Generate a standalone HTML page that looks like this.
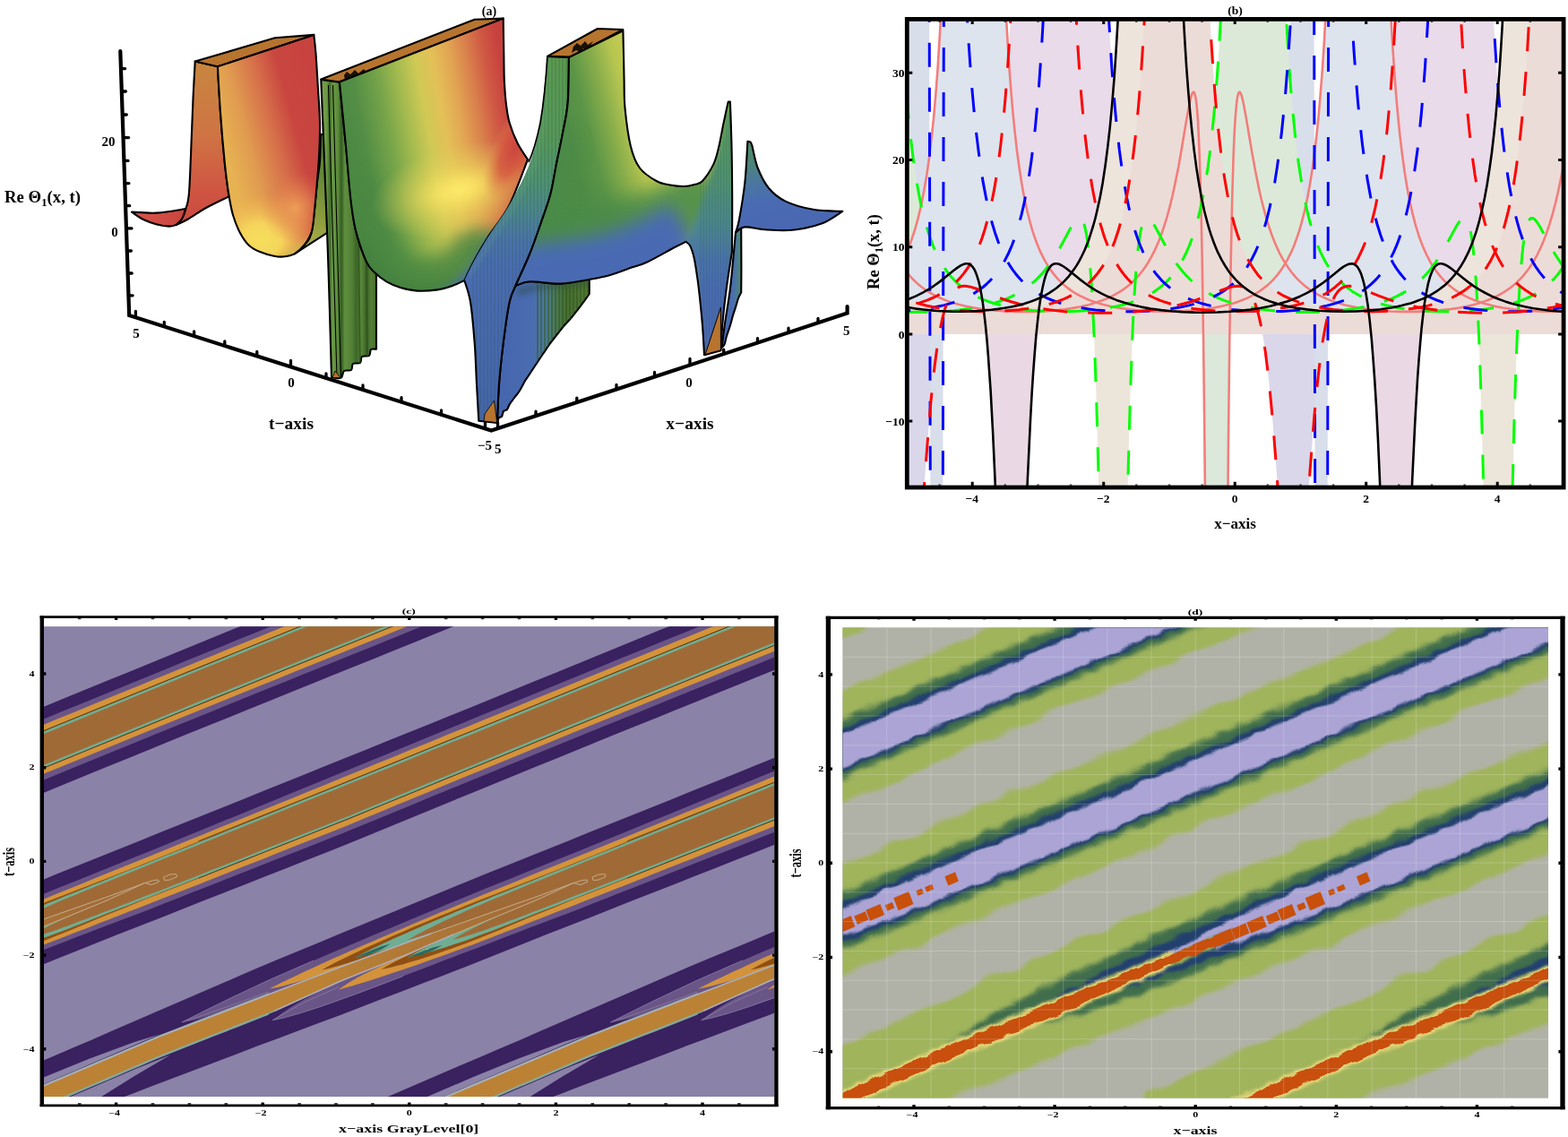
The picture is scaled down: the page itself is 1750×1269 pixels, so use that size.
<!DOCTYPE html>
<html lang="en"><head><meta charset="utf-8"><title>Figure: Re Theta1(x,t) plots</title>
<style>
html,body{margin:0;padding:0;background:#fff;}
body{width:1750px;height:1269px;overflow:hidden;}
svg{display:block;}
text{font-family:"Liberation Serif","DejaVu Serif",serif;font-weight:bold;fill:#000;}
</style></head><body>
<svg width="1750" height="1269" viewBox="0 0 1750 1269">
<defs>
<filter id="ab6" filterUnits="userSpaceOnUse" x="0" y="0" width="1000" height="540"><feGaussianBlur stdDeviation="6"/></filter>
<filter id="ab10" filterUnits="userSpaceOnUse" x="0" y="0" width="1000" height="540"><feGaussianBlur stdDeviation="10"/></filter>
<filter id="ab3" filterUnits="userSpaceOnUse" x="0" y="0" width="1000" height="540"><feGaussianBlur stdDeviation="3"/></filter>
<linearGradient id="a_tr" gradientUnits="userSpaceOnUse" x1="147" y1="236" x2="205" y2="250"><stop offset="0" stop-color="#d9564b"/><stop offset="1" stop-color="#c8443e"/></linearGradient>
<linearGradient id="a_w1s" gradientUnits="userSpaceOnUse" x1="225" y1="70" x2="225" y2="250"><stop offset="0" stop-color="#c8863f"/><stop offset="0.45" stop-color="#cf7444"/><stop offset="0.8" stop-color="#cf5442"/><stop offset="1" stop-color="#cb4a40"/></linearGradient>
<linearGradient id="a_ol" gradientUnits="userSpaceOnUse" x1="335" y1="282" x2="366" y2="190"><stop offset="0" stop-color="#b4b24a"/><stop offset="0.45" stop-color="#8c9c3e"/><stop offset="1" stop-color="#5f8638"/></linearGradient>
<clipPath id="a_w1c"><path d="M242.9 74.3 L350.3 38.9 L350.3 38.9 C350.7 42.4 351.7 49.8 352.5 60 C353.3 70.2 354.2 87.2 355 100 C355.8 112.8 356.8 124.5 357 137 C357.2 149.5 356.6 163.6 356 175 C355.4 186.4 354.5 195.7 353.7 205.7 C352.9 215.7 351.9 226.3 351 235 C350.1 243.7 349.8 251.7 348 258 C346.2 264.3 343.2 268.8 340 273 C336.8 277.2 332.6 281.1 328.6 283.4 C324.6 285.6 319.8 286.1 316 286.5 C312.2 286.9 310 286.6 305.7 285.7 C301.4 284.8 294.6 282.9 290 281 C285.4 279.1 281.7 277.5 278 274 C274.3 270.5 271 265.7 268 260 C265 254.3 262.2 247.5 260 240 C257.8 232.5 256.5 224.5 255 215 C253.5 205.5 252.4 197.8 250.9 182.9 C249.4 168 247.3 143.8 246 125.7 C244.7 107.6 243.4 82.9 242.9 74.3  Z"/></clipPath>
<linearGradient id="a_w1" gradientUnits="userSpaceOnUse" x1="246" y1="150" x2="356" y2="120"><stop offset="0" stop-color="#e7b352"/><stop offset="0.25" stop-color="#e09a50"/><stop offset="0.5" stop-color="#d6704a"/><stop offset="0.72" stop-color="#c94640"/><stop offset="1" stop-color="#c8433f"/></linearGradient>
<radialGradient id="a_w1y" gradientUnits="userSpaceOnUse" cx="292" cy="268" r="62" gradientTransform="translate(292 268) scale(1 0.85) translate(-292 -268)"><stop offset="0" stop-color="#f6df5c" stop-opacity="1"/><stop offset="0.35" stop-color="#f6d85c" stop-opacity="0.95"/><stop offset="1" stop-color="#f0b050" stop-opacity="0"/></radialGradient>
<radialGradient id="a_w1o" gradientUnits="userSpaceOnUse" cx="330" cy="232" r="40"><stop offset="0" stop-color="#f0a258" stop-opacity="0.9"/><stop offset="1" stop-color="#e07a4c" stop-opacity="0"/></radialGradient>
<clipPath id="a_gwc"><path d="M358.3 89 L379 91.4 L379 91.4 C380.1 102.8 383.4 137.1 385.7 160 C388 182.9 390.7 212.4 392.6 228.6 C394.5 244.8 394.3 246.5 397 257 C399.7 267.5 404.8 283.4 408.6 291.4 C412.4 299.4 418.1 302.7 420 305  L420 305 L420 389.7 L420 389.7 C419 389.8 415.3 388.8 414 390 C412.7 391.2 413.7 395.7 412 397 C410.3 398.3 405.7 396.7 404 398 C402.3 399.3 403.7 403.7 402 405 C400.3 406.3 395.7 404.7 394 406 C392.3 407.3 393.7 411.7 392 413 C390.3 414.3 385.8 412.6 384 414 C382.2 415.4 382.7 420.2 381 421.5 C379.3 422.8 375.8 421.8 374 421.7 C372.2 421.6 370.7 421.1 370 421  L370 421 C369.4 400.8 367.8 340.2 366.5 300 C365.2 259.8 363.4 215.2 362 180 C360.6 144.8 358.9 104.2 358.3 89  Z"/></clipPath>
<linearGradient id="a_gw" gradientUnits="userSpaceOnUse" x1="358" y1="0" x2="422" y2="0"><stop offset="0" stop-color="#7aa048"/><stop offset="0.1" stop-color="#6d9a45"/><stop offset="0.16" stop-color="#3f6a2a"/><stop offset="0.2" stop-color="#6a9a45"/><stop offset="0.3" stop-color="#5c8c3c"/><stop offset="0.36" stop-color="#345c22"/><stop offset="0.42" stop-color="#5f8f3e"/><stop offset="0.55" stop-color="#527f36"/><stop offset="0.62" stop-color="#3c6526"/><stop offset="0.7" stop-color="#5a8a3a"/><stop offset="0.8" stop-color="#3a6225"/><stop offset="0.88" stop-color="#547f36"/><stop offset="1" stop-color="#40672a"/></linearGradient>
<clipPath id="a_w2c"><path d="M378.9 91.4 L561.7 20.6 L561.7 20.6 C561.8 27.2 562.1 48.2 562.3 60 C562.5 71.8 562.4 81.9 562.9 91.4 C563.4 100.9 564 109.4 565 117 C566 124.6 566.5 129.8 568.6 137 C570.7 144.2 574.3 153.2 577.7 160 C581.1 166.8 587.1 175 589 178  L589 178 C585.6 186.4 575.8 214.4 568.6 228.6 C561.4 242.8 552.2 252.7 545.7 262.9 C539.2 273.1 534.3 281.6 529.7 290 C525.1 298.4 520.2 309.2 518.3 313  L518.3 313 C516.1 314 509.9 317.3 505 319 C500.1 320.7 495.2 322.5 488.6 323.4 C482.1 324.3 472.6 325 465.7 324.6 C458.8 324.2 452.7 322.7 447 321 C441.3 319.3 436.2 317.1 431.4 314.3 C426.6 311.5 421.8 307.8 418 304 C414.2 300.2 412.1 299.2 408.6 291.4 C405.1 283.6 399.9 268.4 397 257 C394.1 245.6 393.3 239.1 391.4 222.9 C389.5 206.7 387.8 181.9 385.7 160 C383.6 138.1 380 102.8 378.9 91.4  Z"/></clipPath>
<linearGradient id="a_w2" gradientUnits="userSpaceOnUse" x1="385" y1="150" x2="577" y2="115"><stop offset="0" stop-color="#4e8a45"/><stop offset="0.1" stop-color="#548e46"/><stop offset="0.24" stop-color="#74a349"/><stop offset="0.36" stop-color="#a2ba4e"/><stop offset="0.47" stop-color="#cfc955"/><stop offset="0.57" stop-color="#e3c058"/><stop offset="0.67" stop-color="#e2a553"/><stop offset="0.77" stop-color="#d9804c"/><stop offset="0.87" stop-color="#cf5744"/><stop offset="0.95" stop-color="#c8423e"/><stop offset="1" stop-color="#c6403d"/></linearGradient>
<radialGradient id="a_w2y" gradientUnits="userSpaceOnUse" cx="512" cy="212" r="84" gradientTransform="translate(512 212) rotate(-14) scale(1.2 0.6) translate(-512 -212)"><stop offset="0" stop-color="#fde968" stop-opacity="1"/><stop offset="0.2" stop-color="#f8e363" stop-opacity="0.9"/><stop offset="0.55" stop-color="#ecd85c" stop-opacity="0.45"/><stop offset="1" stop-color="#e0d058" stop-opacity="0"/></radialGradient>
<radialGradient id="a_w2r" gradientUnits="userSpaceOnUse" cx="575" cy="165" r="46" gradientTransform="translate(575 165) rotate(25) scale(0.55 1.4) translate(-575 -165)"><stop offset="0" stop-color="#cb463f" stop-opacity="1"/><stop offset="0.5" stop-color="#d5583f" stop-opacity="0.8"/><stop offset="1" stop-color="#e08a4e" stop-opacity="0"/></radialGradient>
<clipPath id="a_unc"><path d="M554.9 472 C555.2 471 556.1 467.2 557 466 C557.9 464.8 559.2 466.2 560 465 C560.8 463.8 561 460.3 562 459 C563 457.7 564.9 458.3 566 457 C567.1 455.7 567.3 453.6 568.6 451.4 C569.9 449.2 572.1 446.6 574 444 C575.9 441.4 578 439.2 580 436 C582 432.8 584.1 428.2 586 425 C587.9 421.8 589.1 420.5 591.4 417 C593.7 413.5 597.6 407.7 600 404 C602.4 400.3 603.6 398.5 606 395 C608.4 391.5 611.6 386.6 614.3 382.9 C617 379.2 619.4 376.3 622 373 C624.6 369.7 627.5 365.9 630 363 C632.5 360.1 634.3 358.6 637 355.4 C639.7 352.2 643.5 347.2 646 344 C648.5 340.8 650 338.7 652 336 C654 333.3 656.8 329.3 657.7 328  L657.7 328 L657.7 310 L657.7 310 C652.4 311.1 636.8 315.9 625.7 316.6 C614.7 317.3 599.8 313.9 591.4 314.3 C583 314.7 578.1 318.1 575.4 318.9  L575.4 318.9 C574.3 321.9 570.9 326.3 568.6 337 C566.3 347.7 563.6 367.6 561.7 382.9 C559.8 398.2 558.1 413.8 557 428.6 C555.9 443.5 555.2 464.8 554.9 472  Z"/></clipPath>
<linearGradient id="a_un" gradientUnits="userSpaceOnUse" x1="566" y1="0" x2="660" y2="0"><stop offset="0" stop-color="#4667ae"/><stop offset="0.3" stop-color="#4a6cb0"/><stop offset="0.45" stop-color="#4b7a96"/><stop offset="0.58" stop-color="#4a7a58"/><stop offset="0.7" stop-color="#466f32"/><stop offset="1" stop-color="#527a34"/></linearGradient>
<clipPath id="a_flc"><path d="M610.9 62.9 L634.9 64 L634.9 64 C634.7 72.4 634.9 100.2 633.7 114.3 C632.6 128.4 630.1 137.2 628 148.6 C625.9 160 623.3 171.6 621 183 C618.7 194.4 617.3 205.7 614.3 217 C611.3 228.3 606.8 240 603 251 C599.2 262 596 271.7 591.4 283 C586.8 294.3 578.1 312.9 575.4 318.9  L575.4 318.9 C574.3 321.9 570.9 326.3 568.6 337 C566.3 347.7 563.6 367.6 561.7 382.9 C559.8 398.2 558.1 413.8 557 428.6 C555.9 443.5 555.2 464.8 554.9 472  L554.9 472 L534.3 469.7 L534.3 469.7 C533.9 462.9 532.8 443.1 532 428.6 C531.2 414.1 530.9 398.2 529.7 382.9 C528.5 367.6 526.9 348.6 525 337 C523.1 325.4 519.4 317 518.3 313  L518.3 313 C520.2 309.2 525.1 298.4 529.7 290 C534.3 281.6 539.2 273.1 545.7 262.9 C552.2 252.7 561.1 241.9 568.6 228.6 C576.1 215.3 585.3 198.3 591 183 C596.7 167.7 599.7 157 603 137 C606.3 117 609.6 75.2 610.9 62.9  Z"/></clipPath>
<linearGradient id="a_fl" gradientUnits="userSpaceOnUse" x1="0" y1="64" x2="0" y2="470"><stop offset="0" stop-color="#5b9a4f"/><stop offset="0.22" stop-color="#57985a"/><stop offset="0.34" stop-color="#4f9272"/><stop offset="0.43" stop-color="#4c8590"/><stop offset="0.5" stop-color="#4a74aa"/><stop offset="0.57" stop-color="#4a6cb3"/><stop offset="1" stop-color="#4565ad"/></linearGradient>
<clipPath id="a_w3c"><path d="M634.9 64 L695.4 34.3 L695.4 34.3 C695.5 40.2 696 60.5 696.2 70 C696.4 79.5 696.4 82.8 696.6 91.4 C696.8 100 696.4 109.8 697.6 121.7 C698.8 133.6 701.1 151.9 703.8 162.9 C706.5 173.9 709.2 181 714 187.5 C718.8 194 726.9 198.8 732.6 202 C738.3 205.2 742.9 205.5 748 206.5 C753.1 207.5 758.9 208.1 763.4 208 C767.9 207.9 771.6 207 775 206 C778.4 205 780.5 205.8 784 202 C787.5 198.2 793.3 189.6 796.3 183.4 C799.3 177.2 800.3 171.8 802 165 C803.7 158.2 805.3 148.8 806.6 142.3 C807.9 135.8 809 130.8 810 126 C811 121.2 812.3 115.6 812.8 113.5  L812.8 113.5 L814.9 113.5 L814.9 113.5 C815.2 121.7 816.1 145.2 816.5 162.9 C816.9 180.7 817.1 200.3 817.2 220 C817.3 239.7 817 270.8 816.9 281  L816.9 281 C815.9 287.9 812.4 309.1 810.7 322.3 C809 335.5 807.5 348.5 806.5 360 C805.5 371.5 804.9 386 804.6 391.2  L804.6 391.2 L786 396.3 L786 396.3 C785.7 390.8 785 375.7 784 363.4 C783 351.1 781.2 333.7 779.9 322.3 C778.6 310.9 777 301.4 776 295 C775 288.6 774.7 287.5 773.7 284 C772.7 280.5 771.4 276.4 770 274 C768.6 271.6 766.2 270.5 765.5 269.8  L765.5 269.8 C763.4 270.8 760.2 272.2 753 276 C745.8 279.8 730.2 288.8 722.3 292.5 C714.4 296.2 712.6 295.9 705.7 298.3 C698.8 300.7 688.6 304.7 681 306.9 C673.4 309.1 669.2 309.9 660 311.5 C650.8 313.1 637.1 316.1 625.7 316.6 C614.3 317.1 599.8 313.9 591.4 314.3 C583 314.7 578.1 318.1 575.4 318.9  L575.4 318.9 C578.1 312.9 586.8 294.3 591.4 283 C596 271.7 599.2 262 603 251 C606.8 240 611.3 228.3 614.3 217 C617.3 205.7 618.7 194.4 621 183 C623.3 171.6 625.9 160 628 148.6 C630.1 137.2 632.6 128.4 633.7 114.3 C634.9 100.2 634.7 72.4 634.9 64  Z"/></clipPath>
<linearGradient id="a_w3" gradientUnits="userSpaceOnUse" x1="628" y1="130" x2="724" y2="105"><stop offset="0" stop-color="#4f8c46"/><stop offset="0.25" stop-color="#5c9547"/><stop offset="0.5" stop-color="#88ad4a"/><stop offset="0.72" stop-color="#b6c550"/><stop offset="1" stop-color="#cfd155"/></linearGradient>
<linearGradient id="a_w3p" gradientUnits="userSpaceOnUse" x1="0" y1="110" x2="0" y2="400"><stop offset="0" stop-color="#569a58"/><stop offset="0.3" stop-color="#509270"/><stop offset="0.5" stop-color="#4c8490"/><stop offset="0.62" stop-color="#4a72ac"/><stop offset="0.75" stop-color="#4a6ab3"/><stop offset="1" stop-color="#4867b0"/></linearGradient>
<linearGradient id="a_p4b" gradientUnits="userSpaceOnUse" x1="806" y1="0" x2="828" y2="0"><stop offset="0" stop-color="#4a69b2"/><stop offset="0.55" stop-color="#4a6db0"/><stop offset="0.8" stop-color="#4c7f8a"/><stop offset="1" stop-color="#4f8c60"/></linearGradient>
<linearGradient id="a_p4" gradientUnits="userSpaceOnUse" x1="836" y1="158" x2="850" y2="250"><stop offset="0" stop-color="#4f8a62"/><stop offset="0.25" stop-color="#4d8478"/><stop offset="0.5" stop-color="#4b76a0"/><stop offset="0.75" stop-color="#4a6bb3"/><stop offset="1" stop-color="#4968b1"/></linearGradient>
<clipPath id="bclip"><rect x="1012.3" y="21.4" width="732.8" height="522.6"/></clipPath>
<clipPath id="cclip"><rect x="49" y="699.2" width="815.2" height="524.8"/></clipPath>
<linearGradient id="c_cen" gradientUnits="userSpaceOnUse" x1="360" y1="0" x2="580" y2="0"><stop offset="0" stop-color="#bb8235"/><stop offset="1" stop-color="#a36c37"/></linearGradient>
<g id="cband"><path d="M-60 1230.1 L-36.9 1220.2 L-13.7 1210.2 L9.4 1200.3 L32.6 1190.3 L55.7 1180.4 L78.9 1170.6 L102 1160.7 L125.1 1150.6 L148.3 1140.6 L171.4 1130.6 L194.6 1120.6 L217.7 1110.6 L240.9 1100.6 L264 1090.6 L287.1 1080.6 L310.3 1070.8 L333.4 1061.2 L356.6 1051.7 L379.7 1042.1 L402.9 1032.6 L426 1023.1 L449.1 1013.6 L472.3 1004 L495.4 994.5 L518.6 985 L541.7 975.6 L564.9 966.3 L588 957 L611.1 947.7 L634.3 938.4 L657.4 929.1 L680.6 919.8 L703.7 910.5 L726.9 901.2 L750 891.9 L773.1 882.5 L796.3 873.2 L819.4 863.9 L842.6 854.6 L865.7 845.3 L888.9 836 L912 826.6 L935.1 817.3 L958.3 807.9 L981.4 798.6 L1004.6 789.2 L1027.7 779.8 L1050.9 770.3 L1074 760.8 L1097.1 751.4 L1120.3 741.9 L1143.4 732.5 L1166.6 723 L1189.7 713.6 L1212.9 704.1 L1236 694.7 L1259.1 685.4 L1282.3 676 L1305.4 666.6 L1328.6 657.2 L1351.7 647.9 L1374.9 638.5 L1398 629.1 L1421.1 619.7 L1444.3 610.3 L1467.4 600.9 L1490.6 591.5 L1513.7 582.1 L1536.9 572.6 L1560 563.2 L1560 660 L1536.9 669.4 L1513.7 678.7 L1490.6 688.1 L1467.4 697.4 L1444.3 706.8 L1421.1 716.2 L1398 725.5 L1374.9 734.9 L1351.7 744.3 L1328.6 753.6 L1305.4 763 L1282.3 772.3 L1259.1 781.7 L1236 791 L1212.9 800.4 L1189.7 809.7 L1166.6 819 L1143.4 828.5 L1120.3 837.9 L1097.1 847.4 L1074 856.8 L1050.9 866.3 L1027.7 875.8 L1004.6 885.2 L981.4 894.7 L958.3 904.3 L935.1 913.8 L912 923.3 L888.9 932.8 L865.7 942.3 L842.6 951.4 L819.4 960.6 L796.3 969.7 L773.1 978.8 L750 987.9 L726.9 997 L703.7 1006.1 L680.6 1015.3 L657.4 1024.4 L634.3 1033.5 L611.1 1042.6 L588 1051.8 L564.9 1061.1 L541.7 1070.3 L518.6 1079.5 L495.4 1088.4 L472.3 1097.3 L449.1 1106.2 L426 1115.1 L402.9 1124 L379.7 1132.9 L356.6 1141.5 L333.4 1150.2 L310.3 1158.9 L287.1 1167.6 L264 1176.4 L240.9 1185.2 L217.7 1194 L194.6 1202.8 L171.4 1211.6 L148.3 1220.4 L125.1 1229.3 L102 1238.1 L78.9 1246.9 L55.7 1255.7 L32.6 1264.5 L9.4 1273.3 L-13.7 1282.1 L-36.9 1290.9 L-60 1299.7 Z" fill="#3a2160"/>
<path d="M-60 1249 L49.1 1202.3 L100 1181.5 L150 1163 L178 1154.5 L150 1166.5 L100 1188 L49.1 1210 L-60 1256.5 Z" fill="#8a82a7"/>
<path d="M60 1256 L114 1223.6 L150 1201 L190 1177.5 L150 1193.5 L100 1215 L60 1232 Z" fill="#8a82a7"/>
<path d="M203 1141 L203.2 1140.9 L203.7 1140.7 L204.5 1140.2 L205.7 1139.6 L207.2 1138.8 L209 1137.9 L211.2 1136.8 L213.7 1135.5 L216.6 1134.1 L219.8 1132.5 L223.3 1130.7 L227.1 1128.8 L231.3 1126.7 L235.8 1124.4 L240.7 1122.1 L245.9 1119.5 L251.4 1116.8 L257.3 1114 L263.5 1111.1 L270 1107.9 L276.9 1104.7 L284.1 1101.3 L291.6 1097.8 L299.5 1094.1 L307.7 1090.5 L316.3 1086.7 L325.1 1082.9 L334.3 1078.8 L343.9 1074.7 L353.8 1070.5 L364 1066.1 L374.6 1061.6 L385.4 1056.9 L396.7 1052.2 L408.2 1047.3 L420.1 1042.3 L432.3 1037.2 L444.9 1031.9 L457.8 1026.5 L471 1021 L484.6 1015.4 L498.5 1009.6 L512.8 1003.7 L527.3 997.7 L542.2 991.6 L557.5 985.5 L573.1 979.2 L589 972.7 L605.2 966.2 L621.8 959.5 L638.7 952.7 L656 945.7 L673.6 938.5 L691.5 931.2 L709.8 923.7 L728.4 916.1 L747.3 908.4 L766.6 900.5 L786.2 892.5 L806.1 884.3 L826.4 876 L847 867.6 L867.9 859.1 L889.2 850.3 L910.8 841.5 L932.8 832.5 L955 823.3 L977.7 814 L1000.6 804.6 L1023.9 795.1 L1047.5 785.5 L1071.5 775.7 L1095.8 765.7 L1120.4 755.7 L1145.4 745.5 L1170.7 735.1 L1196.3 724.7 L1222.3 714.1 L1248.6 703.4 L1275.2 692.7 L1302.2 681.7 L1329.5 670.7 L1357.1 659.5 L1385.1 648.1 L1413.4 636.6 L1442.1 625 L1471 613.2 L1500.4 601.3 L1530 589.2 L1560 577 L1560 612.6 L1530 624.8 L1500.4 636.8 L1471 648.7 L1442.1 660.4 L1413.4 672.1 L1385.1 683.5 L1357.1 694.9 L1329.5 706.1 L1302.2 717.1 L1275.2 728 L1248.6 738.8 L1222.3 749.4 L1196.3 760 L1170.7 770.4 L1145.4 780.7 L1120.4 790.9 L1095.8 800.9 L1071.5 810.9 L1047.5 820.7 L1023.9 830.3 L1000.6 839.8 L977.7 849.2 L955 858.4 L932.8 867.5 L910.8 876.4 L889.2 885.2 L867.9 893.9 L847 902.3 L826.4 910.5 L806.1 918.5 L786.2 926.5 L766.6 934.3 L747.3 942 L728.4 949.5 L709.8 956.9 L691.5 964.2 L673.6 971.3 L656 978.3 L638.7 986.6 L621.8 992.9 L605.2 999 L589 1004.8 L573.1 1010.4 L557.5 1015.9 L542.2 1021.2 L527.3 1026.4 L512.8 1031.5 L498.5 1036.5 L484.6 1041.3 L471 1046.3 L457.8 1051.1 L444.9 1055.9 L432.3 1060.5 L420.1 1065 L408.2 1069.4 L396.7 1073.7 L385.4 1077.8 L374.6 1081.9 L364 1085.9 L353.8 1089.8 L343.9 1093.6 L334.3 1097.2 L325.1 1100.7 L316.3 1104.1 L307.7 1107.3 L299.5 1110.4 L291.6 1113.3 L284.1 1116.2 L276.9 1118.8 L270 1121.3 L263.5 1123.7 L257.3 1125.9 L251.4 1127.9 L245.9 1129.8 L240.7 1131.5 L235.8 1133 L231.3 1134.4 L227.1 1135.6 L223.3 1136.7 L219.8 1137.6 L216.6 1138.4 L213.7 1139 L211.2 1139.6 L209 1140 L207.2 1140.3 L205.7 1140.6 L204.5 1140.8 L203.7 1140.9 L203.2 1141 L203 1141 Z" fill="#6a5587"/>
<path d="M304.2 1138.6 L304.4 1138.6 L304.8 1138.5 L305.6 1138.3 L306.7 1138.1 L308.1 1137.8 L309.8 1137.5 L311.8 1137 L314.1 1136.5 L316.8 1135.9 L319.7 1135.1 L323 1134.3 L326.5 1133.3 L330.4 1132.2 L334.6 1130.9 L339.1 1129.6 L343.9 1128 L349 1126.4 L354.4 1124.6 L360.2 1122.7 L366.2 1120.6 L372.6 1118.4 L379.2 1116 L386.2 1113.5 L393.5 1110.8 L401.1 1108 L409 1105 L417.2 1101.9 L425.7 1098.7 L434.6 1095.3 L443.7 1091.8 L453.2 1088.2 L463 1084.5 L473 1080.7 L483.4 1076.7 L494.1 1072.6 L505.1 1068.4 L516.4 1064.1 L528.1 1059.7 L540 1055.2 L552.3 1050.5 L564.8 1045.6 L577.7 1040.7 L590.9 1035.6 L604.4 1030.5 L618.1 1025.3 L632.3 1020 L646.7 1014.4 L661.4 1008.6 L676.4 1002.7 L691.8 996.6 L707.5 990.5 L723.4 984.2 L739.7 977.8 L756.3 971.2 L773.2 964.6 L790.4 957.8 L807.9 950.9 L825.7 943.9 L843.9 936.7 L862.3 929.4 L881.1 921.8 L900.2 913.9 L919.5 905.9 L939.2 897.9 L959.2 889.6 L979.5 881.3 L1000.2 872.8 L1021.1 864.2 L1042.3 855.5 L1063.9 846.7 L1085.7 837.8 L1107.9 828.7 L1130.4 819.5 L1153.2 810.2 L1176.3 800.9 L1199.7 791.4 L1223.4 781.8 L1247.4 772.1 L1271.8 762.3 L1296.4 752.3 L1321.4 742.3 L1346.7 732 L1372.3 721.7 L1398.1 711.2 L1424.3 700.6 L1450.9 689.9 L1477.7 679 L1504.8 668 L1532.2 656.9 L1560 645.7 L1560 610.6 L1532.2 621.9 L1504.8 633 L1477.7 644 L1450.9 654.9 L1424.3 665.6 L1398.1 676.2 L1372.3 686.7 L1346.7 697.1 L1321.4 707.3 L1296.4 717.4 L1271.8 727.4 L1247.4 737.2 L1223.4 747 L1199.7 756.6 L1176.3 766.1 L1153.2 775.5 L1130.4 784.8 L1107.9 794 L1085.7 803 L1063.9 812 L1042.3 820.8 L1021.1 829.5 L1000.2 838 L979.5 846.4 L959.2 854.7 L939.2 862.8 L919.5 870.9 L900.2 878.8 L881.1 886.5 L862.3 894.2 L843.9 901.5 L825.7 908.7 L807.9 915.8 L790.4 922.8 L773.2 929.6 L756.3 936.4 L739.7 943 L723.4 949.5 L707.5 955.8 L691.8 962.1 L676.4 968.2 L661.4 974.1 L646.7 980 L632.3 988.5 L618.1 995 L604.4 1001.4 L590.9 1007.2 L577.7 1012.7 L564.8 1018 L552.3 1023.2 L540 1028.3 L528.1 1033.2 L516.4 1038.1 L505.1 1042.8 L494.1 1047.5 L483.4 1052.2 L473 1056.6 L463 1061 L453.2 1065.2 L443.7 1069 L434.6 1072.6 L425.7 1076.2 L417.2 1079.7 L409 1083 L401.1 1086.3 L393.5 1089.4 L386.2 1092.4 L379.2 1095.4 L372.6 1098.6 L366.2 1101.7 L360.2 1104.7 L354.4 1107.6 L349 1110.4 L343.9 1113.2 L339.1 1115.8 L334.6 1118.3 L330.4 1120.8 L326.5 1123.1 L323 1125.3 L319.7 1127.4 L316.8 1129.4 L314.1 1131.2 L311.8 1132.9 L309.8 1134.4 L308.1 1135.7 L306.7 1136.7 L305.6 1137.6 L304.8 1138.1 L304.4 1138.5 L304.2 1138.6 Z" fill="#6a5587"/>
<path d="M300.5 1103.5 L300.7 1103.4 L301.1 1103.2 L301.9 1102.8 L303 1102.3 L304.4 1101.6 L306.1 1100.7 L308.1 1099.7 L310.5 1098.6 L313.1 1097.3 L316 1095.8 L319.3 1094.2 L322.9 1092.5 L326.8 1090.7 L331 1088.7 L335.5 1086.5 L340.3 1084.3 L345.4 1081.9 L350.9 1079.4 L356.6 1076.8 L362.7 1074 L369.1 1071.1 L375.8 1068.1 L382.8 1065 L390.1 1061.8 L397.7 1058.4 L405.6 1055 L413.9 1051.4 L422.4 1047.7 L431.3 1043.9 L440.4 1040 L449.9 1035.9 L459.7 1031.8 L469.8 1027.5 L480.3 1023.1 L491 1018.6 L502 1014 L513.4 1009.2 L525 1004.4 L537 999.5 L549.3 994.5 L561.9 989.4 L574.8 984.2 L588 978.8 L601.5 973.3 L615.4 967.7 L629.5 962 L644 956.2 L658.8 950.2 L673.8 944 L689.2 937.8 L704.9 931.4 L721 924.8 L737.3 918.2 L753.9 911.4 L770.9 904.5 L788.1 897.5 L805.7 890.4 L823.6 883.1 L841.8 875.7 L860.3 868.1 L879.1 860.5 L898.2 852.6 L917.7 844.7 L937.4 836.6 L957.5 828.4 L977.8 820.1 L998.5 811.7 L1019.5 803.1 L1040.8 794.4 L1062.4 785.6 L1084.3 776.6 L1106.6 767.5 L1129.1 758.3 L1152 749 L1175.2 739.5 L1198.6 729.9 L1222.4 720.2 L1246.5 710.5 L1270.9 700.6 L1295.7 690.6 L1320.7 680.4 L1346 670.2 L1371.7 659.7 L1397.7 649.2 L1423.9 638.5 L1450.5 627.7 L1477.4 616.8 L1504.6 605.7 L1532.2 594.6 L1560 583.2 L1560 612.6 L1532.2 623.9 L1504.6 635.1 L1477.4 646.1 L1450.5 657 L1423.9 667.8 L1397.7 678.4 L1371.7 689 L1346 699.4 L1320.7 709.6 L1295.7 719.7 L1270.9 729.7 L1246.5 739.6 L1222.4 749.4 L1198.6 759 L1175.2 768.5 L1152 778 L1129.1 787.3 L1106.6 796.5 L1084.3 805.6 L1062.4 814.6 L1040.8 823.4 L1019.5 832.1 L998.5 840.7 L977.8 849.1 L957.5 857.4 L937.4 865.6 L917.7 873.6 L898.2 881.6 L879.1 889.4 L860.3 897 L841.8 904.3 L823.6 911.6 L805.7 918.7 L788.1 925.7 L770.9 932.6 L753.9 939.3 L737.3 945.9 L721 952.4 L704.9 958.8 L689.2 965.1 L673.8 971.2 L658.8 977.2 L644 983.1 L629.5 990 L615.4 995.3 L601.5 1000.4 L588 1005.2 L574.8 1009.8 L561.9 1014.3 L549.3 1018.7 L537 1023 L525 1027.2 L513.4 1031.3 L502 1035.2 L491 1039.1 L480.3 1042.9 L469.8 1046.7 L459.7 1050.4 L449.9 1054 L440.4 1057.5 L431.3 1060.9 L422.4 1064.1 L413.9 1067.2 L405.6 1070.2 L397.7 1073.1 L390.1 1075.8 L382.8 1078.4 L375.8 1081 L369.1 1083.4 L362.7 1085.7 L356.6 1087.8 L350.9 1089.8 L345.4 1091.7 L340.3 1093.4 L335.5 1094.9 L331 1096.3 L326.8 1097.5 L322.9 1098.6 L319.3 1099.6 L316 1100.4 L313.1 1101.1 L310.5 1101.7 L308.1 1102.2 L306.1 1102.6 L304.4 1102.9 L303 1103.1 L301.9 1103.3 L301.1 1103.4 L300.7 1103.5 L300.5 1103.5 Z" fill="#d4933a"/>
<path d="M378 1104.5 L378.1 1104.5 L378.6 1104.3 L379.3 1104.2 L380.3 1103.9 L381.6 1103.5 L383.3 1103.1 L385.2 1102.6 L387.3 1101.9 L389.8 1101.2 L392.6 1100.4 L395.7 1099.5 L399 1098.5 L402.7 1097.4 L406.6 1096.2 L410.8 1094.9 L415.4 1093.5 L420.2 1091.9 L425.3 1090.3 L430.7 1088.5 L436.4 1086.6 L442.4 1084.6 L448.6 1082.5 L455.2 1080.3 L462.1 1077.9 L469.2 1075.4 L476.6 1072.8 L484.4 1070 L492.4 1067.2 L500.7 1064.2 L509.3 1061 L518.2 1057.8 L527.4 1054.4 L536.9 1050.8 L546.7 1047 L556.8 1043.1 L567.1 1039 L577.8 1034.9 L588.7 1030.6 L600 1026.2 L611.5 1021.7 L623.3 1017.1 L635.4 1012.4 L647.8 1007.6 L660.5 1002.6 L673.5 997.5 L686.8 992.2 L700.4 986.9 L714.2 981.4 L728.4 975.8 L742.8 970.1 L757.6 964.3 L772.6 958.4 L787.9 952.3 L803.5 946.1 L819.4 939.8 L835.6 933.4 L852.1 926.9 L868.9 920.2 L886 913.1 L903.3 905.9 L921 898.6 L938.9 891.2 L957.2 883.7 L975.7 876 L994.5 868.3 L1013.7 860.4 L1033.1 852.5 L1052.8 844.4 L1072.8 836.3 L1093 828 L1113.6 819.5 L1134.5 811 L1155.6 802.4 L1177.1 793.7 L1198.8 784.9 L1220.9 776 L1243.2 767 L1265.8 757.9 L1288.7 748.6 L1311.9 739.2 L1335.4 729.8 L1359.2 720.1 L1383.3 710.4 L1407.7 700.5 L1432.3 690.6 L1457.3 680.5 L1482.5 670.2 L1508.1 659.9 L1533.9 649.5 L1560 638.9 L1560 610.6 L1533.9 621.2 L1508.1 631.7 L1482.5 642 L1457.3 652.3 L1432.3 662.4 L1407.7 672.4 L1383.3 682.3 L1359.2 692 L1335.4 701.7 L1311.9 711.2 L1288.7 720.5 L1265.8 729.8 L1243.2 739 L1220.9 748 L1198.8 756.9 L1177.1 765.8 L1155.6 774.5 L1134.5 783.1 L1113.6 791.6 L1093 800.1 L1072.8 808.4 L1052.8 816.5 L1033.1 824.6 L1013.7 832.5 L994.5 840.3 L975.7 848 L957.2 855.5 L938.9 863 L921 870.3 L903.3 877.5 L886 884.5 L868.9 891.5 L852.1 898.2 L835.6 904.8 L819.4 911.2 L803.5 917.6 L787.9 923.8 L772.6 929.9 L757.6 935.9 L742.8 941.7 L728.4 947.5 L714.2 953.1 L700.4 958.6 L686.8 964 L673.5 969.3 L660.5 974.5 L647.8 979.6 L635.4 987 L623.3 992.6 L611.5 998.1 L600 1003.4 L588.7 1008.1 L577.8 1012.6 L567.1 1017.1 L556.8 1021.4 L546.7 1025.5 L536.9 1029.6 L527.4 1033.6 L518.2 1037.4 L509.3 1041.1 L500.7 1044.8 L492.4 1048.4 L484.4 1051.9 L476.6 1055.3 L469.2 1058.6 L462.1 1061.8 L455.2 1064.9 L448.6 1067.7 L442.4 1070.4 L436.4 1073 L430.7 1075.5 L425.3 1078 L420.2 1080.4 L415.4 1082.7 L410.8 1084.9 L406.6 1087.1 L402.7 1089.1 L399 1091.1 L395.7 1093 L392.6 1094.8 L389.8 1096.5 L387.3 1098 L385.2 1099.5 L383.3 1100.7 L381.6 1101.8 L380.3 1102.7 L379.3 1103.5 L378.6 1104 L378.1 1104.4 L378 1104.5 Z" fill="#d4933a"/>
<path d="M359 1082.5 L359.1 1082.4 L359.6 1082.2 L360.3 1081.8 L361.4 1081.2 L362.7 1080.5 L364.3 1079.6 L366.3 1078.5 L368.5 1077.3 L371 1076 L373.8 1074.6 L376.9 1073 L380.4 1071.2 L384.1 1069.4 L388.1 1067.4 L392.4 1065.4 L397 1063.2 L401.9 1060.9 L407 1058.5 L412.5 1056 L418.3 1053.4 L424.4 1050.7 L430.8 1047.9 L437.4 1045 L444.4 1042 L451.7 1038.9 L459.2 1035.6 L467.1 1032.3 L475.2 1028.9 L483.7 1025.4 L492.4 1021.8 L501.5 1018.2 L510.8 1014.4 L520.5 1010.6 L530.4 1006.6 L540.6 1002.6 L551.2 998.5 L562 994.3 L573.1 990 L584.5 985.5 L596.2 981 L608.2 976.3 L620.6 971.5 L633.2 966.4 L646.1 961.2 L659.2 955.9 L672.7 950.4 L686.5 944.8 L700.6 939.1 L715 933.3 L729.7 927.4 L744.7 921.3 L759.9 915.1 L775.5 908.8 L791.4 902.4 L807.5 895.9 L824 889.2 L840.7 882.5 L857.8 875.6 L875.1 868.6 L892.8 861.4 L910.7 854.1 L929 846.7 L947.5 839.2 L966.3 831.5 L985.4 823.8 L1004.9 815.9 L1024.6 807.8 L1044.6 799.7 L1064.9 791.4 L1085.5 782.9 L1106.4 774.4 L1127.6 765.7 L1149.1 756.9 L1170.9 748 L1193 739 L1215.4 729.9 L1238.1 720.7 L1261.1 711.4 L1284.4 701.9 L1307.9 692.4 L1331.8 682.7 L1356 672.9 L1380.4 663 L1405.2 652.9 L1430.3 642.7 L1455.6 632.5 L1481.3 622 L1507.2 611.5 L1533.5 600.8 L1560 590 L1560 612.6 L1533.5 623.4 L1507.2 634 L1481.3 644.5 L1455.6 654.9 L1430.3 665.2 L1405.2 675.4 L1380.4 685.4 L1356 695.3 L1331.8 705.1 L1307.9 714.8 L1284.4 724.3 L1261.1 733.7 L1238.1 743 L1215.4 752.2 L1193 761.3 L1170.9 770.3 L1149.1 779.1 L1127.6 787.9 L1106.4 796.6 L1085.5 805.1 L1064.9 813.6 L1044.6 821.9 L1024.6 830 L1004.9 838.1 L985.4 846 L966.3 853.8 L947.5 861.5 L929 869 L910.7 876.5 L892.8 883.8 L875.1 891 L857.8 898 L840.7 904.8 L824 911.4 L807.5 918 L791.4 924.4 L775.5 930.7 L759.9 936.9 L744.7 943 L729.7 949 L715 954.8 L700.6 960.5 L686.5 966.1 L672.7 971.6 L659.2 977 L646.1 982.3 L633.2 988.6 L620.6 993.3 L608.2 997.9 L596.2 1002.3 L584.5 1006.4 L573.1 1010.4 L562 1014.3 L551.2 1018.1 L540.6 1021.7 L530.4 1025.3 L520.5 1028.8 L510.8 1032.1 L501.5 1035.4 L492.4 1038.6 L483.7 1041.6 L475.2 1044.6 L467.1 1047.6 L459.2 1050.5 L451.7 1053.2 L444.4 1055.8 L437.4 1058.3 L430.8 1060.7 L424.4 1062.9 L418.3 1065 L412.5 1067 L407 1068.9 L401.9 1070.6 L397 1072.2 L392.4 1073.6 L388.1 1074.9 L384.1 1076.1 L380.4 1077.2 L376.9 1078.2 L373.8 1079 L371 1079.8 L368.5 1080.4 L366.3 1080.9 L364.3 1081.4 L362.7 1081.7 L361.4 1082 L360.3 1082.2 L359.6 1082.4 L359.1 1082.5 L359 1082.5 Z" fill="#8f4f14"/>
<path d="M425.4 1082 L425.5 1082 L426 1081.9 L426.7 1081.8 L427.6 1081.6 L428.9 1081.3 L430.4 1081 L432.3 1080.6 L434.4 1080.1 L436.7 1079.5 L439.4 1078.9 L442.3 1078.1 L445.6 1077.3 L449.1 1076.4 L452.9 1075.3 L456.9 1074.1 L461.3 1072.8 L465.9 1071.4 L470.8 1069.9 L476 1068.2 L481.4 1066.4 L487.2 1064.5 L493.2 1062.4 L499.5 1060.2 L506.1 1057.9 L512.9 1055.5 L520.1 1052.9 L527.5 1050 L535.2 1047 L543.2 1043.7 L551.5 1040.4 L560 1036.9 L568.8 1033.3 L577.9 1029.5 L587.3 1025.6 L597 1021.6 L606.9 1017.6 L617.2 1013.4 L627.7 1009.1 L638.5 1004.6 L649.5 1000.2 L660.9 995.8 L672.5 991.2 L684.4 986.5 L696.6 981.7 L709 976.8 L721.8 971.8 L734.8 966.6 L748.1 961.4 L761.7 956 L775.6 950.6 L789.7 945 L804.2 939.3 L818.9 933.5 L833.9 927.6 L849.1 921.5 L864.7 915.4 L880.5 908.9 L896.6 902.3 L913 895.5 L929.7 888.7 L946.6 881.7 L963.8 874.6 L981.4 867.4 L999.1 860.1 L1017.2 852.7 L1035.6 845.2 L1054.2 837.5 L1073.1 829.8 L1092.3 822 L1111.8 814 L1131.5 805.9 L1151.5 797.7 L1171.9 789.5 L1192.4 781.2 L1213.3 772.8 L1234.5 764.2 L1255.9 755.6 L1277.6 746.8 L1299.6 737.9 L1321.9 728.9 L1344.4 719.8 L1367.3 710.6 L1390.4 701.2 L1413.8 691.8 L1437.4 682.2 L1461.4 672.5 L1485.6 662.7 L1510.1 652.8 L1534.9 642.7 L1560 632.6 L1560 610.6 L1534.9 620.8 L1510.1 630.8 L1485.6 640.8 L1461.4 650.6 L1437.4 660.3 L1413.8 669.9 L1390.4 679.4 L1367.3 688.8 L1344.4 698 L1321.9 707.1 L1299.6 716.1 L1277.6 725 L1255.9 733.8 L1234.5 742.5 L1213.3 751.1 L1192.4 759.5 L1171.9 767.9 L1151.5 776.1 L1131.5 784.3 L1111.8 792.4 L1092.3 800.4 L1073.1 808.2 L1054.2 815.9 L1035.6 823.6 L1017.2 831.1 L999.1 838.4 L981.4 845.7 L963.8 852.8 L946.6 859.8 L929.7 866.7 L913 873.5 L896.6 880.2 L880.5 886.8 L864.7 893.2 L849.1 899.4 L833.9 905.5 L818.9 911.5 L804.2 917.3 L789.7 923.1 L775.6 928.7 L761.7 934.2 L748.1 939.6 L734.8 944.9 L721.8 950.1 L709 955.2 L696.6 960.1 L684.4 965 L672.5 969.7 L660.9 974.4 L649.5 978.9 L638.5 985.6 L627.7 990.6 L617.2 995.5 L606.9 1000.2 L597 1004.7 L587.3 1008.7 L577.9 1012.6 L568.8 1016.4 L560 1020 L551.5 1023.6 L543.2 1027.1 L535.2 1030.4 L527.5 1033.6 L520.1 1036.8 L512.9 1039.8 L506.1 1042.7 L499.5 1045.6 L493.2 1048.4 L487.2 1051.2 L481.4 1053.8 L476 1056.3 L470.8 1058.7 L465.9 1061.1 L461.3 1063.3 L456.9 1065.4 L452.9 1067.4 L449.1 1069.2 L445.6 1071 L442.3 1072.6 L439.4 1074.1 L436.7 1075.5 L434.4 1076.8 L432.3 1078 L430.4 1079 L428.9 1079.9 L427.6 1080.7 L426.7 1081.2 L426 1081.7 L425.5 1081.9 L425.4 1082 Z" fill="#8f4f14"/>
<path d="M396.4 1068.6 L396.5 1068.5 L397 1068.3 L397.7 1067.9 L398.7 1067.4 L400 1066.7 L401.6 1065.9 L403.4 1064.9 L405.6 1063.8 L408 1062.6 L410.8 1061.2 L413.8 1059.7 L417.1 1058.1 L420.7 1056.4 L424.6 1054.5 L428.7 1052.6 L433.2 1050.5 L437.9 1048.3 L442.9 1046.1 L448.3 1043.7 L453.9 1041.2 L459.8 1038.6 L465.9 1035.9 L472.4 1033.1 L479.1 1030.2 L486.2 1027.3 L493.5 1024.2 L501.1 1020.9 L509 1017.6 L517.2 1014.2 L525.7 1010.7 L534.5 1007.1 L543.5 1003.4 L552.8 999.6 L562.5 995.8 L572.4 991.8 L582.6 987.6 L593.1 983.4 L603.8 979.1 L614.9 974.6 L626.2 970 L637.9 965.4 L649.8 960.5 L662 955.6 L674.5 950.5 L687.3 945.4 L700.4 940.1 L713.7 934.7 L727.4 929.2 L741.3 923.5 L755.5 917.8 L770 911.9 L784.8 905.9 L799.9 899.8 L815.3 893.6 L831 887.3 L846.9 880.8 L863.1 874.3 L879.7 867.5 L896.5 860.7 L913.6 853.8 L930.9 846.7 L948.6 839.5 L966.6 832.2 L984.8 824.8 L1003.3 817.3 L1022.2 809.6 L1041.3 801.8 L1060.7 793.9 L1080.3 785.9 L1100.3 777.7 L1120.6 769.4 L1141.1 761 L1161.9 752.5 L1183.1 743.9 L1204.5 735.2 L1226.1 726.3 L1248.1 717.4 L1270.4 708.4 L1292.9 699.3 L1315.8 690 L1338.9 680.7 L1362.3 671.1 L1386 661.5 L1410 651.8 L1434.3 641.9 L1458.9 631.9 L1483.7 621.8 L1508.9 611.6 L1534.3 601.3 L1560 590.8 L1560 612.6 L1534.3 623 L1508.9 633.4 L1483.7 643.5 L1458.9 653.6 L1434.3 663.6 L1410 673.4 L1386 683.1 L1362.3 692.8 L1338.9 702.2 L1315.8 711.6 L1292.9 720.8 L1270.4 730 L1248.1 739 L1226.1 747.9 L1204.5 756.7 L1183.1 765.3 L1161.9 773.9 L1141.1 782.4 L1120.6 790.8 L1100.3 799.1 L1080.3 807.3 L1060.7 815.3 L1041.3 823.2 L1022.2 831 L1003.3 838.7 L984.8 846.3 L966.6 853.7 L948.6 861 L930.9 868.2 L913.6 875.3 L896.5 882.3 L879.7 889.1 L863.1 895.8 L846.9 902.3 L831 908.7 L815.3 914.9 L799.9 921 L784.8 927 L770 932.9 L755.5 938.7 L741.3 944.3 L727.4 949.9 L713.7 955.3 L700.4 960.6 L687.3 965.8 L674.5 970.9 L662 975.9 L649.8 980.8 L637.9 986.9 L626.2 991.2 L614.9 995.4 L603.8 999.6 L593.1 1003.4 L582.6 1007.1 L572.4 1010.6 L562.5 1014.1 L552.8 1017.5 L543.5 1020.7 L534.5 1023.9 L525.7 1026.9 L517.2 1029.9 L509 1032.7 L501.1 1035.4 L493.5 1038.1 L486.2 1040.6 L479.1 1043 L472.4 1045.4 L465.9 1047.7 L459.8 1049.9 L453.9 1051.9 L448.3 1053.8 L442.9 1055.6 L437.9 1057.3 L433.2 1058.8 L428.7 1060.2 L424.6 1061.5 L420.7 1062.6 L417.1 1063.7 L413.8 1064.6 L410.8 1065.4 L408 1066.1 L405.6 1066.7 L403.4 1067.2 L401.6 1067.6 L400 1067.9 L398.7 1068.2 L397.7 1068.4 L397 1068.5 L396.5 1068.6 L396.4 1068.6 Z" fill="#6fae94"/>
<path d="M454.4 1068.6 L454.5 1068.6 L454.9 1068.5 L455.6 1068.4 L456.6 1068.2 L457.8 1067.9 L459.3 1067.6 L461.1 1067.2 L463.1 1066.7 L465.5 1066.2 L468 1065.6 L470.9 1064.8 L474.1 1064 L477.5 1063.1 L481.2 1062 L485.1 1060.9 L489.3 1059.6 L493.8 1058.2 L498.6 1056.7 L503.7 1055.1 L509 1053.3 L514.6 1051.4 L520.5 1049.4 L526.6 1047.2 L533 1044.8 L539.7 1042.3 L546.7 1039.7 L553.9 1036.9 L561.4 1034 L569.2 1030.9 L577.2 1027.8 L585.6 1024.5 L594.2 1021.1 L603 1017.6 L612.2 1014.1 L621.6 1010.4 L631.3 1006.6 L641.3 1002.7 L651.5 998.7 L662 994.5 L672.8 990.3 L683.8 985.9 L695.2 981.5 L706.8 976.9 L718.7 972.2 L730.8 967.4 L743.2 962.5 L755.9 957.5 L768.9 952.4 L782.1 947.2 L795.6 941.8 L809.4 936.4 L823.5 930.9 L837.8 925.2 L852.4 919.4 L867.3 913.5 L882.4 907.3 L897.9 900.9 L913.6 894.5 L929.5 887.9 L945.8 881.2 L962.3 874.4 L979.1 867.5 L996.1 860.5 L1013.5 853.4 L1031.1 846.2 L1049 838.9 L1067.1 831.5 L1085.5 823.9 L1104.2 816.3 L1123.2 808.5 L1142.5 800.7 L1162 792.7 L1181.8 784.7 L1201.8 776.6 L1222.2 768.4 L1242.8 760.1 L1263.7 751.6 L1284.8 743.1 L1306.3 734.4 L1328 725.7 L1349.9 716.8 L1372.2 707.8 L1394.7 698.7 L1417.5 689.5 L1440.6 680.1 L1463.9 670.7 L1487.5 661.1 L1511.4 651.4 L1535.6 641.7 L1560 631.8 L1560 610.6 L1535.6 620.5 L1511.4 630.3 L1487.5 640 L1463.9 649.6 L1440.6 659 L1417.5 668.4 L1394.7 677.6 L1372.2 686.8 L1349.9 695.8 L1328 704.7 L1306.3 713.5 L1284.8 722.1 L1263.7 730.7 L1242.8 739.1 L1222.2 747.5 L1201.8 755.7 L1181.8 763.9 L1162 771.9 L1142.5 779.9 L1123.2 787.7 L1104.2 795.5 L1085.5 803.1 L1067.1 810.7 L1049 818.1 L1031.1 825.4 L1013.5 832.6 L996.1 839.7 L979.1 846.6 L962.3 853.4 L945.8 860.2 L929.5 866.8 L913.6 873.3 L897.9 879.7 L882.4 886 L867.3 892.2 L852.4 898.1 L837.8 903.9 L823.5 909.6 L809.4 915.2 L795.6 920.7 L782.1 926.1 L768.9 931.4 L755.9 936.5 L743.2 941.6 L730.8 946.5 L718.7 951.4 L706.8 956.1 L695.2 960.7 L683.8 965.2 L672.8 969.6 L662 973.9 L651.5 978.1 L641.3 982.2 L631.3 988.9 L621.6 993.4 L612.2 997.8 L603 1002 L594.2 1005.8 L585.6 1009.4 L577.2 1012.9 L569.2 1016.2 L561.4 1019.5 L553.9 1022.6 L546.7 1025.7 L539.7 1028.6 L533 1031.4 L526.6 1034.2 L520.5 1036.8 L514.6 1039.3 L509 1041.7 L503.7 1044.1 L498.6 1046.4 L493.8 1048.6 L489.3 1050.7 L485.1 1052.7 L481.2 1054.7 L477.5 1056.5 L474.1 1058.2 L470.9 1059.7 L468 1061.2 L465.5 1062.6 L463.1 1063.8 L461.1 1064.9 L459.3 1065.9 L457.8 1066.7 L456.6 1067.4 L455.6 1067.9 L454.9 1068.3 L454.5 1068.5 L454.4 1068.6 Z" fill="#6fae94"/>
<path d="M455 1049 L455.1 1048.9 L455.5 1048.7 L456.2 1048.3 L457.2 1047.7 L458.4 1047 L459.9 1046.2 L461.7 1045.2 L463.7 1044.1 L466.1 1042.8 L468.6 1041.4 L471.5 1039.9 L474.6 1038.3 L478.1 1036.5 L481.7 1034.7 L485.7 1032.7 L489.9 1030.7 L494.4 1028.5 L499.2 1026.2 L504.2 1023.9 L509.6 1021.5 L515.2 1018.9 L521 1016.3 L527.2 1013.6 L533.6 1010.9 L540.3 1008 L547.2 1005.1 L554.5 1002.1 L562 999 L569.7 995.7 L577.8 992.4 L586.1 989 L594.7 985.5 L603.6 981.9 L612.7 978.2 L622.1 974.4 L631.8 970.5 L641.8 966.4 L652 962.3 L662.5 958.1 L673.3 953.7 L684.3 949.2 L695.6 944.7 L707.2 940 L719.1 935.2 L731.2 930.3 L743.7 925.2 L756.4 920.1 L769.3 914.9 L782.5 909.5 L796 904.1 L809.8 898.5 L823.9 892.8 L838.2 887.1 L852.8 881.2 L867.7 875.1 L882.8 869 L898.2 862.7 L913.9 856.4 L929.9 849.9 L946.1 843.3 L962.6 836.6 L979.4 829.8 L996.4 822.9 L1013.8 815.9 L1031.4 808.7 L1049.2 801.4 L1067.4 793.9 L1085.8 786.4 L1104.5 778.8 L1123.5 771 L1142.7 763.2 L1162.2 755.2 L1182 747.1 L1202 738.9 L1222.4 730.7 L1243 722.3 L1263.8 713.9 L1285 705.3 L1306.4 696.6 L1328.1 687.8 L1350.1 678.9 L1372.3 669.9 L1394.8 660.8 L1417.6 651.5 L1440.6 642.1 L1464 632.7 L1487.6 623.1 L1511.4 613.4 L1535.6 603.6 L1560 593.6 L1560 612.6 L1535.6 622.5 L1511.4 632.3 L1487.6 642 L1464 651.6 L1440.6 661 L1417.6 670.4 L1394.8 679.6 L1372.3 688.7 L1350.1 697.7 L1328.1 706.6 L1306.4 715.4 L1285 724.1 L1263.8 732.6 L1243 741.1 L1222.4 749.4 L1202 757.6 L1182 765.8 L1162.2 773.8 L1142.7 781.8 L1123.5 789.6 L1104.5 797.4 L1085.8 805 L1067.4 812.5 L1049.2 820 L1031.4 827.3 L1013.8 834.5 L996.4 841.5 L979.4 848.5 L962.6 855.3 L946.1 862 L929.9 868.7 L913.9 875.2 L898.2 881.6 L882.8 887.8 L867.7 894 L852.8 900 L838.2 905.8 L823.9 911.5 L809.8 917.1 L796 922.5 L782.5 927.9 L769.3 933.2 L756.4 938.4 L743.7 943.4 L731.2 948.3 L719.1 953.2 L707.2 957.9 L695.6 962.5 L684.3 967 L673.3 971.4 L662.5 975.7 L652 979.9 L641.8 984 L631.8 989.1 L622.1 992.8 L612.7 996.3 L603.6 999.7 L594.7 1002.8 L586.1 1005.8 L577.8 1008.7 L569.7 1011.5 L562 1014.2 L554.5 1016.8 L547.2 1019.3 L540.3 1021.7 L533.6 1024 L527.2 1026.2 L521 1028.3 L515.2 1030.3 L509.6 1032.2 L504.2 1033.9 L499.2 1035.6 L494.4 1037.1 L489.9 1038.6 L485.7 1039.9 L481.7 1041.1 L478.1 1042.3 L474.6 1043.4 L471.5 1044.3 L468.6 1045.2 L466.1 1046 L463.7 1046.6 L461.7 1047.2 L459.9 1047.7 L458.4 1048.1 L457.2 1048.4 L456.2 1048.7 L455.5 1048.9 L455.1 1049 L455 1049 Z" fill="#a06a37"/>
<path d="M505 1049 L505.1 1049 L505.5 1048.9 L506.2 1048.7 L507.1 1048.5 L508.3 1048.1 L509.7 1047.8 L511.4 1047.3 L513.3 1046.7 L515.5 1046.1 L518 1045.4 L520.8 1044.6 L523.8 1043.7 L527 1042.7 L530.5 1041.5 L534.3 1040.3 L538.3 1038.9 L542.6 1037.4 L547.2 1035.8 L552 1034 L557.1 1032.2 L562.4 1030.2 L568 1028.1 L573.9 1025.9 L580 1023.6 L586.4 1021.2 L593 1018.6 L600 1015.9 L607.1 1013.2 L614.5 1010.3 L622.2 1007.4 L630.2 1004.3 L638.4 1001.1 L646.8 997.8 L655.6 994.4 L664.6 990.9 L673.8 987.2 L683.3 983.5 L693.1 979.7 L703.1 975.7 L713.4 971.6 L723.9 967.5 L734.8 963.2 L745.8 958.9 L757.2 954.4 L768.8 949.8 L780.6 945.1 L792.7 940.4 L805.1 935.5 L817.7 930.5 L830.6 925.4 L843.8 920.2 L857.2 914.9 L870.9 909.4 L884.8 903.7 L899 897.8 L913.5 891.8 L928.2 885.8 L943.2 879.6 L958.4 873.3 L973.9 867 L989.6 860.5 L1005.7 853.9 L1021.9 847.2 L1038.5 840.5 L1055.3 833.6 L1072.4 826.6 L1089.7 819.5 L1107.3 812.3 L1125.1 805.1 L1143.2 797.7 L1161.6 790.2 L1180.2 782.6 L1199.1 775 L1218.2 767.3 L1237.6 759.4 L1257.3 751.5 L1277.2 743.5 L1297.4 735.3 L1317.9 727 L1338.6 718.7 L1359.6 710.2 L1380.8 701.6 L1402.3 692.9 L1424 684.1 L1446 675.2 L1468.3 666.2 L1490.8 657.1 L1513.6 647.8 L1536.7 638.5 L1560 629.1 L1560 610.6 L1536.7 620.1 L1513.6 629.4 L1490.8 638.7 L1468.3 647.8 L1446 656.8 L1424 665.7 L1402.3 674.6 L1380.8 683.3 L1359.6 691.9 L1338.6 700.4 L1317.9 708.8 L1297.4 717 L1277.2 725.2 L1257.3 733.3 L1237.6 741.2 L1218.2 749.1 L1199.1 756.8 L1180.2 764.5 L1161.6 772.1 L1143.2 779.6 L1125.1 787 L1107.3 794.2 L1089.7 801.4 L1072.4 808.5 L1055.3 815.5 L1038.5 822.4 L1021.9 829.1 L1005.7 835.8 L989.6 842.3 L973.9 848.7 L958.4 855 L943.2 861.2 L928.2 867.4 L913.5 873.3 L899 879.2 L884.8 885 L870.9 890.7 L857.2 896.2 L843.8 901.6 L830.6 906.8 L817.7 911.9 L805.1 917 L792.7 921.9 L780.6 926.7 L768.8 931.4 L757.2 936 L745.8 940.5 L734.8 944.9 L723.9 949.3 L713.4 953.5 L703.1 957.6 L693.1 961.5 L683.3 965.4 L673.8 969.2 L664.6 972.9 L655.6 976.5 L646.8 980 L638.4 985.7 L630.2 989.5 L622.2 993.2 L614.5 996.8 L607.1 1000.3 L600 1003.6 L593 1006.6 L586.4 1009.4 L580 1012.1 L573.9 1014.8 L568 1017.3 L562.4 1019.8 L557.1 1022.2 L552 1024.5 L547.2 1026.7 L542.6 1028.8 L538.3 1030.9 L534.3 1032.8 L530.5 1034.7 L527 1036.5 L523.8 1038.2 L520.8 1039.8 L518 1041.3 L515.5 1042.7 L513.3 1043.9 L511.4 1045.1 L509.7 1046.1 L508.3 1047 L507.1 1047.7 L506.2 1048.2 L505.5 1048.7 L505.1 1048.9 L505 1049 Z" fill="#a06a37"/>
<path d="M203 1141 L215 1134.9 L235 1124.9 L260 1112.7 L300 1093.9 L350 1072.1" fill="none" stroke="#8577a0" stroke-width="0.9"/>
<path d="M203 1141 L240 1128.5 L280 1114.2 L300 1107" fill="none" stroke="#8577a0" stroke-width="0.9"/>
<path d="M304.2 1138.6 L316 1136.1 L336 1130.5 L360 1122.7 L400 1108.4 L450 1089.4" fill="none" stroke="#8577a0" stroke-width="0.9"/>
<path d="M304.2 1138.6 L340 1118.5 L378 1101.5" fill="none" stroke="#8577a0" stroke-width="0.9"/>
<path d="M-60 1256.5 L-48 1251.4 L-36 1246.3 L-24 1241.2 L-12 1236.1 L0 1231 L12 1225.9 L24 1220.8 L36 1215.7 L48 1210.6 L60 1205.5 L72 1200.4 L84 1195.3 L96 1190.2 L108 1185.1 L120 1180 L132 1174.9 L144 1169.8 L156 1164.7 L168 1159.6 L180 1154.5 L192 1149.9 L204 1145.3 L216 1140.6 L228 1136 L240 1131.4 L252 1126.8 L264 1122.2 L276 1117.5 L288 1112.9 L300 1108.3 L300 1132.6 L288 1137.3 L276 1142 L264 1146.7 L252 1151.4 L240 1156.1 L228 1160.8 L216 1165.6 L204 1170.3 L192 1175 L180 1179.7 L168 1184.8 L156 1190 L144 1195.1 L132 1200.2 L120 1205.4 L108 1210.5 L96 1215.6 L84 1220.8 L72 1225.9 L60 1231 L48 1236.2 L36 1241.3 L24 1246.5 L12 1251.7 L0 1256.9 L-12 1262 L-24 1267.2 L-36 1272.4 L-48 1277.5 L-60 1282.7 Z" fill="#86a99a"/>
<path d="M-60 1258 L-46 1252 L-32 1246.1 L-18 1240.1 L-4 1234.2 L10 1228.2 L24 1222.3 L38 1216.3 L52 1210.4 L66 1204.4 L80 1198.5 L94 1192.5 L108 1186.6 L122 1180.6 L136 1174.7 L150 1168.7 L164 1162.8 L178 1156.8 L192 1151.4 L206 1146 L220 1140.6 L234 1135.2 L248 1129.8 L262 1124.4 L276 1119 L290 1113.7 L304 1108.3 L318 1102.9 L332 1097.6 L346 1092.2 L360 1086.8 L374 1081.5 L388 1076.3 L402 1071.1 L416 1065.9 L430 1060.8 L444 1055.6 L458 1050.5 L472 1045.3 L486 1040.3 L500 1035.4 L514 1030.5 L528 1025.6 L542 1020.7 L556 1015.8 L570 1010.9 L584 1006 L598 1001.1 L612 995.9 L626 990.7 L640 985.5 L640 985.5 L626 992 L612 998.5 L598 1004.8 L584 1010.6 L570 1016.4 L556 1022.3 L542 1028.1 L528 1033.9 L514 1039.7 L500 1045.6 L486 1051.6 L472 1057.7 L458 1063.7 L444 1069.4 L430 1075 L416 1080.6 L402 1086.2 L388 1091.8 L374 1097.7 L360 1104.1 L346 1110.4 L332 1116.7 L318 1123.1 L304 1129.3 L290 1134.8 L276 1140.3 L262 1145.8 L248 1151.3 L234 1156.8 L220 1162.3 L206 1167.8 L192 1173.3 L178 1178.9 L164 1184.8 L150 1190.8 L136 1196.8 L122 1202.8 L108 1208.8 L94 1214.8 L80 1220.8 L66 1226.8 L52 1232.8 L38 1238.8 L24 1244.8 L10 1250.8 L-4 1256.9 L-18 1262.9 L-32 1268.9 L-46 1275 L-60 1281 Z" fill="url(#c_cen)"/>
<path d="M-60 1258 L49.1 1211.6 L180 1156 L306 1107.5 L380 1079.2 L481 1042" fill="none" stroke="#adafba" stroke-width="1.7"/>
<path d="M506 1043 L455.7 1064.7 L380 1095 L306 1128.5" fill="none" stroke="#adafba" stroke-width="1.7"/>
<path d="M481 1042 L600 1000.4 L640 985.5 L650 982.5 L655 982 L656 984 L648 987.5 L640 985.5 L600 1004 L506 1043" fill="none" stroke="#c4ad8c" stroke-width="1.0"/>
<path d="M306 1128.5 L180 1178 L49.1 1234 L-60 1281" fill="none" stroke="#86a99a" stroke-width="1.6"/>
<path d="M661 979 L668 976 L675 975.5 L676 978.5 L668 982 L662 982.5 L661 979" fill="none" stroke="#c9b08a" stroke-width="0.9"/>
<path d="M700 938.8 L864 873.2 L1006 815.5 L1158 753.4 L1342 678.8 L1560 590.4" fill="none" stroke="#3a2a18" stroke-width="0.7"/>
<path d="M700 980.2 L864 915.2 L1006 857.1 L1158 795 L1342 720.6 L1560 632.3" fill="none" stroke="#3a2a18" stroke-width="0.7"/>
<circle cx="477" cy="1060" r="1.1" fill="#e8efe6"/>
<path d="M396.4 1068.6 L410 1062.6 L425 1056.6 L436 1053.2 L426 1059.6 L412 1065.6 Z" fill="#2f6a5e"/>
<path d="M454.4 1068.6 L468 1063 L483 1057.6 L494 1054.8 L484 1060.6 L470 1066 Z" fill="#2f6a5e"/></g>
<clipPath id="dclip"><rect x="940.6" y="700.6" width="787.4" height="524.8"/></clipPath>
<filter id="b8" x="-5%" y="-20%" width="110%" height="140%"><feGaussianBlur stdDeviation="2.0" result="b"/><feTurbulence type="fractalNoise" baseFrequency="0.03 0.05" numOctaves="1" seed="3" result="n"/><feDisplacementMap in="b" in2="n" scale="15" xChannelSelector="R" yChannelSelector="G"/></filter>
<filter id="b3" x="-5%" y="-20%" width="110%" height="140%"><feGaussianBlur stdDeviation="2.4" result="b"/><feTurbulence type="fractalNoise" baseFrequency="0.06 0.09" numOctaves="1" seed="7" result="n"/><feDisplacementMap in="b" in2="n" scale="9" xChannelSelector="R" yChannelSelector="G"/></filter>
<filter id="b2" x="-5%" y="-20%" width="110%" height="140%"><feGaussianBlur stdDeviation="1.5" result="b"/><feTurbulence type="fractalNoise" baseFrequency="0.06 0.09" numOctaves="1" seed="7" result="n"/><feDisplacementMap in="b" in2="n" scale="9" xChannelSelector="R" yChannelSelector="G"/></filter>
<filter id="b1" x="-5%" y="-20%" width="110%" height="140%"><feGaussianBlur stdDeviation="0.8" result="b"/><feTurbulence type="fractalNoise" baseFrequency="0.06 0.09" numOctaves="1" seed="7" result="n"/><feDisplacementMap in="b" in2="n" scale="9" xChannelSelector="R" yChannelSelector="G"/></filter>
<filter id="bo" x="-5%" y="-20%" width="110%" height="140%"><feGaussianBlur stdDeviation="0.7" result="b"/><feTurbulence type="fractalNoise" baseFrequency="0.08 0.11" numOctaves="1" seed="11" result="n"/><feDisplacementMap in="b" in2="n" scale="7" xChannelSelector="R" yChannelSelector="G"/></filter>
<filter id="by" x="-5%" y="-20%" width="110%" height="140%"><feGaussianBlur stdDeviation="1.6" result="b"/><feTurbulence type="fractalNoise" baseFrequency="0.08 0.11" numOctaves="1" seed="11" result="n"/><feDisplacementMap in="b" in2="n" scale="7" xChannelSelector="R" yChannelSelector="G"/></filter>
<filter id="djag" filterUnits="userSpaceOnUse" x="900" y="660" width="860" height="600"><feTurbulence type="fractalNoise" baseFrequency="0.085 0.11" numOctaves="2" seed="7" result="n"/><feDisplacementMap in="SourceGraphic" in2="n" scale="9" xChannelSelector="R" yChannelSelector="G"/></filter>
<g id="dband"><g filter="url(#b8)"><path d="M-80 1217 L-52.7 1205.6 L-25.3 1194.3 L2 1182.9 L29.3 1171.5 L56.7 1160.1 L84 1148.8 L111.3 1137.2 L138.7 1125.3 L166 1113.4 L193.3 1101.4 L220.7 1089.5 L248 1077.6 L275.3 1065.6 L302.7 1053.8 L330 1042.7 L357.3 1031.5 L384.7 1020.4 L412 1009.2 L439.3 997.9 L466.7 986.7 L494 975.4 L521.3 964.2 L548.7 952.9 L576 941.5 L603.3 930.3 L630.7 919.4 L658 908.5 L685.3 897.6 L712.7 886.7 L740 875.9 L767.3 865 L794.7 854.1 L822 843.2 L849.3 832.3 L876.7 821.3 L904 810.2 L931.3 799.1 L958.7 787.9 L986 776.8 L1013.3 765.6 L1040.7 754.5 L1068 743.3 L1095.3 732.1 L1122.7 720.9 L1150 709.8 L1177.3 698.7 L1204.7 687.6 L1232 676.5 L1259.3 665.4 L1286.7 654.4 L1314 643.3 L1341.3 632.3 L1368.7 621.2 L1396 610.1 L1423.3 599 L1450.7 587.9 L1478 576.9 L1505.3 565.8 L1532.7 554.7 L1560 543.6 L1560 668.6 L1532.7 679.7 L1505.3 690.8 L1478 701.9 L1450.7 712.9 L1423.3 724 L1396 735.1 L1368.7 746.2 L1341.3 757.3 L1314 768.3 L1286.7 779.4 L1259.3 790.4 L1232 801.5 L1204.7 812.6 L1177.3 823.7 L1150 834.8 L1122.7 845.9 L1095.3 857.1 L1068 868.3 L1040.7 879.5 L1013.3 890.6 L986 901.8 L958.7 912.9 L931.3 924.1 L904 935.2 L876.7 946.3 L849.3 957.3 L822 968.2 L794.7 979.1 L767.3 990 L740 1000.9 L712.7 1011.7 L685.3 1022.6 L658 1033.5 L630.7 1044.4 L603.3 1055.3 L576 1066.1 L548.7 1076.9 L521.3 1087.6 L494 1098.3 L466.7 1109 L439.3 1119.7 L412 1130.4 L384.7 1141.1 L357.3 1151.7 L330 1162.3 L302.7 1172.8 L275.3 1183.5 L248 1194.2 L220.7 1204.9 L193.3 1215.6 L166 1226.3 L138.7 1237 L111.3 1247.7 L84 1258.5 L56.7 1269.2 L29.3 1279.9 L2 1290.7 L-25.3 1301.5 L-52.7 1312.2 L-80 1323 Z" fill="#a0b45c"/></g>
<g filter="url(#b3)"><path d="M170 1160.7 L193.2 1146.1 L216.3 1131.7 L239.5 1120.1 L262.7 1108.5 L285.8 1096.9 L309 1085.9 L332.2 1075.9 L355.3 1065.8 L378.5 1055.7 L401.7 1045.5 L424.8 1035.5 L448 1026 L471.2 1016.5 L494.3 1007.1 L517.5 997.6 L540.7 988.1 L563.8 978.5 L587 969 L610.2 959.5 L633.3 950.3 L656.5 941.1 L679.7 931.9 L702.8 922.7 L726 913.4 L749.2 904.2 L772.3 895 L795.5 885.8 L818.7 876.5 L841.8 867.3 L865 858.1 L888.2 848.7 L911.3 839.2 L934.5 829.8 L957.7 820.3 L980.8 810.9 L1004 801.5 L1027.2 792 L1050.3 782.5 L1073.5 773 L1096.7 763.6 L1119.8 754.1 L1143 744.6 L1166.2 735.2 L1189.3 725.8 L1212.5 716.4 L1235.7 707 L1258.8 697.6 L1282 688.3 L1305.2 678.9 L1328.3 669.5 L1351.5 660.2 L1374.7 650.8 L1397.8 641.4 L1421 632 L1444.2 622.6 L1467.3 613.2 L1490.5 603.8 L1513.7 594.4 L1536.8 585 L1560 575.6 L1560 603.6 L1536.8 613 L1513.7 622.4 L1490.5 631.8 L1467.3 641.2 L1444.2 650.6 L1421 660 L1397.8 669.4 L1374.7 678.8 L1351.5 688.2 L1328.3 697.5 L1305.2 706.9 L1282 716.3 L1258.8 725.6 L1235.7 735 L1212.5 744.4 L1189.3 753.8 L1166.2 763.2 L1143 772.6 L1119.8 782.1 L1096.7 791.6 L1073.5 801 L1050.3 810.5 L1027.2 820 L1004 829.5 L980.8 838.9 L957.7 848.3 L934.5 857.8 L911.3 867.2 L888.2 876.7 L865 886.1 L841.8 895.3 L818.7 904.5 L795.5 913.8 L772.3 923 L749.2 932.2 L726 941.4 L702.8 950.7 L679.7 959.9 L656.5 969.1 L633.3 978.3 L610.2 987.5 L587 996.8 L563.8 1006.1 L540.7 1015.4 L517.5 1024.7 L494.3 1033.9 L471.2 1043.1 L448 1052.3 L424.8 1061.6 L401.7 1070.8 L378.5 1080 L355.3 1089.1 L332.2 1098.2 L309 1107.3 L285.8 1116.6 L262.7 1126 L239.5 1135.5 L216.3 1144.9 L193.2 1154.3 L170 1163.7 Z" fill="#3f6d4b"/><path d="M280 1135 L301.3 1126.3 L322.7 1117.9 L344 1109.5 L365.3 1101.2 L386.7 1092.8 L408 1084.3 L429.3 1075.8 L450.7 1067.3 L472 1058.8 L493.3 1050.3 L514.7 1041.8 L536 1033.3 L557.3 1024.7 L578.7 1016.2 L600 1007.6 L621.3 999.1 L642.7 990.6 L664 982.1 L685.3 973.6 L706.7 965.1 L728 956.6 L749.3 948.1 L770.7 939.7 L792 931.2 L813.3 922.7 L834.7 914.2 L856 905.7 L877.3 897.1 L898.7 888.4 L920 879.7 L941.3 871 L962.7 862.3 L984 853.6 L1005.3 844.9 L1026.7 836.2 L1048 827.5 L1069.3 818.8 L1090.7 810 L1112 801.3 L1133.3 792.6 L1154.7 783.9 L1176 775.2 L1197.3 766.5 L1218.7 757.9 L1240 749.3 L1261.3 740.6 L1282.7 732 L1304 723.4 L1325.3 714.7 L1346.7 706.1 L1368 697.5 L1389.3 688.8 L1410.7 680.2 L1432 671.5 L1453.3 662.9 L1474.7 654.2 L1496 645.6 L1517.3 636.9 L1538.7 628.3 L1560 619.6 L1560 640.6 L1538.7 649.3 L1517.3 657.9 L1496 666.6 L1474.7 675.2 L1453.3 683.9 L1432 692.5 L1410.7 701.2 L1389.3 709.8 L1368 718.5 L1346.7 727.1 L1325.3 735.7 L1304 744.4 L1282.7 753 L1261.3 761.6 L1240 770.3 L1218.7 778.9 L1197.3 787.5 L1176 796.2 L1154.7 804.9 L1133.3 813.6 L1112 822.3 L1090.7 831 L1069.3 839.8 L1048 848.5 L1026.7 857.2 L1005.3 865.9 L984 874.6 L962.7 883.3 L941.3 892 L920 900.7 L898.7 909.4 L877.3 918.1 L856 926.7 L834.7 935.2 L813.3 943.7 L792 952.2 L770.7 960.7 L749.3 969.1 L728 977.6 L706.7 986.1 L685.3 994.6 L664 1003.1 L642.7 1011.6 L621.3 1020.1 L600 1028.6 L578.7 1036.8 L557.3 1045 L536 1053.2 L514.7 1061.4 L493.3 1069.5 L472 1077.7 L450.7 1085.8 L429.3 1093.9 L408 1101.5 L386.7 1108.5 L365.3 1115.5 L344 1122.5 L322.7 1128.6 L301.3 1133.2 L280 1138 Z" fill="#3f6d4b"/><path d="M500 1029.6 L526.5 1019.1 L553 1008.5 L579.5 997.8 L606 987.2 L632.5 976.7 L659 966.1 L685.5 955.6 L712 945 L738.5 934.5 L765 923.9 L791.5 913.4 L818 902.8 L844.5 892.3 L871 881.6 L897.5 870.9 L924 860.1 L950.5 849.3 L977 838.5 L1003.5 827.7 L1030 816.8 L1056.5 806 L1083 795.2 L1109.5 784.3 L1136 773.5 L1162.5 762.7 L1189 751.9 L1215.5 741.2 L1242 730.4 L1268.5 719.7 L1295 709 L1321.5 698.3 L1348 687.6 L1374.5 676.8 L1401 666.1 L1427.5 655.3 L1454 644.6 L1480.5 633.8 L1507 623.1 L1533.5 612.4 L1560 601.6 L1560 621.6 L1533.5 632.4 L1507 643.1 L1480.5 653.8 L1454 664.6 L1427.5 675.3 L1401 686.1 L1374.5 696.8 L1348 707.6 L1321.5 718.3 L1295 729 L1268.5 739.7 L1242 750.4 L1215.5 761.2 L1189 771.9 L1162.5 782.7 L1136 793.5 L1109.5 804.3 L1083 815.2 L1056.5 826 L1030 836.8 L1003.5 847.7 L977 858.5 L950.5 869.3 L924 880.1 L897.5 890.9 L871 901.6 L844.5 912.3 L818 922.8 L791.5 933.4 L765 943.9 L738.5 954.5 L712 965 L685.5 975.6 L659 986.1 L632.5 996.7 L606 1007.2 L579.5 1017.8 L553 1028.5 L526.5 1039.1 L500 1049.6 Z" fill="#3f6d4b"/></g>
<g filter="url(#b2)"><path d="M290 1112.9 L311.2 1101.9 L332.3 1091.1 L353.5 1080.8 L374.7 1070.9 L395.8 1060.9 L417 1050.9 L438.2 1041.9 L459.3 1033.1 L480.5 1024.2 L501.7 1015.4 L522.8 1006.5 L544 997.7 L565.2 988.7 L586.3 979.8 L607.5 971.1 L628.7 962.7 L649.8 954.3 L671 945.8 L692.2 937.4 L713.3 929 L734.5 920.6 L755.7 912.1 L776.8 903.7 L798 895.3 L819.2 886.8 L840.3 878.4 L861.5 870 L882.7 861.4 L903.8 852.8 L925 844.1 L946.2 835.5 L967.3 826.9 L988.5 818.3 L1009.7 809.6 L1030.8 801 L1052 792.3 L1073.2 783.7 L1094.3 775 L1115.5 766.4 L1136.7 757.7 L1157.8 749.1 L1179 740.5 L1200.2 731.9 L1221.3 723.3 L1242.5 714.7 L1263.7 706.2 L1284.8 697.6 L1306 689.1 L1327.2 680.5 L1348.3 671.9 L1369.5 663.4 L1390.7 654.8 L1411.8 646.2 L1433 637.6 L1454.2 629 L1475.3 620.4 L1496.5 611.9 L1517.7 603.3 L1538.8 594.7 L1560 586.1 L1560 603.6 L1538.8 612.2 L1517.7 620.8 L1496.5 629.4 L1475.3 637.9 L1454.2 646.5 L1433 655.1 L1411.8 663.7 L1390.7 672.3 L1369.5 680.9 L1348.3 689.4 L1327.2 698 L1306 706.6 L1284.8 715.1 L1263.7 723.7 L1242.5 732.2 L1221.3 740.8 L1200.2 749.4 L1179 758 L1157.8 766.6 L1136.7 775.2 L1115.5 783.9 L1094.3 792.5 L1073.2 801.2 L1052 809.8 L1030.8 818.5 L1009.7 827.1 L988.5 835.8 L967.3 844.4 L946.2 853 L925 861.6 L903.8 870.3 L882.7 878.9 L861.5 887.5 L840.3 895.9 L819.2 904.3 L798 912.8 L776.8 921.2 L755.7 929.6 L734.5 938.1 L713.3 946.5 L692.2 954.9 L671 963.3 L649.8 971.8 L628.7 980.2 L607.5 988.6 L586.3 997.1 L565.2 1005.6 L544 1014.1 L522.8 1022.5 L501.7 1031 L480.5 1039.4 L459.3 1047.8 L438.2 1056.3 L417 1064.7 L395.8 1073.1 L374.7 1081.5 L353.5 1089.8 L332.3 1098.1 L311.2 1106.5 L290 1114.9 Z" fill="#23406e"/><path d="M370 1099.3 L389.8 1091.5 L409.7 1083.6 L429.5 1075.7 L449.3 1067.8 L469.2 1059.9 L489 1052 L508.8 1044.1 L528.7 1036.2 L548.5 1028.3 L568.3 1020.3 L588.2 1012.3 L608 1004.4 L627.8 996.5 L647.7 988.6 L667.5 980.7 L687.3 972.8 L707.2 964.9 L727 957 L746.8 949.1 L766.7 941.2 L786.5 933.4 L806.3 925.5 L826.2 917.6 L846 909.7 L865.8 901.8 L885.7 893.7 L905.5 885.6 L925.3 877.5 L945.2 869.4 L965 861.3 L984.8 853.3 L1004.7 845.2 L1024.5 837.1 L1044.3 829 L1064.2 820.9 L1084 812.8 L1103.8 804.6 L1123.7 796.5 L1143.5 788.4 L1163.3 780.3 L1183.2 772.3 L1203 764.2 L1222.8 756.2 L1242.7 748.2 L1262.5 740.2 L1282.3 732.1 L1302.2 724.1 L1322 716.1 L1341.8 708.1 L1361.7 700 L1381.5 692 L1401.3 683.9 L1421.2 675.9 L1441 667.9 L1460.8 659.8 L1480.7 651.8 L1500.5 643.7 L1520.3 635.7 L1540.2 627.7 L1560 619.6 L1560 633.6 L1540.2 641.7 L1520.3 649.7 L1500.5 657.7 L1480.7 665.8 L1460.8 673.8 L1441 681.9 L1421.2 689.9 L1401.3 697.9 L1381.5 706 L1361.7 714 L1341.8 722.1 L1322 730.1 L1302.2 738.1 L1282.3 746.1 L1262.5 754.2 L1242.7 762.2 L1222.8 770.2 L1203 778.2 L1183.2 786.3 L1163.3 794.3 L1143.5 802.4 L1123.7 810.5 L1103.8 818.6 L1084 826.8 L1064.2 834.9 L1044.3 843 L1024.5 851.1 L1004.7 859.2 L984.8 867.3 L965 875.3 L945.2 883.4 L925.3 891.5 L905.5 899.6 L885.7 907.7 L865.8 915.8 L846 923.7 L826.2 931.6 L806.3 939.5 L786.5 947.4 L766.7 955.2 L746.8 963.1 L727 971 L707.2 978.9 L687.3 986.8 L667.5 994.7 L647.7 1002.6 L627.8 1010.5 L608 1018.4 L588.2 1026 L568.3 1033.4 L548.5 1040.7 L528.7 1048.1 L508.8 1055.4 L489 1062.5 L469.2 1069.4 L449.3 1076.3 L429.5 1083.2 L409.7 1089.6 L389.8 1095.5 L370 1101.3 Z" fill="#23406e"/><path d="M520 1021.7 L546 1011.3 L572 1000.8 L598 990.4 L624 980 L650 969.7 L676 959.3 L702 949 L728 938.6 L754 928.3 L780 917.9 L806 907.6 L832 897.2 L858 886.9 L884 876.4 L910 865.8 L936 855.2 L962 844.6 L988 834 L1014 823.4 L1040 812.7 L1066 802.1 L1092 791.5 L1118 780.9 L1144 770.2 L1170 759.6 L1196 749.1 L1222 738.5 L1248 728 L1274 717.5 L1300 707 L1326 696.5 L1352 685.9 L1378 675.4 L1404 664.9 L1430 654.3 L1456 643.8 L1482 633.2 L1508 622.7 L1534 612.2 L1560 601.6 L1560 621.6 L1534 632.2 L1508 642.7 L1482 653.2 L1456 663.8 L1430 674.3 L1404 684.9 L1378 695.4 L1352 705.9 L1326 716.5 L1300 727 L1274 737.5 L1248 748 L1222 758.5 L1196 769.1 L1170 779.6 L1144 790.2 L1118 800.9 L1092 811.5 L1066 822.1 L1040 832.7 L1014 843.4 L988 854 L962 864.6 L936 875.2 L910 885.8 L884 896.4 L858 906.9 L832 917.2 L806 927.6 L780 937.9 L754 948.3 L728 958.6 L702 969 L676 979.3 L650 989.7 L624 1000 L598 1010.4 L572 1020.8 L546 1031.3 L520 1041.7 Z" fill="#23406e"/></g>
<g filter="url(#b1)"><path d="M425 1060.5 L443.9 1050.9 L462.8 1041.2 L481.8 1032.3 L500.7 1023.8 L519.6 1015.4 L538.5 1006.9 L557.4 998.9 L576.3 991 L595.2 983.1 L614.2 975.5 L633.1 967.9 L652 960.4 L670.9 952.9 L689.8 945.3 L708.8 937.8 L727.7 930.3 L746.6 922.7 L765.5 915.2 L784.4 907.7 L803.3 900.1 L822.2 892.6 L841.2 885.1 L860.1 877.6 L879 869.9 L897.9 862.2 L916.8 854.5 L935.8 846.8 L954.7 839.1 L973.6 831.3 L992.5 823.6 L1011.4 815.9 L1030.3 808.2 L1049.2 800.5 L1068.2 792.7 L1087.1 785 L1106 777.3 L1124.9 769.5 L1143.8 761.8 L1162.8 754.1 L1181.7 746.4 L1200.6 738.7 L1219.5 731 L1238.4 723.4 L1257.3 715.7 L1276.2 708.1 L1295.2 700.4 L1314.1 692.8 L1333 685.1 L1351.9 677.5 L1370.8 669.8 L1389.8 662.1 L1408.7 654.5 L1427.6 646.8 L1446.5 639.1 L1465.4 631.5 L1484.3 623.8 L1503.2 616.1 L1522.2 608.5 L1541.1 600.8 L1560 593.1 L1560 605.6 L1541.1 613.3 L1522.2 621 L1503.2 628.6 L1484.3 636.3 L1465.4 644 L1446.5 651.6 L1427.6 659.3 L1408.7 667 L1389.8 674.6 L1370.8 682.3 L1351.9 690 L1333 697.6 L1314.1 705.3 L1295.2 712.9 L1276.2 720.6 L1257.3 728.2 L1238.4 735.9 L1219.5 743.5 L1200.6 751.2 L1181.7 758.9 L1162.8 766.6 L1143.8 774.3 L1124.9 782 L1106 789.8 L1087.1 797.5 L1068.2 805.2 L1049.2 813 L1030.3 820.7 L1011.4 828.4 L992.5 836.1 L973.6 843.8 L954.7 851.6 L935.8 859.3 L916.8 867 L897.9 874.7 L879 882.4 L860.1 890.1 L841.2 897.6 L822.2 905.1 L803.3 912.6 L784.4 920.2 L765.5 927.7 L746.6 935.2 L727.7 942.8 L708.8 950.3 L689.8 957.8 L670.9 965.4 L652 972.9 L633.1 980.4 L614.2 988 L595.2 995.5 L576.3 1003.1 L557.4 1010.7 L538.5 1018.3 L519.6 1025.8 L500.7 1033.4 L481.8 1040.9 L462.8 1048.4 L443.9 1056 L425 1063.5 Z" fill="#aba4d5"/><path d="M480 1053.6 L498 1046.4 L516 1039.3 L534 1032.1 L552 1024.9 L570 1017.6 L588 1010.4 L606 1003.2 L624 996 L642 988.9 L660 981.7 L678 974.5 L696 967.4 L714 960.2 L732 953 L750 945.9 L768 938.7 L786 931.5 L804 924.4 L822 917.2 L840 910.1 L858 902.9 L876 895.6 L894 888.3 L912 880.9 L930 873.6 L948 866.3 L966 858.9 L984 851.6 L1002 844.3 L1020 836.9 L1038 829.6 L1056 822.2 L1074 814.8 L1092 807.5 L1110 800.1 L1128 792.8 L1146 785.4 L1164 778.1 L1182 770.8 L1200 763.5 L1218 756.2 L1236 748.9 L1254 741.6 L1272 734.3 L1290 727 L1308 719.8 L1326 712.5 L1344 705.2 L1362 697.9 L1380 690.6 L1398 683.3 L1416 676 L1434 668.7 L1452 661.4 L1470 654.1 L1488 646.8 L1506 639.5 L1524 632.2 L1542 624.9 L1560 617.6 L1560 629.6 L1542 636.9 L1524 644.2 L1506 651.5 L1488 658.8 L1470 666.1 L1452 673.3 L1434 680.6 L1416 687.9 L1398 695.2 L1380 702.5 L1362 709.8 L1344 717.1 L1326 724.4 L1308 731.6 L1290 738.9 L1272 746.2 L1254 753.4 L1236 760.7 L1218 768 L1200 775.3 L1182 782.6 L1164 789.9 L1146 797.2 L1128 804.5 L1110 811.9 L1092 819.2 L1074 826.6 L1056 833.9 L1038 841.3 L1020 848.6 L1002 856 L984 863.3 L966 870.6 L948 878 L930 885.3 L912 892.6 L894 899.9 L876 907.3 L858 914.5 L840 921.7 L822 928.8 L804 936 L786 943.1 L768 950.3 L750 957.5 L732 964.6 L714 971.8 L696 978.9 L678 986.1 L660 993.2 L642 1000.4 L624 1007.5 L606 1014.7 L588 1021.2 L570 1027.4 L552 1033.7 L534 1039.9 L516 1045.9 L498 1051.2 L480 1056.6 Z" fill="#aba4d5"/><path d="M500 1030.6 L526.5 1020.1 L553 1009.5 L579.5 998.8 L606 988.2 L632.5 977.7 L659 967.1 L685.5 956.6 L712 946 L738.5 935.5 L765 924.9 L791.5 914.4 L818 903.8 L844.5 893.3 L871 882.6 L897.5 871.9 L924 861.1 L950.5 850.3 L977 839.5 L1003.5 828.7 L1030 817.8 L1056.5 807 L1083 796.2 L1109.5 785.3 L1136 774.5 L1162.5 763.7 L1189 752.9 L1215.5 742.2 L1242 731.4 L1268.5 720.7 L1295 710 L1321.5 699.3 L1348 688.6 L1374.5 677.8 L1401 667.1 L1427.5 656.3 L1454 645.6 L1480.5 634.8 L1507 624.1 L1533.5 613.4 L1560 602.6 L1560 620.6 L1533.5 631.4 L1507 642.1 L1480.5 652.8 L1454 663.6 L1427.5 674.3 L1401 685.1 L1374.5 695.8 L1348 706.6 L1321.5 717.3 L1295 728 L1268.5 738.7 L1242 749.4 L1215.5 760.2 L1189 770.9 L1162.5 781.7 L1136 792.5 L1109.5 803.3 L1083 814.2 L1056.5 825 L1030 835.8 L1003.5 846.7 L977 857.5 L950.5 868.3 L924 879.1 L897.5 889.9 L871 900.6 L844.5 911.3 L818 921.8 L791.5 932.4 L765 942.9 L738.5 953.5 L712 964 L685.5 974.6 L659 985.1 L632.5 995.7 L606 1006.2 L579.5 1016.8 L553 1027.5 L526.5 1038.1 L500 1048.6 Z" fill="#aba4d5"/></g>
<g filter="url(#by)"><path d="M-80 1267.5 L-67.2 1262 L-54.5 1256.5 L-41.8 1251.1 L-29 1245.6 L-16.2 1240.1 L-3.5 1234.6 L9.2 1229.1 L22 1223.7 L34.8 1218.2 L47.5 1212.7 L60.2 1207.3 L73 1201.9 L85.8 1196.5 L98.5 1191.1 L111.2 1185.6 L124 1180.2 L136.8 1174.8 L149.5 1169.4 L162.2 1164 L175 1158.6 L187.8 1153.5 L200.5 1148.5 L213.2 1143.6 L226 1138.6 L238.8 1133.7 L251.5 1128.7 L264.2 1123.7 L277 1118.8 L289.8 1113.8 L302.5 1108.9 L315.2 1103.9 L328 1098.9 L340.8 1093.9 L353.5 1088.9 L366.2 1083.9 L379 1078.9 L391.8 1074 L404.5 1069 L417.2 1064.1 L430 1059.2 L430 1076.5 L417.2 1081.6 L404.5 1086.7 L391.8 1091.8 L379 1096.9 L366.2 1102.5 L353.5 1108.1 L340.8 1113.7 L328 1119.3 L315.2 1124.9 L302.5 1130.4 L289.8 1135.3 L277 1140.3 L264.2 1145.2 L251.5 1150.2 L238.8 1155.2 L226 1160.1 L213.2 1165.1 L200.5 1170 L187.8 1175 L175 1180.1 L162.2 1185.5 L149.5 1190.9 L136.8 1196.3 L124 1201.7 L111.2 1207.1 L98.5 1212.6 L85.8 1218 L73 1223.4 L60.2 1228.8 L47.5 1234.2 L34.8 1239.4 L22 1244.7 L9.2 1250 L-3.5 1255.3 L-16.2 1260.6 L-29 1265.9 L-41.8 1271.1 L-54.5 1276.4 L-67.2 1281.7 L-80 1287 Z" fill="#e6d77a"/></g>
<g filter="url(#bo)"><path d="M-80 1270.5 L-65.7 1264.4 L-51.4 1258.2 L-37.1 1252.1 L-22.8 1245.9 L-8.5 1239.8 L5.8 1233.6 L20.1 1227.5 L34.4 1221.3 L48.7 1215.2 L63 1209.1 L77.3 1203 L91.6 1197 L105.9 1190.9 L120.2 1184.9 L134.5 1178.8 L148.8 1172.7 L163.1 1166.7 L177.4 1160.6 L191.7 1155 L206 1149.4 L220.3 1143.8 L234.6 1138.3 L248.9 1132.7 L263.2 1127.1 L277.5 1121.6 L291.8 1116 L306.1 1110.5 L320.4 1104.9 L334.7 1099.3 L349 1093.6 L363.3 1088 L377.6 1082.4 L391.9 1076.9 L406.2 1071.4 L420.5 1065.9 L434.8 1060.3 L449.1 1054.8 L463.4 1049.3 L477.7 1043.8 L492 1038.2 L492 1048.8 L477.7 1054.3 L463.4 1060.1 L449.1 1065.8 L434.8 1071.5 L420.5 1077.3 L406.2 1083 L391.9 1088.7 L377.6 1094.6 L363.3 1100.8 L349 1107.1 L334.7 1113.4 L320.4 1119.7 L306.1 1126 L291.8 1131.5 L277.5 1137.1 L263.2 1142.6 L248.9 1148.2 L234.6 1153.8 L220.3 1159.3 L206 1164.9 L191.7 1170.5 L177.4 1176.1 L163.1 1182.2 L148.8 1188.2 L134.5 1194.3 L120.2 1200.4 L105.9 1206.4 L91.6 1212.5 L77.3 1218.5 L63 1224.6 L48.7 1230.7 L34.4 1236.6 L20.1 1242.5 L5.8 1248.4 L-8.5 1254.4 L-22.8 1260.3 L-37.1 1266.2 L-51.4 1272.1 L-65.7 1278.1 L-80 1284 Z" fill="#c8500a"/></g>
<g><path d="M477.4 1042.4 L497.8 1034.1 L502.6 1046.2 L482.2 1054.4 Z" fill="#c8500a"/><path d="M498.4 1034.8 L515.1 1028.1 L519.6 1039.2 L502.9 1045.9 Z" fill="#c8500a"/><path d="M516.3 1027.4 L534.8 1019.9 L539.7 1032 L521.2 1039.5 Z" fill="#c8500a"/><path d="M538.6 1020.4 L551.6 1015.1 L555.4 1024.4 L542.4 1029.6 Z" fill="#c8500a"/><path d="M552.2 1013.6 L568.9 1006.8 L573.8 1018.9 L557.1 1025.6 Z" fill="#c8500a"/><path d="M574.5 1008.1 L582.9 1004.8 L585.5 1011.2 L577.1 1014.6 Z" fill="#c8500a"/><path d="M584.4 1000.1 L602 993 L607.6 1006.9 L590 1014.1 Z" fill="#c8500a"/><path d="M610.6 992.1 L617.1 989.5 L619.4 995.1 L612.9 997.7 Z" fill="#c8500a"/><path d="M620.7 988.1 L629 984.8 L631.3 990.3 L623 993.7 Z" fill="#c8500a"/><path d="M643.9 976.2 L656 971.4 L660.1 981.6 L648 986.4 Z" fill="#c8500a"/></g></g>
</defs>
<rect x="0" y="0" width="1750" height="1269" fill="#fff"/>
<g id="panel-a">
<path d="M146.9 236.6 C151.6 236.8 164.9 238.2 175 237.6 C185.1 237 202 233.8 207.4 233  L207.4 233 C206.7 234.9 204.7 241.6 203 244.5 C201.3 247.4 199.3 249.2 197 250.6 C194.7 251.9 192.7 252.6 189 252.6 C185.3 252.6 179.8 251.8 175 250.5 C170.2 249.2 164.7 247.3 160 245 C155.3 242.7 149.1 238 146.9 236.6  Z" fill="url(#a_tr)" stroke="#000" stroke-width="2.1" stroke-linejoin="round"/>
<path d="M217.7 68.6 L242.9 74.3 L242.9 74.3 C243.4 82.9 244.7 107.6 246 125.7 C247.3 143.8 249.3 167.3 250.9 182.9 C252.5 198.5 254.7 213.3 255.4 219.4  L255.4 219.4 C251.2 221.5 237.6 227.8 230 232 C222.4 236.2 215.6 241.3 210 244.5 C204.4 247.7 198.8 250.1 196.5 251.2  L196.5 251.2 C197.6 250.1 201.2 247.5 203 244.5 C204.8 241.5 206.1 237.9 207.4 233 C208.7 228.1 210 227.2 211 215 C212 202.8 212.8 177.5 213.5 160 C214.2 142.5 214.8 125.2 215.5 110 C216.2 94.8 217.3 75.5 217.7 68.6  Z" fill="url(#a_w1s)" stroke="#000" stroke-width="2.1" stroke-linejoin="round"/>
<path d="M217.7 68.6 L306.9 42.3 L350.3 38.9 L242.9 74.3 Z" fill="#b7742f" stroke="#000" stroke-width="2.1" stroke-linejoin="round"/>
<path d="M358 150 C357.8 155 357.7 170.7 357 180 C356.3 189.3 355.2 192.7 353.7 205.7 C352.2 218.7 350.3 246.8 348 258 C345.7 269.2 343.2 268.8 340 273 C336.8 277.2 330.5 281.7 328.6 283.4  L328.6 283.4 L367.4 258.3 L367.4 258.3 L367.4 150 Z" fill="url(#a_ol)" stroke="#000" stroke-width="2.1" stroke-linejoin="round"/>
<path d="M242.9 74.3 L350.3 38.9 L350.3 38.9 C350.7 42.4 351.7 49.8 352.5 60 C353.3 70.2 354.2 87.2 355 100 C355.8 112.8 356.8 124.5 357 137 C357.2 149.5 356.6 163.6 356 175 C355.4 186.4 354.5 195.7 353.7 205.7 C352.9 215.7 351.9 226.3 351 235 C350.1 243.7 349.8 251.7 348 258 C346.2 264.3 343.2 268.8 340 273 C336.8 277.2 332.6 281.1 328.6 283.4 C324.6 285.6 319.8 286.1 316 286.5 C312.2 286.9 310 286.6 305.7 285.7 C301.4 284.8 294.6 282.9 290 281 C285.4 279.1 281.7 277.5 278 274 C274.3 270.5 271 265.7 268 260 C265 254.3 262.2 247.5 260 240 C257.8 232.5 256.5 224.5 255 215 C253.5 205.5 252.4 197.8 250.9 182.9 C249.4 168 247.3 143.8 246 125.7 C244.7 107.6 243.4 82.9 242.9 74.3  Z" fill="url(#a_w1)"/>
<g clip-path="url(#a_w1c)"><rect x="230" y="180" width="130" height="110" fill="url(#a_w1y)"/><rect x="280" y="190" width="90" height="90" fill="url(#a_w1o)"/>
<path d="M300 292 L352 262 L352 290 Z" fill="#c8c050" opacity="0.55" filter="url(#ab3)"/></g>
<path d="M242.9 74.3 L350.3 38.9 L350.3 38.9 C350.7 42.4 351.7 49.8 352.5 60 C353.3 70.2 354.2 87.2 355 100 C355.8 112.8 356.8 124.5 357 137 C357.2 149.5 356.6 163.6 356 175 C355.4 186.4 354.5 195.7 353.7 205.7 C352.9 215.7 351.9 226.3 351 235 C350.1 243.7 349.8 251.7 348 258 C346.2 264.3 343.2 268.8 340 273 C336.8 277.2 332.6 281.1 328.6 283.4 C324.6 285.6 319.8 286.1 316 286.5 C312.2 286.9 310 286.6 305.7 285.7 C301.4 284.8 294.6 282.9 290 281 C285.4 279.1 281.7 277.5 278 274 C274.3 270.5 271 265.7 268 260 C265 254.3 262.2 247.5 260 240 C257.8 232.5 256.5 224.5 255 215 C253.5 205.5 252.4 197.8 250.9 182.9 C249.4 168 247.3 143.8 246 125.7 C244.7 107.6 243.4 82.9 242.9 74.3  Z" fill="none" stroke="#000" stroke-width="2.1" stroke-linejoin="round"/>
<path d="M358.3 89 L379 91.4 L379 91.4 C380.1 102.8 383.4 137.1 385.7 160 C388 182.9 390.7 212.4 392.6 228.6 C394.5 244.8 394.3 246.5 397 257 C399.7 267.5 404.8 283.4 408.6 291.4 C412.4 299.4 418.1 302.7 420 305  L420 305 L420 389.7 L420 389.7 C419 389.8 415.3 388.8 414 390 C412.7 391.2 413.7 395.7 412 397 C410.3 398.3 405.7 396.7 404 398 C402.3 399.3 403.7 403.7 402 405 C400.3 406.3 395.7 404.7 394 406 C392.3 407.3 393.7 411.7 392 413 C390.3 414.3 385.8 412.6 384 414 C382.2 415.4 382.7 420.2 381 421.5 C379.3 422.8 375.8 421.8 374 421.7 C372.2 421.6 370.7 421.1 370 421  L370 421 C369.4 400.8 367.8 340.2 366.5 300 C365.2 259.8 363.4 215.2 362 180 C360.6 144.8 358.9 104.2 358.3 89  Z" fill="url(#a_gw)" stroke="#000" stroke-width="2.1" stroke-linejoin="round"/>
<g clip-path="url(#a_gwc)"><path d="M366.5 95 L376 421 M371.5 95 L380.5 421" stroke="#000" stroke-width="1.1" fill="none"/><path d="M400 260 L402 420 M409 290 L410 420" stroke="#2c4f1c" stroke-width="2" fill="none" opacity="0.7"/></g>
<path d="M371 421.5 L374 414 L380 421.6 Z" fill="#b7742f" stroke="#000" stroke-width="0.8"/>
<path d="M358.3 88.5 L529.7 21.7 L561.7 20.6 L378.6 91.6 Z" fill="#b7742f" stroke="#000" stroke-width="2.1" stroke-linejoin="round"/>
<path d="M384 84 l3 -4 l4 3 l5 -5 l4 4 l6 -5 l3 4 l6 -4 l-4 5 l5 1 l-9 3 l-6 -1 l-5 4 l-5 -2 l-6 3 z" fill="#1a1208"/>
<path d="M378.9 91.4 L561.7 20.6 L561.7 20.6 C561.8 27.2 562.1 48.2 562.3 60 C562.5 71.8 562.4 81.9 562.9 91.4 C563.4 100.9 564 109.4 565 117 C566 124.6 566.5 129.8 568.6 137 C570.7 144.2 574.3 153.2 577.7 160 C581.1 166.8 587.1 175 589 178  L589 178 C585.6 186.4 575.8 214.4 568.6 228.6 C561.4 242.8 552.2 252.7 545.7 262.9 C539.2 273.1 534.3 281.6 529.7 290 C525.1 298.4 520.2 309.2 518.3 313  L518.3 313 C516.1 314 509.9 317.3 505 319 C500.1 320.7 495.2 322.5 488.6 323.4 C482.1 324.3 472.6 325 465.7 324.6 C458.8 324.2 452.7 322.7 447 321 C441.3 319.3 436.2 317.1 431.4 314.3 C426.6 311.5 421.8 307.8 418 304 C414.2 300.2 412.1 299.2 408.6 291.4 C405.1 283.6 399.9 268.4 397 257 C394.1 245.6 393.3 239.1 391.4 222.9 C389.5 206.7 387.8 181.9 385.7 160 C383.6 138.1 380 102.8 378.9 91.4  Z" fill="url(#a_w2)"/>
<g clip-path="url(#a_w2c)"><path d="M392 232 C398 262 410 296 432 314 C452 326 478 326 500 320 C515 315 525 305 535 292" fill="none" stroke="#4b8843" stroke-width="74" stroke-linecap="round" opacity="0.93" filter="url(#ab10)"/><path d="M384 150 L392 232" fill="none" stroke="#4b8843" stroke-width="30" opacity="0.6" filter="url(#ab10)"/><rect x="380" y="100" width="230" height="240" fill="url(#a_w2y)"/><rect x="500" y="60" width="110" height="200" fill="url(#a_w2r)"/><path d="M400 268 C410 296 424 312 446 322 C470 330 495 326 518 314" fill="none" stroke="#3f7a3f" stroke-width="14" opacity="0.55" filter="url(#ab6)"/><path d="M478 338 L505 320 L528 296 L548 262 L556 266 L540 304 L520 334 Z" fill="#4a6eb4" filter="url(#ab6)"/></g>
<path d="M378.9 91.4 L561.7 20.6 L561.7 20.6 C561.8 27.2 562.1 48.2 562.3 60 C562.5 71.8 562.4 81.9 562.9 91.4 C563.4 100.9 564 109.4 565 117 C566 124.6 566.5 129.8 568.6 137 C570.7 144.2 574.3 153.2 577.7 160 C581.1 166.8 587.1 175 589 178  L589 178 C585.6 186.4 575.8 214.4 568.6 228.6 C561.4 242.8 552.2 252.7 545.7 262.9 C539.2 273.1 534.3 281.6 529.7 290 C525.1 298.4 520.2 309.2 518.3 313  L518.3 313 C516.1 314 509.9 317.3 505 319 C500.1 320.7 495.2 322.5 488.6 323.4 C482.1 324.3 472.6 325 465.7 324.6 C458.8 324.2 452.7 322.7 447 321 C441.3 319.3 436.2 317.1 431.4 314.3 C426.6 311.5 421.8 307.8 418 304 C414.2 300.2 412.1 299.2 408.6 291.4 C405.1 283.6 399.9 268.4 397 257 C394.1 245.6 393.3 239.1 391.4 222.9 C389.5 206.7 387.8 181.9 385.7 160 C383.6 138.1 380 102.8 378.9 91.4  Z" fill="none" stroke="#000" stroke-width="2.1" stroke-linejoin="round"/>
<path d="M554.9 472 C555.2 471 556.1 467.2 557 466 C557.9 464.8 559.2 466.2 560 465 C560.8 463.8 561 460.3 562 459 C563 457.7 564.9 458.3 566 457 C567.1 455.7 567.3 453.6 568.6 451.4 C569.9 449.2 572.1 446.6 574 444 C575.9 441.4 578 439.2 580 436 C582 432.8 584.1 428.2 586 425 C587.9 421.8 589.1 420.5 591.4 417 C593.7 413.5 597.6 407.7 600 404 C602.4 400.3 603.6 398.5 606 395 C608.4 391.5 611.6 386.6 614.3 382.9 C617 379.2 619.4 376.3 622 373 C624.6 369.7 627.5 365.9 630 363 C632.5 360.1 634.3 358.6 637 355.4 C639.7 352.2 643.5 347.2 646 344 C648.5 340.8 650 338.7 652 336 C654 333.3 656.8 329.3 657.7 328  L657.7 328 L657.7 310 L657.7 310 C652.4 311.1 636.8 315.9 625.7 316.6 C614.7 317.3 599.8 313.9 591.4 314.3 C583 314.7 578.1 318.1 575.4 318.9  L575.4 318.9 C574.3 321.9 570.9 326.3 568.6 337 C566.3 347.7 563.6 367.6 561.7 382.9 C559.8 398.2 558.1 413.8 557 428.6 C555.9 443.5 555.2 464.8 554.9 472  Z" fill="url(#a_un)" stroke="#000" stroke-width="2.1" stroke-linejoin="round"/>
<g clip-path="url(#a_unc)"><path d="M600 300 V420 M604 300 V420 M608 300 V420 M612 300 V420 M616 300 V420 M620 300 V420 M624 300 V420 M628 300 V420 M632 300 V420 M636 300 V420 M640 300 V420 M644 300 V420 M648 300 V420 M652 300 V420 M656 300 V420 " stroke="#2e521c" stroke-width="1.5" fill="none" opacity="0.6"/><path d="M575 322 L600 316 L660 312 L660 318 L600 324 L580 330 Z" fill="#2c4a3c" opacity="0.45" filter="url(#ab3)"/></g>
<path d="M610.9 62.9 L634.9 64 L634.9 64 C634.7 72.4 634.9 100.2 633.7 114.3 C632.6 128.4 630.1 137.2 628 148.6 C625.9 160 623.3 171.6 621 183 C618.7 194.4 617.3 205.7 614.3 217 C611.3 228.3 606.8 240 603 251 C599.2 262 596 271.7 591.4 283 C586.8 294.3 578.1 312.9 575.4 318.9  L575.4 318.9 C574.3 321.9 570.9 326.3 568.6 337 C566.3 347.7 563.6 367.6 561.7 382.9 C559.8 398.2 558.1 413.8 557 428.6 C555.9 443.5 555.2 464.8 554.9 472  L554.9 472 L534.3 469.7 L534.3 469.7 C533.9 462.9 532.8 443.1 532 428.6 C531.2 414.1 530.9 398.2 529.7 382.9 C528.5 367.6 526.9 348.6 525 337 C523.1 325.4 519.4 317 518.3 313  L518.3 313 C520.2 309.2 525.1 298.4 529.7 290 C534.3 281.6 539.2 273.1 545.7 262.9 C552.2 252.7 561.1 241.9 568.6 228.6 C576.1 215.3 585.3 198.3 591 183 C596.7 167.7 599.7 157 603 137 C606.3 117 609.6 75.2 610.9 62.9  Z" fill="url(#a_fl)"/>
<g clip-path="url(#a_flc)"><path d="M528 60 V470 M532 60 V470 M536 60 V470 M540 60 V470 M544 60 V470 M548 60 V470 M552 60 V470 M556 60 V470 M560 60 V470 M564 60 V470 M568 60 V470 M572 60 V470 M576 60 V470 M580 60 V470 M584 60 V470 M588 60 V470 M592 60 V470 M596 60 V470 M600 60 V470 M604 60 V470 M608 60 V470 M612 60 V470 M616 60 V470 M620 60 V470 M624 60 V470 M628 60 V470 M632 60 V470 M636 60 V470 " stroke="#2a5a40" stroke-width="1.2" fill="none" opacity="0.32"/><path d="M611 63 L606 137 L596 183 L574 228 L550 265 L524 306" stroke="#7fbf98" stroke-width="3" fill="none" opacity="0.35" filter="url(#ab3)"/></g>
<path d="M610.9 62.9 L634.9 64 L634.9 64 C634.7 72.4 634.9 100.2 633.7 114.3 C632.6 128.4 630.1 137.2 628 148.6 C625.9 160 623.3 171.6 621 183 C618.7 194.4 617.3 205.7 614.3 217 C611.3 228.3 606.8 240 603 251 C599.2 262 596 271.7 591.4 283 C586.8 294.3 578.1 312.9 575.4 318.9  L575.4 318.9 C574.3 321.9 570.9 326.3 568.6 337 C566.3 347.7 563.6 367.6 561.7 382.9 C559.8 398.2 558.1 413.8 557 428.6 C555.9 443.5 555.2 464.8 554.9 472  L554.9 472 L534.3 469.7 L534.3 469.7 C533.9 462.9 532.8 443.1 532 428.6 C531.2 414.1 530.9 398.2 529.7 382.9 C528.5 367.6 526.9 348.6 525 337 C523.1 325.4 519.4 317 518.3 313  " fill="none" stroke="#000" stroke-width="2.1" stroke-linejoin="round"/>
<path d="M610.9 62.9 C609 95 606 120 603 137 C600 152 596 168 590 181" fill="none" stroke="#000" stroke-width="1.7"/>
<path d="M541 462 L551.5 447 L554.6 471.5 L540 470 Z" fill="#b7742f" stroke="#000" stroke-width="0.8"/>
<path d="M610.9 62.9 L666.9 32 L695.4 33 L637 63.5 Z" fill="#b7742f" stroke="#000" stroke-width="2.1" stroke-linejoin="round"/>
<path d="M640 52 l4 -4 l4 3 l5 -5 l3 4 l6 -4 l-3 5 l5 1 l-8 3 l-5 -1 l-4 4 l-4 -2 l-5 3 z" fill="#1a1208"/>
<path d="M634.9 64 L695.4 34.3 L695.4 34.3 C695.5 40.2 696 60.5 696.2 70 C696.4 79.5 696.4 82.8 696.6 91.4 C696.8 100 696.4 109.8 697.6 121.7 C698.8 133.6 701.1 151.9 703.8 162.9 C706.5 173.9 709.2 181 714 187.5 C718.8 194 726.9 198.8 732.6 202 C738.3 205.2 742.9 205.5 748 206.5 C753.1 207.5 758.9 208.1 763.4 208 C767.9 207.9 771.6 207 775 206 C778.4 205 780.5 205.8 784 202 C787.5 198.2 793.3 189.6 796.3 183.4 C799.3 177.2 800.3 171.8 802 165 C803.7 158.2 805.3 148.8 806.6 142.3 C807.9 135.8 809 130.8 810 126 C811 121.2 812.3 115.6 812.8 113.5  L812.8 113.5 L814.9 113.5 L814.9 113.5 C815.2 121.7 816.1 145.2 816.5 162.9 C816.9 180.7 817.1 200.3 817.2 220 C817.3 239.7 817 270.8 816.9 281  L816.9 281 C815.9 287.9 812.4 309.1 810.7 322.3 C809 335.5 807.5 348.5 806.5 360 C805.5 371.5 804.9 386 804.6 391.2  L804.6 391.2 L786 396.3 L786 396.3 C785.7 390.8 785 375.7 784 363.4 C783 351.1 781.2 333.7 779.9 322.3 C778.6 310.9 777 301.4 776 295 C775 288.6 774.7 287.5 773.7 284 C772.7 280.5 771.4 276.4 770 274 C768.6 271.6 766.2 270.5 765.5 269.8  L765.5 269.8 C763.4 270.8 760.2 272.2 753 276 C745.8 279.8 730.2 288.8 722.3 292.5 C714.4 296.2 712.6 295.9 705.7 298.3 C698.8 300.7 688.6 304.7 681 306.9 C673.4 309.1 669.2 309.9 660 311.5 C650.8 313.1 637.1 316.1 625.7 316.6 C614.3 317.1 599.8 313.9 591.4 314.3 C583 314.7 578.1 318.1 575.4 318.9  L575.4 318.9 C578.1 312.9 586.8 294.3 591.4 283 C596 271.7 599.2 262 603 251 C606.8 240 611.3 228.3 614.3 217 C617.3 205.7 618.7 194.4 621 183 C623.3 171.6 625.9 160 628 148.6 C630.1 137.2 632.6 128.4 633.7 114.3 C634.9 100.2 634.7 72.4 634.9 64  Z" fill="url(#a_w3)"/>
<g clip-path="url(#a_w3c)"><path d="M600 250 C640 262 690 262 730 248 C760 238 780 226 800 210" fill="none" stroke="#4c8c4a" stroke-width="70" opacity="0.9" filter="url(#ab10)"/><path d="M628 150 L612 215 L590 285" fill="none" stroke="#4a8a48" stroke-width="34" opacity="0.85" filter="url(#ab10)"/><path d="M570 318 C600 312 640 310 680 302 C715 292 745 278 770 262" fill="none" stroke="#4a6bb3" stroke-width="82" opacity="1" filter="url(#ab10)"/><path d="M752 285 L770 262 L786 215 L800 170 L808 130 L813 110 L820 110 L820 400 L780 400 L776 300 L768 275 Z" fill="url(#a_w3p)" filter="url(#ab3)"/></g>
<g clip-path="url(#a_w3c)"><path d="M782 110 V400 M785.2 110 V400 M788.4 110 V400 M791.6 110 V400 M794.8 110 V400 M798 110 V400 M801.2 110 V400 M804.4 110 V400 M807.6 110 V400 M810.8 110 V400 M814 110 V400 M817.2 110 V400 " stroke="#2a5a48" stroke-width="1" fill="none" opacity="0.25"/></g>
<path d="M634.9 64 L695.4 34.3 L695.4 34.3 C695.5 40.2 696 60.5 696.2 70 C696.4 79.5 696.4 82.8 696.6 91.4 C696.8 100 696.4 109.8 697.6 121.7 C698.8 133.6 701.1 151.9 703.8 162.9 C706.5 173.9 709.2 181 714 187.5 C718.8 194 726.9 198.8 732.6 202 C738.3 205.2 742.9 205.5 748 206.5 C753.1 207.5 758.9 208.1 763.4 208 C767.9 207.9 771.6 207 775 206 C778.4 205 780.5 205.8 784 202 C787.5 198.2 793.3 189.6 796.3 183.4 C799.3 177.2 800.3 171.8 802 165 C803.7 158.2 805.3 148.8 806.6 142.3 C807.9 135.8 809 130.8 810 126 C811 121.2 812.3 115.6 812.8 113.5  L812.8 113.5 L814.9 113.5 L814.9 113.5 C815.2 121.7 816.1 145.2 816.5 162.9 C816.9 180.7 817.1 200.3 817.2 220 C817.3 239.7 817 270.8 816.9 281  L816.9 281 C815.9 287.9 812.4 309.1 810.7 322.3 C809 335.5 807.5 348.5 806.5 360 C805.5 371.5 804.9 386 804.6 391.2  L804.6 391.2 L786 396.3 L786 396.3 C785.7 390.8 785 375.7 784 363.4 C783 351.1 781.2 333.7 779.9 322.3 C778.6 310.9 777 301.4 776 295 C775 288.6 774.7 287.5 773.7 284 C772.7 280.5 771.4 276.4 770 274 C768.6 271.6 766.2 270.5 765.5 269.8  L765.5 269.8 C763.4 270.8 760.2 272.2 753 276 C745.8 279.8 730.2 288.8 722.3 292.5 C714.4 296.2 712.6 295.9 705.7 298.3 C698.8 300.7 688.6 304.7 681 306.9 C673.4 309.1 669.2 309.9 660 311.5 C650.8 313.1 637.1 316.1 625.7 316.6 C614.3 317.1 599.8 313.9 591.4 314.3 C583 314.7 578.1 318.1 575.4 318.9  L575.4 318.9 C578.1 312.9 586.8 294.3 591.4 283 C596 271.7 599.2 262 603 251 C606.8 240 611.3 228.3 614.3 217 C617.3 205.7 618.7 194.4 621 183 C623.3 171.6 625.9 160 628 148.6 C630.1 137.2 632.6 128.4 633.7 114.3 C634.9 100.2 634.7 72.4 634.9 64  Z" fill="none" stroke="#000" stroke-width="2.1" stroke-linejoin="round"/>
<path d="M787.2 395.5 L804.4 343 L804.4 390.8 Z" fill="#b7742f" stroke="#000" stroke-width="1"/>
<path d="M821 259.5 L827.2 254.4 L827.2 254.4 C827.2 262 827.4 288 827.4 300 C827.4 312 827.2 322 827.2 326.4  L827.2 326.4 C826.7 327.5 825 330.2 824 333 C823 335.8 822 339.7 821 342.9 C820 346.1 819 348.6 818 352 C817 355.4 816.1 359.6 814.9 363.4 C813.7 367.2 812 371.6 811 375 C810 378.4 809.6 381.8 808.7 384 C807.8 386.2 806.1 387.3 805.6 388  L805.6 388 C806.1 383.9 807.2 374.3 808.7 363.4 C810.2 352.4 813.2 336 814.9 322.3 C816.6 308.6 818 291.5 819 281 C820 270.5 820.7 263.1 821 259.5  Z" fill="url(#a_p4b)" stroke="#000" stroke-width="2.1" stroke-linejoin="round"/>
<path d="M834.4 157.7 C834.9 157.8 836.6 157.7 837.5 158.6 C838.4 159.5 839.2 162.2 839.5 162.9  L839.5 162.9 C840.5 167 842.6 179.7 845.7 187.5 C848.8 195.3 852.9 203.8 858 210 C863.1 216.2 868.4 220.6 876.6 224.6 C884.8 228.6 896.8 231.9 907.4 233.8 C918 235.7 934.8 235.6 940.3 235.9  L940.3 235.9 C936.5 238.1 926.6 245.9 917.7 249.3 C908.8 252.7 897.2 255.3 886.9 256.5 C876.6 257.7 865.3 257 856 256.5 C846.7 256 837.1 252.9 831.3 253.4 C825.5 253.9 822.7 258.5 821 259.5  L821 259.5 C821.7 257.1 823.3 254.2 825 245 C826.7 235.8 829.7 218.6 831.3 204 C832.9 189.4 833.9 165.4 834.4 157.7  Z" fill="url(#a_p4)" stroke="#000" stroke-width="2.1" stroke-linejoin="round"/>
<path d="M134.3 57 L144.2 352 L548.3 480.6 L945.6 349.6 L945.6 342" stroke="#000" stroke-width="4.2" stroke-linecap="round" stroke-linejoin="miter" fill="none"/>
<path d="M135 76.6 h4.6 M135.8 102 h4.6 M136.7 128 h4.6 M137.6 153.6 h6 M138.4 179.4 h4.6 M139.3 204.6 h4.6 M140.1 229.7 h4.6 M141 254.9 h6 M141.8 280 h4.6 M142.6 305 h4.6 M143.5 329.8 h4.6 M151.4 354.3 v-7 M183.3 364.4 v-5 M216.6 375 v-5 M250.8 385.9 v-5 M286.8 397.4 v-5 M324.5 409.4 v-7 M364 422 v-5 M405 435 v-5 M448 448.7 v-5 M492.5 462.9 v-5 M541.5 478.5 v-7 M555.5 478.2 v-7 M598 464.2 v-5 M643.8 449.1 v-5 M688 434.5 v-5 M730.5 420.5 v-5 M770 407.5 v-7 M807.7 395.1 v-5 M845.5 382.6 v-5 M880 371.2 v-5 M913 360.4 v-5" stroke="#000" stroke-width="3.3" stroke-linecap="round" fill="none"/>
<text x="121" y="163" font-size="15" text-anchor="middle">20</text>
<text x="128" y="264.3" font-size="15" text-anchor="middle">0</text>
<text x="152" y="376.6" font-size="15" text-anchor="middle">5</text>
<text x="325" y="432.3" font-size="15" text-anchor="middle">0</text>
<text x="541" y="501.5" font-size="15" text-anchor="middle">−5</text>
<text x="555.8" y="505.5" font-size="15" text-anchor="middle">5</text>
<text x="769" y="432" font-size="15" text-anchor="middle">0</text>
<text x="944.7" y="374" font-size="15" text-anchor="middle">5</text>
<text x="325" y="479" font-size="19.5" text-anchor="middle">t−axis</text>
<text x="770" y="479.3" font-size="19.5" text-anchor="middle">x−axis</text>
<text x="5" y="225.6" font-size="18.8">Re Θ<tspan font-size="12.6" dy="4">1</tspan><tspan dy="-4">(x, t)</tspan></text>
<text x="546" y="16.6" font-size="14" text-anchor="middle">(a)</text>
</g>
<g id="panel-b">
<g clip-path="url(#bclip)">
<path d="M1008.3 372.9 L1008.3 615.9 L1026.2 615.9 L1026.5 614.4 L1033.8 510.5 L1037.6 463.1 L1039.9 437.9 L1042 418.3 L1044 401.2 L1046.4 384.4 L1048.7 370.2 L1051.4 357.3 L1054 346.9 L1056.9 338.1 L1059.9 331.5 L1061.3 328.9 L1063.1 326.3 L1064.8 324.3 L1066.6 322.6 L1068.6 321.2 L1070.7 320.2 L1073.6 319.5 L1076.8 319.3 L1080.1 319.6 L1084.5 320.5 L1091.1 322.8 L1110.8 330.7 L1124 335.4 L1130.6 337.4 L1139.4 339.8 L1154.8 343.2 L1170.2 345.6 L1187.7 347.6 L1205.3 348.8 L1225.1 349.3 L1244.9 349.1 L1262.5 348.2 L1280 346.5 L1295.4 344.4 L1304.2 342.9 L1313 341 L1321.8 338.8 L1330.6 336.3 L1343.8 331.7 L1367.9 322.2 L1374.5 320.1 L1379.5 319.3 L1381.9 319.3 L1383.9 319.5 L1386 320 L1387.7 320.7 L1390.9 322.8 L1392.7 324.4 L1394.2 326.1 L1395.9 328.6 L1397.4 331.2 L1400.3 337.7 L1403 345.4 L1405.6 355.4 L1407.9 366.3 L1410.3 379.7 L1412.3 393.5 L1414.4 409.5 L1416.4 427.8 L1420.5 471.7 L1424.3 520.4 L1431.1 615.9 L1455.7 615.9 L1462.1 524.4 L1466 475.2 L1470.1 430.6 L1472.1 411.9 L1474.2 395.6 L1476.2 381.5 L1478.6 367.9 L1480.9 356.6 L1483.5 346.4 L1486.2 338.4 L1489.1 331.7 L1490.6 329.1 L1492.3 326.5 L1493.8 324.7 L1495.5 323 L1498.5 321 L1501.7 319.7 L1505.5 319.3 L1509.6 319.6 L1514 320.6 L1518.4 322 L1540.4 330.7 L1549.2 334 L1558 336.8 L1568.9 339.8 L1582.1 342.8 L1595.3 345 L1610.7 347 L1626.1 348.3 L1641.5 349 L1659 349.3 L1676.6 349 L1692 348.1 L1707.4 346.8 L1720.6 345.1 L1733.8 342.8 L1746.9 339.9 L1748.1 372.9 Z" fill="#dad7ea"/>
<path d="M1008.3 372.9 L1008.3 336 L1017.1 332.7 L1023.7 329.8 L1030.3 326.4 L1036.9 322.6 L1041.3 319.8 L1047.8 315.1 L1068.2 299 L1072 296.5 L1075.2 295 L1077.6 294.3 L1079.6 294.3 L1081.7 294.8 L1083.4 295.8 L1085.2 297.5 L1086.7 299.5 L1088.1 302.1 L1089.6 305.5 L1091.6 311.8 L1093.4 318.8 L1095.2 327.7 L1096.9 338.7 L1099.8 362.7 L1102.8 395.3 L1105.4 433.5 L1108.1 481 L1110.4 531.4 L1113.6 612.1 L1113.9 615.9 L1143.5 615.9 L1143.8 612.1 L1147.6 518.1 L1150.5 458.7 L1153.8 407.1 L1155.5 384.5 L1157.3 365.5 L1159 349.7 L1161.1 334.7 L1163.1 323 L1165.2 313.9 L1167.5 306.3 L1169.9 301 L1171 299 L1172.5 297.1 L1174 295.8 L1175.7 294.8 L1177.8 294.3 L1179.8 294.3 L1182.2 295 L1185.1 296.3 L1188 298.2 L1191.3 300.5 L1203.6 310.5 L1210.2 315.6 L1216.8 320.2 L1221.2 323 L1227.7 326.7 L1236.5 331 L1243.1 333.8 L1251.9 336.9 L1260.7 339.5 L1269.5 341.7 L1280.5 343.9 L1291.5 345.5 L1302.5 346.8 L1315.6 347.9 L1328.8 348.5 L1342 348.7 L1355.2 348.6 L1368.4 348.1 L1381.6 347.1 L1392.6 345.9 L1403.5 344.3 L1414.5 342.3 L1423.3 340.3 L1432.1 337.8 L1440.9 334.9 L1449.7 331.3 L1458.5 327 L1465.1 323.3 L1469.5 320.5 L1476.1 316 L1482.7 311 L1496 300.2 L1499.5 297.7 L1502.4 295.9 L1505.7 294.6 L1508.3 294.2 L1509.8 294.4 L1510.9 294.7 L1513.3 296.1 L1514.7 297.6 L1515.9 299.2 L1517.4 301.8 L1518.5 304.4 L1520.9 311.3 L1522.9 319.5 L1525 330.2 L1526.8 341.8 L1528.5 356 L1530.3 373.1 L1532 393.5 L1533.5 413.3 L1536.7 466.9 L1539.9 534.8 L1543.2 615.9 L1573 615.9 L1576.3 534.8 L1579.2 472.4 L1582.1 422 L1585.4 379.5 L1586.8 364.1 L1588.6 348.5 L1590.3 335.7 L1592.4 323.7 L1594.4 314.5 L1596.5 307.5 L1598.8 301.8 L1601.2 298 L1602.3 296.7 L1603.8 295.5 L1605 294.8 L1606.4 294.4 L1607.9 294.2 L1609.7 294.4 L1613.2 295.7 L1616.1 297.3 L1619.9 300 L1633.1 310.6 L1639.7 315.7 L1646.3 320.3 L1650.7 323 L1657.3 326.8 L1663.9 330.1 L1670.5 333 L1679.3 336.3 L1685.8 338.4 L1694.6 340.7 L1701.2 342.2 L1710 343.9 L1718.8 345.3 L1727.6 346.4 L1736.4 347.2 L1747.4 348 L1748.1 372.9 Z" fill="#ead9e4"/>
<path d="M1008.3 372.9 L1008.3 347.9 L1025.9 348.3 L1045.6 347.9 L1063.2 346.8 L1072 345.8 L1080.8 344.7 L1089.6 343.2 L1096.2 341.8 L1102.8 340.2 L1109.4 338.4 L1120.4 334.7 L1127 331.9 L1131.3 329.8 L1140.1 324.8 L1146.7 320.3 L1151.1 316.9 L1155.5 313 L1162.1 306.3 L1166.5 301.2 L1170.9 295.5 L1177.5 285.7 L1183.9 274.8 L1195.1 254.1 L1199.2 247.6 L1201.5 244.9 L1203.6 243.6 L1204.5 243.4 L1205.3 243.4 L1206.2 243.9 L1207.1 244.6 L1208 245.9 L1208.8 247.6 L1210.6 252.7 L1212.4 260.7 L1213.8 270 L1215.3 282.4 L1216.5 295 L1217.9 314.4 L1219.1 333.5 L1221.4 382.9 L1223.5 440.8 L1225.5 514.5 L1227.9 615.9 L1256.9 615.9 L1257.2 612.7 L1259.2 520.4 L1261.6 436.1 L1263.6 379.4 L1266 330.9 L1267.2 312.3 L1268.6 293.2 L1269.8 281 L1271.3 269 L1272.7 259.9 L1274.5 252.2 L1276.2 247.2 L1277.1 245.6 L1278 244.5 L1278.9 243.8 L1279.8 243.4 L1280.6 243.4 L1281.5 243.6 L1283.6 245.1 L1286.2 248.2 L1290.3 254.9 L1300.6 274 L1306.4 284.1 L1312.9 293.9 L1319.5 302.5 L1326 309.7 L1332.6 315.9 L1339.2 321.1 L1343.6 324.1 L1348 326.8 L1352.4 329.2 L1359 332.3 L1363.4 334.2 L1370 336.6 L1381 339.9 L1394.2 342.9 L1409.6 345.4 L1424.9 347 L1440.3 348 L1457.9 348.3 L1475.5 347.9 L1490.9 346.9 L1506.2 345.2 L1515 343.9 L1521.6 342.7 L1534.8 339.5 L1545.8 336.1 L1552.4 333.6 L1556.8 331.7 L1563.4 328.4 L1567.8 325.9 L1572.2 323.1 L1576.6 320 L1583.2 314.6 L1589.7 308.2 L1596.3 300.7 L1602.9 291.8 L1608.5 283.1 L1614.1 273.4 L1624 254.9 L1627.5 249.1 L1629.6 246.3 L1631.6 244.3 L1633.4 243.4 L1634.9 243.5 L1636 244.2 L1636.9 245.2 L1638.1 247.2 L1639 249.4 L1640.7 255.6 L1642.5 265 L1644 275.8 L1645.4 290 L1646.9 308.1 L1648.1 326 L1650.4 372.4 L1652.7 436.1 L1655.1 520.4 L1657.1 612.7 L1657.4 615.9 L1686.4 615.9 L1690 470.3 L1691.7 414.2 L1693.5 369 L1695.5 328.4 L1697.6 298.5 L1699.9 274.6 L1701.1 266 L1702.3 259.1 L1703.4 253.8 L1704.6 249.8 L1705.8 246.9 L1706.9 245 L1708.1 243.9 L1709.6 243.4 L1711 243.7 L1712.8 244.9 L1715.4 248 L1718.4 252.6 L1730.4 274.8 L1736.2 284.8 L1742.4 294.1 L1746.8 299.9 L1748.1 372.9 Z" fill="#ece6da"/>
<path d="M1008.3 372.9 L1008.3 298.7 L1010.5 301.7 L1014.9 307.2 L1019.3 312 L1023.7 316.2 L1028.1 319.9 L1032.5 323.2 L1036.9 326.1 L1043.4 329.8 L1050 333 L1056.6 335.6 L1063.2 337.9 L1069.8 339.8 L1076.4 341.5 L1085.2 343.3 L1100.6 345.6 L1111.6 346.7 L1122.6 347.4 L1133.5 347.9 L1144.5 348 L1155.5 347.8 L1166.5 347.3 L1177.5 346.4 L1186.3 345.5 L1195.1 344.2 L1203.9 342.7 L1212.7 340.7 L1221.4 338.3 L1228 336.1 L1234.6 333.5 L1241.2 330.5 L1247.8 326.9 L1254.4 322.6 L1261 317.4 L1267.6 311.1 L1274.2 303.4 L1278.6 297.4 L1280.8 294 L1285.2 286.4 L1289.6 277.6 L1291.8 272.7 L1295.1 264.3 L1298.7 254.4 L1302.2 243.1 L1305.4 231.4 L1308.6 218.2 L1312.1 202 L1315.6 183.8 L1325 128.9 L1327.4 116.3 L1328.8 109.8 L1330 105.8 L1331.2 103.3 L1331.8 102.8 L1332.3 102.8 L1332.9 103.6 L1333.5 105.1 L1334.7 110.7 L1335.9 120.9 L1336.7 132.2 L1338.5 167 L1340 212.3 L1341.4 277.1 L1342.6 346.5 L1344.1 460.3 L1345.5 609.4 L1345.8 615.9 L1369.6 615.9 L1369.8 609.4 L1371 487.1 L1372.5 366.7 L1373.7 292.8 L1375.1 223.5 L1376.6 174.7 L1378.3 136.8 L1379.2 124.3 L1380.4 112.8 L1381.6 106.1 L1382.2 104.2 L1382.7 103.1 L1383.3 102.7 L1383.9 103 L1385.1 105 L1386.3 108.7 L1387.7 114.9 L1390.1 127.2 L1397.1 168.9 L1401.2 191.6 L1405.6 213 L1410 231.4 L1414.7 248 L1419.4 262 L1423.8 273 L1426 278 L1430.4 286.7 L1432.6 290.6 L1436.9 297.6 L1441.3 303.6 L1445.7 308.9 L1450.1 313.5 L1454.5 317.5 L1458.9 321.1 L1463.3 324.2 L1467.7 327 L1474.3 330.6 L1480.9 333.6 L1487.5 336.2 L1494.1 338.4 L1500.7 340.2 L1507.3 341.8 L1516.1 343.5 L1527 345.2 L1538 346.4 L1551.2 347.4 L1564.4 347.9 L1577.6 347.9 L1590.8 347.6 L1604 346.7 L1617.1 345.3 L1628.1 343.6 L1639.1 341.4 L1647.9 339.2 L1656.7 336.4 L1665.5 332.9 L1672.1 329.7 L1678.7 326 L1685.3 321.5 L1691.9 316.1 L1696.3 311.9 L1702.8 304.4 L1707.2 298.4 L1711.6 291.6 L1716 283.7 L1720.4 274.4 L1722.6 269.2 L1726.1 260 L1729.7 249.4 L1732.9 238.5 L1736.1 226.2 L1739 213.7 L1742 199.8 L1744.9 184.6 L1748.1 166.4 L1748.1 372.9 Z" fill="#dbe8da"/>
<path d="M1008.3 372.9 L1008.3 64.9 L1011.5 13.4 L1014.7 -51.5 L1015 -54.8 L1037 -54.8 L1038.5 615.9 L1051.9 615.9 L1052.2 595 L1053.4 -35.3 L1053.7 -54.8 L1075.7 -54.8 L1079.2 16 L1081.2 49.8 L1083.3 79.1 L1085.3 104.6 L1087.7 130 L1090.3 154.5 L1093 175.4 L1095.9 195.2 L1098.8 212.2 L1102 228 L1105.6 242.7 L1109.4 256.1 L1113.6 268.5 L1118 279.3 L1122.4 288.3 L1126.8 295.9 L1131.2 302.5 L1135.6 308.1 L1142.2 315.1 L1148.8 320.8 L1155.4 325.5 L1162 329.4 L1170.8 333.6 L1179.5 337 L1188.3 339.7 L1199.3 342.3 L1210.3 344.2 L1221.3 345.7 L1234.5 346.9 L1247.7 347.6 L1260.9 347.8 L1274 347.5 L1287.2 346.8 L1300.4 345.5 L1311.4 344 L1322.4 341.9 L1333.4 339.2 L1342.2 336.4 L1351 332.8 L1359.7 328.4 L1366.3 324.3 L1372.9 319.4 L1379.5 313.3 L1386.1 305.9 L1390.5 300 L1394.9 293 L1399.3 284.9 L1403.7 275.2 L1408.1 263.6 L1412 251.2 L1415.6 238.1 L1418.8 223.9 L1422 207.4 L1424.9 189.6 L1427.6 171 L1430.2 149.4 L1432.6 127 L1434.9 101.2 L1436.9 75.1 L1439 45.2 L1440.8 16 L1444.3 -54.8 L1466.2 -54.8 L1466.5 -35.3 L1467.7 595 L1468 615.9 L1481.5 615.9 L1482.9 -54.8 L1504.9 -54.8 L1509.3 28.6 L1511.4 60.7 L1513.4 88.6 L1515.8 116.2 L1518.4 142.7 L1521.3 167.6 L1524.3 188.7 L1527.5 208.2 L1531 226 L1534.5 241 L1538.6 255.6 L1542.9 268.1 L1547.3 279 L1551.7 288 L1553.9 292 L1558.2 299.1 L1562.6 305.2 L1564.8 307.9 L1569.2 312.7 L1575.8 318.9 L1580.2 322.3 L1584.6 325.4 L1589 328.1 L1593.4 330.5 L1602.2 334.5 L1606.6 336.1 L1613.2 338.3 L1624.2 341.3 L1637.4 343.9 L1652.7 345.9 L1668.1 347.2 L1683.5 347.7 L1701.1 347.6 L1716.5 346.8 L1731.9 345.3 L1740.6 344 L1747.2 342.8 L1748.1 372.9 Z" fill="#d9deeb"/>
<path d="M1008.3 372.9 L1008.3 342.6 L1017.1 340.6 L1025.9 338.2 L1034.7 335.1 L1041.3 332.3 L1047.8 329 L1054.4 325 L1061 320.1 L1065.4 316.3 L1069.8 312 L1074.2 306.9 L1078.6 301.1 L1083 294.3 L1087.4 286.2 L1091.8 276.7 L1096.2 265.2 L1098.4 258.6 L1101.5 248.1 L1104.4 236.6 L1107 224.7 L1109.7 211 L1112 197.1 L1114.4 181.2 L1116.4 165.3 L1118.5 147.2 L1120.5 126.6 L1122.3 106.4 L1125.5 62.2 L1128.1 16.9 L1131.3 -53.8 L1131.6 -54.8 L1197.6 -54.8 L1201.4 25.1 L1203.1 55.3 L1205.2 85.6 L1207.2 111.7 L1209.6 137.3 L1212.2 161.6 L1214.9 182.2 L1217.8 201.6 L1221 219.6 L1224.5 236 L1228 249.7 L1230.4 257.6 L1232.9 265.2 L1237.3 276.7 L1241.7 286.2 L1246.1 294.3 L1250.5 301.1 L1254.8 306.9 L1259.2 312 L1265.8 318.3 L1272.4 323.5 L1279 327.7 L1285.6 331.3 L1294.4 335.1 L1303.2 338.2 L1312 340.6 L1320.8 342.6 L1331.8 344.5 L1342.7 345.9 L1355.9 347 L1366.9 347.5 L1380.1 347.7 L1393.3 347.4 L1404.3 346.8 L1417.5 345.7 L1428.4 344.2 L1439.4 342.2 L1448.2 340.2 L1457 337.6 L1465.8 334.4 L1472.4 331.5 L1479 328 L1485.6 323.8 L1492.2 318.7 L1498.8 312.4 L1503.2 307.5 L1507.6 301.7 L1512 295 L1516.3 287.1 L1518.5 282.6 L1522.9 272.3 L1527.3 259.9 L1530.4 249.7 L1533.9 236 L1537.4 219.6 L1540.7 201.6 L1543.6 182.2 L1546.2 161.6 L1548.9 137.3 L1551.2 111.7 L1553.3 85.6 L1555.3 55.3 L1557.1 25.1 L1560.9 -54.8 L1626.8 -54.8 L1627.1 -53.8 L1630.3 16.9 L1633 62.2 L1636.2 106.4 L1639.7 144.5 L1641.8 162.9 L1643.8 179 L1646.1 195.2 L1648.5 209.4 L1650.8 221.8 L1653.5 234.1 L1656.4 245.9 L1659.3 256.2 L1662.1 264.8 L1666.5 276.3 L1668.7 281.4 L1673.1 290.2 L1677.5 297.6 L1681.9 303.9 L1686.3 309.4 L1690.7 314.1 L1695.1 318.2 L1701.7 323.4 L1708.3 327.6 L1714.9 331.2 L1721.4 334.2 L1730.2 337.4 L1739 340 L1747.8 342.1 L1748.1 372.9 Z" fill="#e9dbe9"/>
<path d="M1008.3 372.9 L1008.3 347 L1021.5 346 L1032.5 344.6 L1043.4 342.8 L1054.4 340.4 L1063.2 337.9 L1072 334.7 L1080.8 330.8 L1087.4 327.2 L1094 322.8 L1100.6 317.5 L1107.2 310.9 L1111.6 305.8 L1116 299.7 L1120.4 292.7 L1124.8 284.3 L1129.2 274.4 L1133.5 262.4 L1136.3 253.5 L1139.6 241.7 L1142.8 227.8 L1145.7 213 L1148.3 197.6 L1151 179.6 L1153.3 161 L1155.4 142.3 L1157.4 121 L1159.5 96.3 L1161.2 72.1 L1164.5 18.3 L1167.7 -51.9 L1168 -54.8 L1233.9 -54.8 L1234.2 -51.9 L1235.9 -11.2 L1237.7 23.8 L1239.5 54.1 L1241.5 84.6 L1243.6 110.8 L1245.9 136.5 L1248.5 161 L1251.2 181.7 L1254.1 201.2 L1257.3 219.2 L1260.9 235.7 L1264.4 249.4 L1266.7 257.4 L1269.2 265 L1273.6 276.5 L1278 286.1 L1282.4 294.2 L1286.8 301 L1291.2 306.9 L1295.6 311.9 L1302.2 318.2 L1308.8 323.4 L1315.4 327.7 L1321.9 331.2 L1330.7 335.1 L1339.5 338.2 L1348.3 340.6 L1357.1 342.6 L1368.1 344.5 L1379.1 345.8 L1392.3 347 L1403.3 347.5 L1416.4 347.7 L1429.6 347.4 L1440.6 346.9 L1453.8 345.7 L1464.8 344.2 L1475.8 342.2 L1484.6 340.2 L1493.3 337.6 L1502.1 334.4 L1508.7 331.5 L1515.3 328 L1521.9 323.8 L1528.5 318.7 L1535.1 312.5 L1539.5 307.6 L1543.9 301.8 L1548.3 295.1 L1552.7 287.3 L1554.9 282.8 L1559.3 272.5 L1563.7 260.2 L1566.7 250 L1570.3 236.3 L1573.8 220 L1577 202.1 L1579.9 182.8 L1582.6 162.2 L1585.2 138 L1587.5 112.6 L1589.6 86.6 L1591.7 56.5 L1593.7 21.1 L1597.2 -54.8 L1663.4 -54.8 L1665.8 -2 L1668.1 42 L1670.8 82.6 L1673.7 119.3 L1676.9 152 L1680.4 180.6 L1684.5 207.3 L1686.6 218.5 L1688.9 229.8 L1691.3 239.9 L1693.6 248.9 L1696.3 257.9 L1698.7 265.4 L1700.9 271.4 L1705.3 281.8 L1707.5 286.4 L1711.9 294.4 L1714.1 297.9 L1718.5 304.2 L1722.9 309.6 L1727.3 314.3 L1731.7 318.4 L1736.1 321.9 L1740.5 325 L1747.1 329 L1748.1 372.9 Z" fill="#e9dbe9"/>
<path d="M1008.3 372.9 L1008.3 56.5 L1010.9 94.4 L1013.9 128.9 L1017.1 159.7 L1020.3 184.8 L1024.1 209 L1028.2 229.8 L1030.6 239.9 L1032.9 248.9 L1035.5 257.9 L1038 265.4 L1042.4 276.9 L1044.6 281.8 L1049 290.6 L1051.2 294.4 L1055.6 301.2 L1060 307 L1064.4 312.1 L1068.8 316.4 L1073.2 320.2 L1077.6 323.5 L1082 326.4 L1086.4 329 L1093 332.3 L1099.6 335.1 L1106.1 337.5 L1112.7 339.5 L1119.3 341.2 L1125.9 342.6 L1134.7 344.1 L1143.5 345.4 L1152.3 346.3 L1169.9 347.4 L1178.7 347.7 L1189.7 347.7 L1207.2 347 L1216 346.3 L1224.8 345.4 L1233.6 344.2 L1240.2 343.1 L1246.8 341.7 L1253.4 340.2 L1264.4 336.9 L1271 334.4 L1275.4 332.5 L1279.8 330.3 L1284.1 327.9 L1288.5 325.2 L1292.9 322.1 L1297.3 318.6 L1301.7 314.6 L1308.3 307.4 L1312.7 301.6 L1314.9 298.4 L1319.3 291.1 L1321.5 287 L1325.9 277.5 L1330.3 266.2 L1334.7 252.5 L1338.2 239.3 L1341.7 223.6 L1344.9 206.4 L1347.9 187.9 L1350.8 165.9 L1353.4 142.3 L1355.8 117.7 L1358.1 88.6 L1360.2 58.8 L1361.9 29.1 L1364 -11.2 L1365.7 -51.9 L1366 -54.8 L1432 -54.8 L1432.3 -51.9 L1434.3 -5 L1436.7 39.5 L1439 76.4 L1441.3 107.3 L1444 136.5 L1446.9 163.5 L1450.1 187.9 L1453.6 209.8 L1457.5 229.2 L1461.9 247.3 L1464.5 256.5 L1467.3 265 L1471.7 276.5 L1476.1 286.1 L1478.3 290.3 L1482.7 297.7 L1484.9 301 L1489.2 306.9 L1493.6 311.9 L1498 316.3 L1502.4 320.1 L1509 324.9 L1515.6 328.9 L1522.2 332.3 L1528.8 335.1 L1537.6 338.2 L1544.2 340 L1553 342.1 L1561.8 343.8 L1572.8 345.3 L1583.7 346.5 L1594.7 347.2 L1605.7 347.6 L1618.9 347.7 L1632.1 347.2 L1643.1 346.5 L1651.9 345.7 L1660.7 344.5 L1669.4 343.1 L1678.2 341.3 L1687 339 L1693.6 336.9 L1700.2 334.4 L1706.8 331.5 L1713.4 328 L1717.8 325.3 L1724.4 320.5 L1728.8 316.8 L1733.2 312.5 L1737.6 307.6 L1742 301.8 L1746.4 295.1 L1748.1 372.9 Z" fill="#dce9d9"/>
<path d="M1008.3 372.9 L1008.3 288.4 L1012.7 279.2 L1017.1 268.3 L1021.5 255 L1024.7 243.4 L1028.2 228.5 L1031.4 212.2 L1034.4 194.8 L1037 176.3 L1039.6 154.6 L1042 132 L1044.3 105.6 L1046.4 78.5 L1048.4 46.9 L1050.2 15.5 L1053.4 -54.8 L1119.6 -54.8 L1123.1 21.1 L1125.2 56.5 L1127.2 86.6 L1129.3 112.6 L1131.6 138 L1134.3 162.2 L1136.9 182.8 L1139.8 202.1 L1143.1 220 L1146.6 236.3 L1150.1 250 L1152.4 257.9 L1154.9 265.4 L1159.3 276.9 L1163.7 286.4 L1168.1 294.4 L1172.5 301.2 L1176.9 307 L1181.3 312.1 L1187.9 318.4 L1194.5 323.5 L1201.1 327.8 L1207.7 331.3 L1216.5 335.1 L1225.3 338.2 L1234 340.6 L1242.8 342.6 L1253.8 344.5 L1264.8 345.9 L1278 347 L1289 347.5 L1302.2 347.7 L1315.4 347.4 L1326.3 346.8 L1339.5 345.7 L1350.5 344.2 L1361.5 342.2 L1370.3 340.2 L1379.1 337.6 L1387.9 334.4 L1394.5 331.4 L1401.1 327.9 L1407.6 323.7 L1414.2 318.6 L1420.8 312.4 L1425.2 307.4 L1429.6 301.6 L1434 294.9 L1438.4 287 L1442.8 277.5 L1447.2 266.2 L1449.4 259.7 L1452.2 250.5 L1455.7 236.9 L1459.2 220.7 L1462.4 203 L1465.4 183.8 L1468 163.5 L1470.6 139.5 L1473 114.3 L1475 88.6 L1477.1 58.8 L1478.8 29.1 L1480.9 -11.2 L1482.7 -51.9 L1482.9 -54.8 L1548.9 -54.8 L1549.2 -51.9 L1550.9 -11.2 L1552.7 23.8 L1554.4 54.1 L1556.2 80.6 L1558.2 107.3 L1560.3 130.5 L1562.6 153.3 L1565 172.9 L1567.6 191.9 L1570.6 209.8 L1573.8 226.4 L1577 240.5 L1580.5 253.5 L1584.2 265 L1588.6 276.5 L1593 286.1 L1597.4 294.2 L1599.6 297.7 L1604 304 L1608.4 309.5 L1614.9 316.3 L1621.5 321.8 L1628.1 326.3 L1632.5 328.9 L1636.9 331.2 L1645.7 335.1 L1654.5 338.2 L1665.5 341.1 L1676.5 343.4 L1689.7 345.3 L1702.8 346.6 L1718.2 347.5 L1733.6 347.7 L1746.8 347.3 L1748.1 372.9 Z" fill="#dde4ee"/>
<path d="M1008.3 372.9 L1008.3 342 L1014.9 343.3 L1023.7 344.7 L1039.1 346.4 L1054.4 347.4 L1072 347.7 L1089.6 347.2 L1098.4 346.6 L1107.2 345.7 L1122.6 343.6 L1135.7 340.9 L1146.7 337.8 L1153.3 335.5 L1157.7 333.8 L1166.5 329.6 L1170.9 327.1 L1175.3 324.2 L1179.7 321 L1184.1 317.3 L1190.7 310.8 L1195.1 305.6 L1197.3 302.7 L1201.7 296.1 L1206.1 288.4 L1208.3 284 L1212.7 274 L1217 262 L1220.1 252 L1223.9 237.5 L1227.5 221.4 L1230.7 203.9 L1233.6 184.8 L1236.2 164.7 L1238.9 140.9 L1241.2 116 L1243.6 86.6 L1245.6 56.5 L1247.7 21.1 L1251.2 -54.8 L1317.4 -54.8 L1319.5 -8.1 L1321.5 31.8 L1323.6 65.6 L1325.9 98.2 L1328.5 128.9 L1331.2 154.6 L1334.1 178.5 L1337.3 200.3 L1340.8 220 L1344.4 236.3 L1348.5 252 L1352.7 265.4 L1357.1 276.9 L1359.3 281.8 L1363.7 290.6 L1365.9 294.4 L1370.3 301.2 L1372.5 304.2 L1376.9 309.6 L1383.5 316.4 L1387.9 320.2 L1392.3 323.5 L1396.7 326.4 L1401.1 329 L1405.4 331.3 L1412 334.3 L1416.4 336 L1423 338.2 L1429.6 340.1 L1436.2 341.7 L1449.4 344.1 L1464.8 346.1 L1482.4 347.3 L1491.2 347.6 L1502.1 347.7 L1519.7 347.1 L1528.5 346.5 L1537.3 345.7 L1552.7 343.5 L1561.5 341.7 L1568.1 340.2 L1574.7 338.3 L1581.2 336.1 L1587.8 333.5 L1592.2 331.4 L1598.8 327.9 L1603.2 325.2 L1609.8 320.4 L1614.2 316.7 L1618.6 312.4 L1623 307.4 L1627.4 301.6 L1629.6 298.4 L1634 291.1 L1636.2 287 L1640.6 277.5 L1642.8 272.2 L1647.2 259.7 L1649.4 252.5 L1652 242.8 L1654.4 233.1 L1656.7 222.2 L1658.7 211.4 L1662.8 185.9 L1666.7 155.9 L1669.9 124.2 L1672.8 88.6 L1675.4 49.4 L1677.8 6.9 L1680.4 -51.9 L1680.7 -54.8 L1746.6 -54.8 L1746.9 -51.9 L1748.1 -24.1 L1748.1 372.9 Z" fill="#ede4dc"/>
<path d="M1008.3 372.9 L1008.3 332.5 L1014.9 335.3 L1021.5 337.6 L1028.1 339.6 L1034.7 341.3 L1041.3 342.7 L1050 344.2 L1058.8 345.4 L1067.6 346.3 L1076.4 347 L1087.4 347.5 L1096.2 347.7 L1107.2 347.6 L1118.2 347.2 L1127 346.6 L1137.9 345.6 L1146.7 344.5 L1159.9 342.1 L1166.5 340.6 L1173.1 338.8 L1179.7 336.7 L1184.1 335.1 L1190.7 332.3 L1195.1 330.1 L1199.5 327.7 L1203.9 324.9 L1208.3 321.8 L1212.7 318.2 L1217 314.2 L1221.4 309.5 L1225.8 304 L1228 301 L1232.4 294.2 L1234.6 290.3 L1239 281.5 L1243.4 271 L1247.8 258.3 L1251.8 244.5 L1255.6 228.5 L1259.1 210.6 L1262.3 190.9 L1265.2 169.5 L1267.9 146.5 L1270.5 119.3 L1272.9 90.6 L1274.9 61.1 L1277 26.5 L1278.7 -8.1 L1280.8 -54.8 L1347 -54.8 L1349 -8.1 L1351.1 31.8 L1353.1 65.6 L1355.5 98.2 L1358.1 128.9 L1360.8 154.6 L1363.7 178.5 L1366.9 200.3 L1370.4 220 L1374 236.3 L1378.1 252 L1382.3 265.4 L1386.7 276.9 L1388.9 281.8 L1393.3 290.6 L1395.5 294.4 L1399.9 301.2 L1402.1 304.2 L1406.5 309.6 L1413.1 316.4 L1417.5 320.2 L1421.9 323.5 L1426.3 326.4 L1430.6 329 L1435 331.3 L1441.6 334.3 L1446 336 L1452.6 338.2 L1459.2 340.1 L1465.8 341.7 L1479 344.1 L1494.4 346.1 L1512 347.3 L1520.7 347.6 L1531.7 347.7 L1542.7 347.4 L1551.5 347 L1560.3 346.3 L1569.1 345.4 L1577.9 344.2 L1584.5 343.1 L1593.3 341.2 L1599.9 339.6 L1606.4 337.6 L1613 335.3 L1619.6 332.5 L1624 330.3 L1630.6 326.6 L1635 323.7 L1641.6 318.6 L1646 314.6 L1650.4 310 L1654.8 304.6 L1659.2 298.4 L1661.4 294.9 L1665.8 287 L1668 282.5 L1672.4 272.2 L1674.6 266.2 L1676.8 259.7 L1679.6 250.5 L1681.9 241.7 L1684.2 231.8 L1686.6 220.7 L1688.6 209.8 L1692.7 183.8 L1696.3 155.9 L1699.5 124.2 L1702.4 88.6 L1705 49.4 L1707.4 6.9 L1710 -51.9 L1710.3 -54.8 L1748.1 -54.8 L1748.1 372.9 Z" fill="#ecdcd8"/>
<path d="M1008.3 298.7 L1011.2 302.7 L1015.6 308.1 L1020 312.8 L1024.4 316.9 L1028.8 320.5 L1034.7 324.7 L1039.1 327.4 L1044.9 330.6 L1050.8 333.3 L1056.6 335.6 L1062.5 337.7 L1069.8 339.8 L1077.1 341.6 L1084.5 343.1 L1093.3 344.6 L1102 345.7 L1112.3 346.8 L1124 347.5 L1134.3 347.9 L1146 348 L1157.7 347.7 L1168 347.2 L1178.2 346.4 L1188.5 345.2 L1197.3 343.9 L1206.1 342.2 L1214.9 340.2 L1222.2 338.1 L1229.5 335.6 L1236.8 332.6 L1242.7 329.7 L1248.5 326.4 L1252.9 323.6 L1255.9 321.5 L1260.3 318 L1263.2 315.4 L1266.1 312.6 L1269.1 309.5 L1272 306.2 L1274.9 302.5 L1277.8 298.4 L1280.8 294 L1285.2 286.4 L1288.1 280.7 L1291 274.4 L1293.4 268.8 L1295.4 263.6 L1298.9 253.5 L1302.2 243.1 L1305.4 231.4 L1308.3 219.5 L1311.8 203.4 L1315.4 185.4 L1318.6 167.2 L1325 128.9 L1327.7 114.9 L1329.1 108.7 L1330.3 105 L1330.9 103.8 L1331.5 103 L1332.1 102.7 L1332.6 103.1 L1333.2 104.2 L1333.8 106.1 L1334.4 108.9 L1335 112.8 L1336 122.1 L1337 135.6 L1337.8 151.8 L1338.7 172.8 L1340.3 223.5 L1341.7 290.8 L1343 374.6 L1344.2 473.5 L1345.6 615.9" fill="none" stroke="#f37d7b" stroke-width="2.6" stroke-linejoin="round"/>
<path d="M1369.8 613.6 L1371 487.1 L1372.3 377.3 L1373.7 292.8 L1375.1 225 L1376.6 173.7 L1377.5 152.6 L1378.4 136.2 L1379.3 123.8 L1380.3 113.7 L1380.9 109.6 L1381.5 106.6 L1382 104.5 L1382.6 103.3 L1383.2 102.8 L1383.8 102.9 L1384.4 103.6 L1385 104.7 L1386.1 108.3 L1387.6 114.3 L1390.2 128.2 L1397.3 170 L1401.1 191 L1405.5 212.5 L1407.8 222.7 L1410.2 232.1 L1412.5 240.7 L1414.9 248.6 L1417.2 255.8 L1419.8 263.3 L1422.5 270 L1425.1 276.1 L1428 282.3 L1431 287.8 L1433.9 292.9 L1438.3 299.5 L1441.2 303.5 L1445.6 308.8 L1450 313.4 L1454.4 317.4 L1458.8 321 L1464.7 325.1 L1470.5 328.6 L1476.4 331.6 L1482.3 334.2 L1488.1 336.4 L1494 338.3 L1501.3 340.4 L1508.6 342.1 L1515.9 343.5 L1527.7 345.3 L1539.4 346.6 L1552.6 347.5 L1565.8 347.9 L1580.4 347.9 L1593.6 347.4 L1606.8 346.4 L1618.5 345.1 L1628.8 343.5 L1639 341.4 L1647.8 339.2 L1656.6 336.4 L1661 334.8 L1665.4 333 L1672.7 329.4 L1677.1 326.9 L1680 325.1 L1685.9 321 L1691.7 316.2 L1696.1 312 L1699.1 308.9 L1702 305.4 L1706.4 299.7 L1710.8 293 L1715.2 285.3 L1719.6 276.3 L1722.8 268.7 L1726.3 259.4 L1729.5 249.8 L1732.8 238.9 L1736 226.6 L1738.9 214.2 L1741.8 200.4 L1744.8 185.2 L1748 167" fill="none" stroke="#f37d7b" stroke-width="2.6" stroke-linejoin="round"/>
<path d="M1008.3 288.4 L1012.7 279.2 L1015.6 272.2 L1017.1 268.3 L1020 259.7 L1021.5 255 L1024.7 243.4 L1028.2 228.5 L1031.4 212.2 L1034.4 194.8 L1037 176.3 L1039.6 154.6 L1042 132 L1044.3 105.6 L1046.4 78.5 L1048.4 46.9 L1050.2 15.5 L1051.7 -14.4 L1053.4 -54.8" fill="none" stroke="#f37d7b" stroke-width="2.6" stroke-linejoin="round"/>
<path d="M1119.7 -53.8 L1121.2 -19.2 L1122.9 16.9 L1124.7 48.1 L1126.4 75.3 L1128.5 102.8 L1130.5 126.6 L1132.6 147.2 L1134.9 167.7 L1137.6 187.4 L1140.2 204.3 L1143.1 220.3 L1146.4 235.3 L1149.9 249.2 L1151.9 256.2 L1154 262.6 L1156.9 270.8 L1158.4 274.6 L1161.3 281.4 L1165.7 290.2 L1170.1 297.6 L1173 301.9 L1176 305.9 L1178.9 309.4 L1181.8 312.6 L1184.7 315.5 L1187.7 318.2 L1190.6 320.6 L1195 323.9 L1197.9 325.8 L1202.3 328.5 L1205.3 330.1 L1209.7 332.2 L1214 334.2 L1218.4 335.9 L1227.2 338.8 L1231.6 340 L1237.5 341.5 L1243.3 342.7 L1249.2 343.8 L1260.9 345.4 L1274.1 346.7 L1287.3 347.4 L1301.9 347.7 L1316.6 347.4 L1329.8 346.6 L1343 345.2 L1354.7 343.5 L1360.5 342.4 L1366.4 341.1 L1372.3 339.6 L1376.7 338.4 L1381.1 336.9 L1385.5 335.3 L1389.8 333.6 L1394.2 331.6 L1398.6 329.3 L1401.6 327.6 L1406 324.9 L1408.9 322.8 L1413.3 319.4 L1416.2 316.9 L1419.1 314.1 L1422.1 311 L1425 307.7 L1427.9 303.9 L1432.3 297.6 L1436.7 290.2 L1441.1 281.4 L1444.1 274.6 L1445.5 270.8 L1448.4 262.6 L1449.9 258.1 L1452.5 249.2 L1456.1 235.3 L1459 221.8 L1461.9 206 L1464.6 189.4 L1467.2 170 L1469.5 150 L1471.6 129.7 L1473.6 106.4 L1475.7 79.5 L1477.5 52.9 L1478.9 27.8 L1481 -12.8 L1482.7 -53.8 L1483 -54.8" fill="none" stroke="#f37d7b" stroke-width="2.6" stroke-linejoin="round"/>
<path d="M1549.1 -52.8 L1550.6 -18.4 L1552.4 17.6 L1554.1 48.8 L1556.2 80 L1558.2 106.9 L1560.3 130.1 L1562.6 153 L1565 172.6 L1567.6 191.6 L1570.5 209.6 L1573.4 224.9 L1576.7 239.2 L1579.9 251.4 L1583.4 262.7 L1584.9 267 L1587.8 274.6 L1589.3 278.1 L1592.2 284.5 L1596.6 292.8 L1599.5 297.7 L1602.5 302 L1605.4 305.9 L1608.3 309.4 L1611.2 312.6 L1614.2 315.5 L1617.1 318.2 L1621.5 321.8 L1624.4 323.9 L1628.8 326.8 L1631.8 328.5 L1636.1 330.8 L1640.5 332.9 L1644.9 334.8 L1649.3 336.4 L1655.2 338.4 L1659.6 339.6 L1665.4 341.1 L1671.3 342.4 L1677.2 343.5 L1688.9 345.2 L1702.1 346.6 L1716.7 347.4 L1724 347.6 L1732.8 347.7 L1747.5 347.3" fill="none" stroke="#f37d7b" stroke-width="2.6" stroke-linejoin="round"/>
<path d="M1008.3 347.9 L1017.1 348.2 L1027.3 348.3 L1037.6 348.2 L1046.4 347.9 L1055.2 347.4 L1064 346.7 L1072.7 345.7 L1081.5 344.5 L1088.9 343.3 L1096.2 341.8 L1103.5 340.1 L1109.4 338.4 L1115.2 336.5 L1121.1 334.4 L1127 331.9 L1132.8 329 L1137.2 326.6 L1141.6 323.9 L1146 320.8 L1148.9 318.6 L1153.3 315 L1156.3 312.3 L1160.6 307.9 L1163.6 304.7 L1168 299.4 L1170.9 295.5 L1173.8 291.3 L1177.6 285.5 L1180.9 280.2 L1184.1 274.5 L1194.9 254.4 L1197.3 250.4 L1199 247.8 L1200.5 246 L1201.7 244.8 L1202.8 243.9 L1203.7 243.5 L1204.6 243.4 L1205.5 243.5 L1206.4 244 L1207.2 244.8 L1208.1 246.1 L1209 247.9 L1209.9 250.2 L1210.8 253.2 L1211.6 257 L1212.5 261.5 L1214 271.1 L1215.4 283.9 L1216.6 296.7 L1218.1 316.6 L1219.2 336.1 L1220.4 359.3 L1221.5 383.8 L1223.7 446.7 L1225.7 518.9 L1227.9 615.9" fill="none" stroke="#00ff00" stroke-width="3" stroke-dasharray="27 23" stroke-dashoffset="0" stroke-linejoin="round"/>
<path d="M1257.2 612.7 L1259.3 518.9 L1261.4 443.1 L1263.6 381.1 L1264.7 354.7 L1265.9 332.2 L1267.1 313.3 L1268.5 294.1 L1269.7 281.7 L1271.2 269.5 L1272.6 260.3 L1273.5 256 L1274.4 252.4 L1275.3 249.6 L1276.2 247.4 L1277 245.7 L1278.2 244.3 L1279.1 243.6 L1280 243.4 L1280.9 243.4 L1281.7 243.7 L1282.6 244.3 L1283.8 245.3 L1286.1 248.1 L1287.9 250.8 L1290.2 254.8 L1300.8 274.4 L1306.6 284.4 L1309.9 289.5 L1312.8 293.8 L1315.7 297.8 L1320.1 303.3 L1323 306.6 L1326 309.7 L1328.9 312.5 L1333.3 316.4 L1336.2 318.8 L1340.6 322 L1343.6 324 L1347.9 326.7 L1352.3 329.1 L1358.2 332 L1362.6 333.9 L1368.5 336.1 L1374.3 338 L1380.2 339.7 L1386 341.2 L1393.4 342.8 L1400.7 344.1 L1408 345.2 L1415.3 346.1 L1424.1 347 L1431.5 347.5 L1440.2 348 L1449 348.2 L1457.8 348.3 L1466.6 348.2 L1475.4 347.9 L1484.2 347.4 L1491.5 346.9 L1500.3 346 L1507.6 345 L1515 343.9 L1522.3 342.5 L1529.6 340.9 L1535.5 339.4 L1541.3 337.6 L1547.2 335.6 L1553 333.3 L1557.4 331.4 L1563.3 328.4 L1567.7 325.9 L1572.1 323.1 L1576.5 320 L1580.9 316.6 L1583.8 314 L1588.2 309.8 L1591.1 306.7 L1594.1 303.4 L1597 299.9 L1599.9 296 L1602.9 291.9 L1608.7 282.7 L1614 273.6 L1623.7 255.6 L1627.2 249.6 L1629.2 246.8 L1631 244.9 L1632.5 243.8 L1633.3 243.4 L1633.9 243.4 L1635.1 243.6 L1636.3 244.4 L1637.4 246 L1638.3 247.7 L1639.2 250 L1640.1 253 L1640.9 256.6 L1641.8 261.1 L1643.6 272.8 L1645 286.1 L1646.5 303.1 L1647.7 320 L1648.9 340.2 L1650.3 369 L1651.5 398.9 L1652.6 430.4 L1654.8 507.2 L1657.3 615.9" fill="none" stroke="#00ff00" stroke-width="3" stroke-dasharray="27 23" stroke-dashoffset="17" stroke-linejoin="round"/>
<path d="M1686.6 610.9 L1688.3 535.6 L1690 467.7 L1691.8 412.1 L1693.7 364.9 L1695.6 326.6 L1696.5 312.8 L1697.7 297.1 L1698.9 284.2 L1700 273.7 L1701.2 265.2 L1702.4 258.5 L1703.5 253.4 L1704.7 249.5 L1705.9 246.7 L1707.1 244.9 L1708.2 243.8 L1708.8 243.5 L1709.7 243.4 L1710.3 243.4 L1711.2 243.7 L1712 244.3 L1712.9 245 L1714.1 246.3 L1715.6 248.2 L1718.5 252.8 L1730.5 274.9 L1736.6 285.4 L1742.2 293.8 L1745.1 297.8 L1748.1 301.5" fill="none" stroke="#00ff00" stroke-width="3" stroke-dasharray="27 23" stroke-dashoffset="34" stroke-linejoin="round"/>
<path d="M1008.3 56.5 L1010.3 86.6 L1012.4 112.6 L1014.4 135 L1016.8 157.2 L1019.1 176.3 L1021.8 194.8 L1024.7 212.2 L1027.6 227.1 L1030.8 241.1 L1034.1 253 L1037.3 263.3 L1038.8 267.5 L1041.7 275.1 L1043.2 278.6 L1046.1 284.9 L1050.5 293.2 L1053.4 297.9 L1056.3 302.2 L1059.3 306.1 L1062.2 309.6 L1065.1 312.8 L1069.5 317.1 L1072.5 319.6 L1076.8 323 L1079.8 325 L1084.2 327.8 L1088.6 330.2 L1093 332.3 L1097.4 334.3 L1103.2 336.5 L1107.6 338 L1113.5 339.7 L1119.3 341.2 L1125.2 342.4 L1136.9 344.5 L1144.2 345.5 L1153 346.4 L1160.4 346.9 L1169.1 347.4 L1177.9 347.6 L1186.7 347.7 L1195.5 347.5 L1202.8 347.2 L1211.6 346.7 L1219 346 L1226.3 345.2 L1233.6 344.2 L1240.9 342.9 L1246.8 341.7 L1254.1 340 L1260 338.3 L1267.3 335.8 L1274.6 332.8 L1281.9 329.2 L1287.8 325.7 L1293.7 321.6 L1298.1 318 L1301 315.3 L1303.9 312.4 L1308.3 307.4 L1312.7 301.6 L1317.1 294.9 L1321.5 287 L1324.4 280.9 L1327.4 274 L1330.3 266.2 L1333.2 257.4 L1336.2 247.3 L1338.8 236.9 L1341.4 225 L1343.8 213 L1346.1 199.4 L1348.2 185.9 L1350.2 170.6 L1352.3 153.3 L1354 136.5 L1355.8 117.7 L1357.5 96.3 L1359 76.4 L1360.5 54.1 L1362.8 12.7 L1364.3 -17.6 L1365.7 -51.9 L1366 -54.8" fill="none" stroke="#00ff00" stroke-width="3" stroke-dasharray="27 23" stroke-dashoffset="1" stroke-linejoin="round"/>
<path d="M1432.1 -54.7 L1433.9 -13.6 L1436 27.2 L1438.3 66.1 L1440.6 98.7 L1443.3 129.3 L1445.9 154.9 L1449.1 180.9 L1452.4 202.3 L1454.1 212.4 L1455.9 221.6 L1457.9 231.3 L1460 240.1 L1462 248 L1464.4 256.1 L1466.4 262.5 L1469.4 270.7 L1470.8 274.5 L1473.8 281.3 L1476.7 287.3 L1479.6 292.7 L1482.5 297.5 L1485.5 301.9 L1488.4 305.8 L1492.8 311 L1497.2 315.5 L1500.1 318.1 L1503.1 320.6 L1508.9 324.9 L1511.8 326.7 L1516.2 329.3 L1523.6 332.9 L1530.9 335.9 L1538.2 338.3 L1547 340.8 L1557.3 343 L1567.5 344.7 L1577.8 345.9 L1589.5 346.9 L1601.2 347.5 L1614.4 347.7 L1627.6 347.4 L1639.3 346.8 L1649.6 345.9 L1659.8 344.7 L1670.1 343 L1678.9 341.1 L1687.6 338.8 L1695 336.4 L1702.3 333.6 L1708.2 330.8 L1714 327.7 L1719.9 323.9 L1725.7 319.4 L1730.1 315.5 L1734.5 311.1 L1738.9 305.9 L1743.3 299.9 L1747.7 292.8" fill="none" stroke="#00ff00" stroke-width="3" stroke-dasharray="27 23" stroke-dashoffset="18" stroke-linejoin="round"/>
<path d="M1008.3 64.9 L1010 38.2 L1011.5 13.4 L1013.3 -20.1 L1014.7 -51.5 L1015 -54.8" fill="none" stroke="#0000ff" stroke-width="3" stroke-dasharray="27 23" stroke-dashoffset="0" stroke-linejoin="round"/>
<path d="M1037.1 -35.3 L1038.4 615.9" fill="none" stroke="#0000ff" stroke-width="3" stroke-dasharray="27 23" stroke-dashoffset="17" stroke-linejoin="round"/>
<path d="M1052.3 546.1 L1053 165.3 L1053.5 -54.8" fill="none" stroke="#0000ff" stroke-width="3" stroke-dasharray="27 23" stroke-dashoffset="34" stroke-linejoin="round"/>
<path d="M1075.9 -50.6 L1077.3 -19.4 L1079.1 14 L1080.8 43.5 L1082.9 73.6 L1084.9 99.9 L1087.3 125.9 L1089.6 148.4 L1092 167.9 L1094.6 187 L1097.2 203.4 L1100.2 219.1 L1103.4 234 L1106.9 247.7 L1110.4 259.4 L1114.2 270.2 L1115.7 273.9 L1118.6 280.7 L1123 289.5 L1127.4 296.9 L1130.4 301.3 L1133.3 305.2 L1136.2 308.8 L1139.1 312 L1142.1 315 L1145 317.7 L1147.9 320.1 L1152.3 323.4 L1155.3 325.4 L1159.7 328.1 L1164.1 330.5 L1168.4 332.6 L1172.8 334.5 L1177.2 336.2 L1181.6 337.7 L1187.5 339.4 L1197.7 341.9 L1203.6 343.1 L1209.5 344.1 L1215.3 345 L1222.7 345.9 L1235.8 347 L1249 347.6 L1263.7 347.7 L1278.3 347.3 L1291.5 346.4 L1304.7 345 L1316.4 343.1 L1326.7 340.9 L1332.5 339.4 L1336.9 338.1 L1341.3 336.7 L1345.7 335 L1350.1 333.2 L1354.5 331.2 L1358.9 328.9 L1361.8 327.2 L1366.2 324.4 L1369.2 322.3 L1373.5 318.9 L1376.5 316.3 L1379.4 313.5 L1382.3 310.4 L1385.3 307 L1388.2 303.2 L1392.6 296.8 L1397 289.3 L1401.4 280.5 L1404.3 273.7 L1405.8 270 L1408.7 261.8 L1410.2 257.3 L1413.4 246.4 L1416.6 233.7 L1419.8 218.8 L1422.8 203 L1425.4 186.5 L1428 167.4 L1430.4 147.7 L1432.7 125.2 L1434.8 102.5 L1436.8 76.6 L1438.6 51.4 L1440.4 23 L1442.4 -15 L1444.2 -52.3 L1444.5 -54.8" fill="none" stroke="#0000ff" stroke-width="3" stroke-dasharray="27 23" stroke-dashoffset="1" stroke-linejoin="round"/>
<path d="M1466.6 -20 L1467.8 615.9" fill="none" stroke="#0000ff" stroke-width="3" stroke-dasharray="27 23" stroke-dashoffset="18" stroke-linejoin="round"/>
<path d="M1481.6 595 L1482.4 147.1 L1482.8 -50.3 L1482.9 -54.8" fill="none" stroke="#0000ff" stroke-width="3" stroke-dasharray="27 23" stroke-dashoffset="35" stroke-linejoin="round"/>
<path d="M1505.2 -52.3 L1506.9 -15 L1509 23 L1511 55.8 L1513.1 84.4 L1515.4 112.6 L1517.8 136.9 L1520.4 160.3 L1523.3 182.5 L1526.3 201.2 L1529.5 218.8 L1533 234.9 L1534.8 242 L1536.8 249.5 L1540.6 261.8 L1542.1 266 L1545 273.7 L1549.4 283.6 L1552.4 289.3 L1555.3 294.5 L1558.2 299.1 L1561.1 303.2 L1564.1 307 L1567 310.4 L1569.9 313.5 L1574.3 317.6 L1577.3 320.1 L1581.7 323.4 L1586 326.3 L1590.4 328.9 L1594.8 331.2 L1599.2 333.2 L1603.6 335 L1609.5 337.2 L1615.3 339 L1621.2 340.6 L1627.1 341.9 L1634.4 343.4 L1641.7 344.6 L1649 345.5 L1656.4 346.3 L1665.2 347 L1673.9 347.5 L1682.7 347.7 L1691.5 347.8 L1700.3 347.6 L1709.1 347.2 L1716.4 346.8 L1725.2 346 L1732.5 345.2 L1739.9 344.1 L1747.2 342.8" fill="none" stroke="#0000ff" stroke-width="3" stroke-dasharray="27 23" stroke-dashoffset="2" stroke-linejoin="round"/>
<path d="M1008.3 347 L1021.5 346 L1033.2 344.5 L1043.4 342.8 L1053.7 340.6 L1062.5 338.1 L1066.9 336.7 L1071.3 335 L1075.7 333.2 L1080.1 331.2 L1084.5 328.9 L1087.4 327.2 L1091.8 324.3 L1094.7 322.2 L1097.7 320 L1100.6 317.5 L1103.5 314.7 L1106.4 311.7 L1109.4 308.4 L1112.3 304.8 L1116.7 298.6 L1121.1 291.4 L1125.5 282.8 L1128.4 276.2 L1129.9 272.5 L1132.8 264.6 L1134.3 260.2 L1136.9 251.5 L1140.1 239.3 L1143.1 226.4 L1146 211.4 L1148.6 195.7 L1151 179.6 L1153.3 161 L1155.4 142.3 L1157.4 121 L1159.5 96.3 L1161.2 72.1 L1163 44.5 L1164.5 18.3 L1166.2 -17.6 L1167.7 -51.9 L1168 -54.8" fill="none" stroke="#0000ff" stroke-width="3" stroke-dasharray="27 23" stroke-dashoffset="19" stroke-linejoin="round"/>
<path d="M1234.1 -54.7 L1235.5 -20 L1237.3 16.2 L1239.1 47.5 L1240.8 74.8 L1242.9 102.4 L1244.9 126.2 L1247 146.9 L1249.3 167.4 L1252 187.2 L1254.6 204.1 L1257.5 220.2 L1260.7 235.2 L1264.3 249 L1266.3 256.1 L1268.4 262.5 L1271.3 270.7 L1272.8 274.5 L1275.7 281.3 L1280.1 290.1 L1284.5 297.5 L1287.4 301.9 L1290.3 305.8 L1293.3 309.3 L1296.2 312.6 L1299.1 315.5 L1302.1 318.1 L1305 320.6 L1309.4 323.8 L1312.3 325.8 L1316.7 328.5 L1319.6 330.1 L1324 332.2 L1328.4 334.2 L1332.8 335.9 L1341.6 338.8 L1346 340 L1351.9 341.4 L1357.7 342.7 L1363.6 343.7 L1375.3 345.4 L1388.5 346.7 L1401.7 347.4 L1416.3 347.7 L1431 347.4 L1444.2 346.6 L1457.3 345.2 L1469.1 343.5 L1474.9 342.4 L1480.8 341.1 L1486.6 339.6 L1491 338.4 L1495.4 336.9 L1499.8 335.4 L1504.2 333.6 L1508.6 331.6 L1513 329.3 L1515.9 327.7 L1520.3 324.9 L1523.3 322.9 L1527.7 319.4 L1530.6 316.9 L1533.5 314.1 L1536.5 311.1 L1539.4 307.7 L1542.3 304 L1546.7 297.7 L1551.1 290.2 L1555.5 281.4 L1558.4 274.6 L1559.9 270.9 L1562.8 262.7 L1564.3 258.2 L1566.9 249.3 L1570.4 235.5 L1573.7 220.5 L1576.6 204.5 L1579.2 187.7 L1581.9 168 L1584.2 147.6 L1586.3 127 L1588.3 103.3 L1590.4 75.9 L1592.1 48.8 L1593.6 23.1 L1595.3 -12 L1597.1 -52.8 L1597.4 -54.8" fill="none" stroke="#0000ff" stroke-width="3" stroke-dasharray="27 23" stroke-dashoffset="36" stroke-linejoin="round"/>
<path d="M1663.5 -53.8 L1665.9 -0.5 L1668.2 43.2 L1670.8 83.6 L1673.8 120.1 L1675.2 135.8 L1677 152.6 L1678.7 167.7 L1680.5 181.2 L1682.6 195.2 L1684.6 207.7 L1686.7 218.9 L1689 230.2 L1691.3 240.2 L1694 250.2 L1696.3 258.1 L1699.3 266.9 L1702.2 274.6 L1705.1 281.4 L1708 287.4 L1711 292.8 L1713.9 297.6 L1718.3 303.9 L1722.7 309.4 L1727.1 314.1 L1731.5 318.2 L1734.4 320.6 L1737.3 322.8 L1741.7 325.8 L1747.6 329.3" fill="none" stroke="#0000ff" stroke-width="3" stroke-dasharray="27 23" stroke-dashoffset="3" stroke-linejoin="round"/>
<path d="M1026.4 614.9 L1032.8 523.9 L1036.9 471.7 L1038.9 448.5 L1041 427.8 L1043 409.5 L1045.1 393.5 L1047.1 379.7 L1049.5 366.3 L1051.8 355.4 L1054.4 345.4 L1057.1 337.7 L1058.5 334.2 L1060 331.2 L1061.5 328.6 L1063.2 326.1 L1064.7 324.4 L1066.4 322.8 L1067.9 321.7 L1069.7 320.7 L1071.4 320 L1073.2 319.5 L1074.9 319.3 L1077 319.3 L1079.3 319.5 L1081.7 319.9 L1084.6 320.6 L1089 322 L1093.4 323.7 L1113.9 331.8 L1121.2 334.5 L1128.6 336.8 L1137.4 339.3 L1146.1 341.4 L1154.9 343.2 L1163.7 344.7 L1171 345.8 L1179.8 346.8 L1188.6 347.7 L1197.4 348.3 L1206.2 348.8 L1215 349.1 L1223.8 349.3 L1234 349.3 L1244.3 349.1 L1254.6 348.6 L1264.8 348 L1273.6 347.2 L1282.4 346.3 L1291.2 345.1 L1300 343.7 L1307.3 342.2 L1314.6 340.6 L1321.9 338.8 L1329.3 336.7 L1335.1 334.8 L1345.4 331.1 L1364.4 323.5 L1371.8 320.9 L1376.1 319.8 L1378.8 319.4 L1381.1 319.3 L1383.8 319.5 L1386.1 320 L1388.5 321.1 L1390.5 322.4 L1392.6 324.3 L1394.3 326.3 L1396.1 328.9 L1397.8 332 L1399.6 335.9 L1401.1 339.6 L1402.5 344 L1404 349 L1405.4 354.7 L1406.9 361.3 L1409.6 375.2 L1412.2 392.4 L1414.5 410.7 L1416.9 432 L1419.2 456.5 L1421.6 484.1 L1423.8 512.5 L1431.1 615.9" fill="none" stroke="#ff0000" stroke-width="3" stroke-dasharray="27 23" stroke-dashoffset="0" stroke-linejoin="round"/>
<path d="M1455.8 614.4 L1462.1 524.9 L1466 474.7 L1468 451.3 L1470.1 430.3 L1472.1 411.6 L1474.2 395.4 L1476.2 381.3 L1478.6 367.7 L1480.9 356.5 L1483.6 346.3 L1486.2 338.3 L1487.4 335.4 L1488.8 332.3 L1490.3 329.5 L1491.8 327.3 L1493.2 325.4 L1495 323.5 L1496.5 322.3 L1498.2 321.1 L1500 320.3 L1502 319.7 L1504.1 319.3 L1506.1 319.3 L1508.5 319.4 L1510.8 319.8 L1515.2 320.9 L1519.6 322.4 L1538.7 330.1 L1548.9 333.9 L1559.2 337.2 L1569.4 340 L1575.3 341.3 L1582.6 342.9 L1595.8 345.1 L1610.4 346.9 L1626.6 348.3 L1642.7 349.1 L1658.8 349.3 L1674.9 349 L1691 348.2 L1705.7 347 L1720.3 345.1 L1733.5 342.9 L1740.8 341.4 L1746.7 340" fill="none" stroke="#ff0000" stroke-width="3" stroke-dasharray="27 23" stroke-dashoffset="17" stroke-linejoin="round"/>
<path d="M1008.3 342.6 L1017.1 340.6 L1025.9 338.2 L1030.3 336.7 L1034.7 335.1 L1042 332 L1046.4 329.8 L1049.3 328.1 L1055.2 324.5 L1061 320.1 L1064 317.7 L1066.9 315 L1071.3 310.4 L1075.7 305.1 L1080.1 299 L1084.5 291.8 L1088.9 283.2 L1091.8 276.7 L1094.7 269.3 L1096.2 265.2 L1099.1 256.2 L1102 245.9 L1105 234.1 L1107.6 221.8 L1110 209.4 L1112.3 195.2 L1114.6 179 L1116.7 162.9 L1118.7 144.5 L1120.5 126.6 L1122.3 106.4 L1124 83.6 L1125.5 62.2 L1128.1 16.9 L1129.9 -19.2 L1131.3 -53.8 L1131.6 -54.8" fill="none" stroke="#ff0000" stroke-width="3" stroke-dasharray="27 23" stroke-dashoffset="34" stroke-linejoin="round"/>
<path d="M1197.9 -48.3 L1199.4 -14.4 L1201.2 21.1 L1202.9 51.7 L1204.7 78.5 L1206.7 105.6 L1208.8 128.9 L1211.1 152 L1213.5 171.8 L1216.1 190.9 L1219 209 L1222 224.3 L1225.2 238.7 L1228.4 251 L1231.9 262.4 L1233.4 266.7 L1236.3 274.4 L1237.8 277.9 L1240.7 284.3 L1245.1 292.7 L1249.5 299.7 L1252.4 303.8 L1255.4 307.6 L1258.3 310.9 L1261.2 314 L1264.1 316.8 L1267.1 319.4 L1270 321.7 L1274.4 324.8 L1277.3 326.7 L1281.7 329.3 L1286.1 331.5 L1290.5 333.5 L1294.9 335.3 L1299.3 336.9 L1303.7 338.3 L1309.6 340 L1319.8 342.4 L1331.5 344.4 L1344.7 346.1 L1357.9 347.1 L1371.1 347.6 L1385.7 347.6 L1398.9 347.2 L1412.1 346.2 L1425.3 344.7 L1437 342.7 L1447.3 340.4 L1453.1 338.8 L1457.5 337.4 L1461.9 335.9 L1466.3 334.2 L1470.7 332.3 L1475.1 330.1 L1479.5 327.7 L1482.4 325.9 L1486.8 322.9 L1489.8 320.7 L1492.7 318.2 L1495.6 315.6 L1498.5 312.7 L1501.5 309.5 L1504.4 305.9 L1507.3 302 L1511.7 295.4 L1516.1 287.5 L1520.5 278.2 L1523.5 271 L1524.9 267.1 L1527.8 258.3 L1531.4 246.2 L1534.9 231.8 L1537.8 217.7 L1540.7 201.2 L1543.4 183.8 L1545.7 165.9 L1548.1 145.2 L1550.1 124.2 L1552.2 100.1 L1553.9 76.4 L1555.7 49.4 L1557.1 23.8 L1558.9 -11.2 L1560.7 -51.9 L1561 -54.8" fill="none" stroke="#ff0000" stroke-width="3" stroke-dasharray="27 23" stroke-dashoffset="1" stroke-linejoin="round"/>
<path d="M1627.1 -54.7 L1629.7 4.7 L1631.2 32.4 L1632.6 57 L1634.1 79 L1635.9 102.4 L1637.6 123 L1639.7 144.1 L1641.7 162.5 L1643.8 178.8 L1646.1 195 L1648.5 209.2 L1650.8 221.6 L1653.4 233.9 L1656.4 245.8 L1659.3 256.1 L1662.8 266.8 L1665.7 274.5 L1668.7 281.3 L1673.1 290.1 L1677.5 297.5 L1681.9 303.9 L1686.3 309.3 L1689.2 312.6 L1692.1 315.5 L1696.5 319.4 L1702.4 323.8 L1708.2 327.6 L1711.2 329.3 L1715.6 331.5 L1722.9 334.8 L1730.2 337.4 L1739 340 L1747.8 342.1" fill="none" stroke="#ff0000" stroke-width="3" stroke-dasharray="27 23" stroke-dashoffset="18" stroke-linejoin="round"/>
<path d="M1008.3 332.5 L1014.1 335 L1020 337.2 L1027.3 339.4 L1034.7 341.3 L1042 342.8 L1050.8 344.3 L1059.6 345.5 L1068.4 346.4 L1077.1 347 L1087.4 347.5 L1097.7 347.7 L1107.9 347.6 L1118.2 347.2 L1127 346.6 L1137.2 345.7 L1146 344.6 L1153.3 343.4 L1160.6 342 L1168 340.2 L1173.8 338.6 L1179.7 336.7 L1185.6 334.5 L1191.4 331.9 L1195.8 329.7 L1200.2 327.2 L1204.6 324.4 L1209 321.2 L1213.4 317.6 L1217.8 313.4 L1220.7 310.3 L1225.1 305 L1228 301 L1231 296.6 L1233.9 291.6 L1236.8 286.1 L1239.8 279.9 L1242.7 272.9 L1244.2 269.1 L1247.1 260.6 L1248.5 256 L1250.6 248.9 L1252.4 242.3 L1255.9 227.1 L1259.1 210.6 L1262.3 190.9 L1265.2 169.5 L1267.9 146.5 L1270.5 119.3 L1272.9 90.6 L1274.9 61.1 L1277 26.5 L1278.7 -8.1 L1280.8 -54.8" fill="none" stroke="#ff0000" stroke-width="3" stroke-dasharray="27 23" stroke-dashoffset="35" stroke-linejoin="round"/>
<path d="M1347.1 -53.8 L1348.5 -19.2 L1350.3 16.9 L1352 48.1 L1353.8 75.3 L1355.9 102.8 L1357.9 126.6 L1360 147.2 L1362.3 167.7 L1364.9 187.4 L1367.6 204.3 L1370.5 220.3 L1373.7 235.3 L1377.2 249.2 L1379.3 256.2 L1381.3 262.6 L1384.3 270.8 L1385.7 274.6 L1388.7 281.4 L1393.1 290.2 L1397.5 297.6 L1400.4 301.9 L1403.3 305.9 L1406.3 309.4 L1409.2 312.6 L1412.1 315.5 L1415 318.2 L1418 320.6 L1422.4 323.9 L1425.3 325.8 L1429.7 328.5 L1432.6 330.1 L1437 332.2 L1441.4 334.2 L1445.8 335.9 L1454.6 338.8 L1459 340 L1464.9 341.5 L1470.7 342.7 L1476.6 343.8 L1488.3 345.4 L1501.5 346.7 L1514.7 347.4 L1529.3 347.7 L1544 347.4 L1557.1 346.6 L1570.3 345.2 L1582.1 343.5 L1587.9 342.4 L1593.8 341.1 L1599.6 339.6 L1604 338.4 L1608.4 336.9 L1612.8 335.3 L1617.2 333.6 L1621.6 331.6 L1626 329.3 L1628.9 327.6 L1633.3 324.9 L1636.3 322.8 L1640.7 319.4 L1643.6 316.9 L1646.5 314.1 L1649.4 311 L1652.4 307.7 L1655.3 303.9 L1659.7 297.6 L1664.1 290.2 L1668.5 281.4 L1671.4 274.6 L1672.9 270.8 L1675.8 262.6 L1677.3 258.1 L1679.9 249.2 L1683.4 235.3 L1686.4 221.8 L1689.3 206 L1691.9 189.4 L1694.6 170 L1696.9 150 L1699 129.7 L1701 106.4 L1703.1 79.5 L1704.8 52.9 L1706.3 27.8 L1708.3 -12.8 L1710.1 -53.8 L1710.4 -54.8" fill="none" stroke="#ff0000" stroke-width="3" stroke-dasharray="27 23" stroke-dashoffset="2" stroke-linejoin="round"/>
<path d="M1008.3 336 L1015.6 333.3 L1022.9 330.1 L1030.3 326.4 L1036.1 323 L1042 319.3 L1047.8 315.1 L1053.7 310.6 L1064.5 301.8 L1068.4 298.9 L1072.2 296.4 L1075.4 294.9 L1077.7 294.3 L1079.8 294.3 L1081.8 294.8 L1083.6 295.9 L1085.3 297.6 L1086.8 299.7 L1088.3 302.4 L1089.7 305.9 L1091.8 312.3 L1093.6 319.5 L1095.3 328.5 L1096.8 337.7 L1098.5 350.9 L1100 364.1 L1101.5 379.5 L1102.9 397.2 L1105.6 435.9 L1108.1 482.5 L1110.5 534.8 L1113.8 615.9" fill="none" stroke="#000" stroke-width="2.6" stroke-linejoin="round"/>
<path d="M1143.7 614.1 L1146.9 534 L1150 468.9 L1151.6 439.5 L1153.1 416.5 L1154.6 396.3 L1156.3 375.4 L1158.1 357.9 L1159.8 343.4 L1161.6 331.5 L1163.7 320.5 L1165.7 312 L1166.9 308.2 L1168 304.9 L1169.2 302.3 L1170.7 299.6 L1171.9 297.9 L1173.3 296.3 L1174.5 295.4 L1175.7 294.8 L1176.8 294.4 L1178.3 294.2 L1179.5 294.3 L1180.9 294.6 L1182.4 295 L1184.2 295.8 L1187.1 297.5 L1190.6 300 L1205 311.6 L1210.8 316 L1216.7 320.1 L1222.5 323.8 L1229.9 327.8 L1237.2 331.3 L1246 334.9 L1254.8 337.8 L1263.6 340.3 L1273.8 342.6 L1284.1 344.5 L1295.8 346.1 L1307.5 347.3 L1319.2 348.1 L1332.4 348.6 L1345.6 348.7 L1358.8 348.5 L1372 347.8 L1383.7 346.9 L1395.4 345.5 L1407.1 343.7 L1417.4 341.7 L1427.6 339.1 L1436.4 336.4 L1443.8 333.8 L1451.1 330.7 L1458.4 327.1 L1464.3 323.8 L1470.1 320.1 L1477.5 315 L1483.3 310.4 L1494.4 301.4 L1499.1 297.9 L1501.8 296.3 L1504.1 295.2 L1506.2 294.5 L1508.2 294.2 L1510 294.4 L1511.7 295.1 L1513.5 296.3 L1515 297.9 L1516.4 300.1 L1517.6 302.3 L1519.1 305.7 L1520.2 309.1 L1521.4 313.1 L1522.6 317.8 L1524.6 328.1 L1526.7 341.3 L1528.7 357.9 L1530.8 378.7 L1532.5 400.1 L1534.3 425.4 L1536.1 454.8 L1537.8 487.7 L1539.5 525.5 L1543.2 615.9" fill="none" stroke="#000" stroke-width="2.6" stroke-linejoin="round"/>
<path d="M1573.2 613.1 L1576.2 535.7 L1579.1 474.6 L1580.7 445.8 L1582.1 422 L1583.6 401.1 L1585.1 382.8 L1586.5 367 L1588.3 350.9 L1590 337.7 L1591.8 326.9 L1593.8 316.9 L1595.9 309.3 L1598 303.7 L1599.1 301.2 L1600.3 299.2 L1601.5 297.6 L1602.9 296.1 L1604.4 295.1 L1605.9 294.5 L1607.3 294.3 L1609.1 294.3 L1610.8 294.7 L1612.9 295.5 L1615.5 296.9 L1618.8 299.1 L1622.9 302.3 L1634.3 311.5 L1638.7 314.9 L1644.5 319.1 L1650.4 322.9 L1657.7 327 L1665 330.7 L1672.4 333.8 L1679.7 336.4 L1687 338.7 L1694.3 340.6 L1701.7 342.3 L1710.5 344 L1719.3 345.3 L1728 346.4 L1736.8 347.3 L1747.1 348" fill="none" stroke="#000" stroke-width="2.6" stroke-linejoin="round"/>
<path d="M1008.3 342 L1015.6 343.4 L1022.9 344.6 L1030.3 345.5 L1039.1 346.4 L1046.4 347 L1055.2 347.4 L1064 347.7 L1072.7 347.7 L1081.5 347.5 L1090.3 347.1 L1099.1 346.5 L1106.4 345.8 L1113.8 344.9 L1121.1 343.8 L1128.4 342.5 L1135.7 340.9 L1141.6 339.4 L1147.5 337.6 L1153.3 335.5 L1157.7 333.8 L1162.1 331.8 L1166.5 329.6 L1170.9 327.1 L1175.3 324.2 L1179.7 321 L1182.6 318.6 L1187 314.6 L1189.9 311.6 L1192.9 308.3 L1195.8 304.6 L1198.7 300.6 L1201.7 296.1 L1204.6 291.1 L1207.5 285.5 L1210.5 279.2 L1211.9 275.8 L1214.9 268.3 L1216.3 264.1 L1220.1 252 L1222.2 244.5 L1223.9 237.5 L1227.5 221.4 L1230.7 203.9 L1233.6 184.8 L1236.2 164.7 L1238.9 140.9 L1241.2 116 L1243.6 86.6 L1245.6 56.5 L1247.7 21.1 L1249.4 -14.4 L1251.2 -54.8" fill="none" stroke="#000" stroke-width="2.6" stroke-linejoin="round"/>
<path d="M1317.5 -53.8 L1318.9 -19.2 L1320.7 16.9 L1322.5 48.1 L1324.2 75.3 L1326.3 102.8 L1328.3 126.6 L1330.4 147.2 L1332.7 167.7 L1335.3 187.4 L1338 204.3 L1340.9 220.3 L1344.1 235.3 L1347.7 249.2 L1349.7 256.2 L1351.8 262.6 L1354.7 270.8 L1356.2 274.6 L1359.1 281.4 L1363.5 290.2 L1367.9 297.6 L1370.8 301.9 L1373.7 305.9 L1376.7 309.4 L1379.6 312.6 L1382.5 315.5 L1385.5 318.2 L1388.4 320.6 L1392.8 323.9 L1395.7 325.8 L1400.1 328.5 L1403 330.1 L1407.4 332.2 L1411.8 334.2 L1416.2 335.9 L1425 338.8 L1429.4 340 L1435.3 341.5 L1441.1 342.7 L1447 343.8 L1458.7 345.4 L1471.9 346.7 L1485.1 347.4 L1499.7 347.7 L1514.4 347.4 L1527.6 346.6 L1540.7 345.2 L1552.5 343.5 L1558.3 342.4 L1564.2 341.1 L1570 339.6 L1574.4 338.4 L1578.8 336.9 L1583.2 335.3 L1587.6 333.6 L1592 331.6 L1596.4 329.3 L1599.3 327.6 L1603.7 324.9 L1606.7 322.8 L1611.1 319.4 L1614 316.9 L1616.9 314.1 L1619.9 311 L1622.8 307.7 L1625.7 303.9 L1630.1 297.6 L1634.5 290.2 L1638.9 281.4 L1641.8 274.6 L1643.3 270.8 L1646.2 262.6 L1647.7 258.1 L1650.3 249.2 L1653.8 235.3 L1656.8 221.8 L1659.7 206 L1662.3 189.4 L1665 170 L1667.3 150 L1669.4 129.7 L1671.4 106.4 L1673.5 79.5 L1675.2 52.9 L1676.7 27.8 L1678.7 -12.8 L1680.5 -53.8 L1680.8 -54.8" fill="none" stroke="#000" stroke-width="2.6" stroke-linejoin="round"/>
<path d="M1746.9 -52.8 L1748.1 -24.9" fill="none" stroke="#000" stroke-width="2.6" stroke-linejoin="round"/>
</g>
<rect x="1012.3" y="21.4" width="732.8" height="522.6" fill="none" stroke="#000" stroke-width="4.8"/>
<path d="M1085.2 542 v-4.2 M1085.2 23.4 v3.6 M1231.7 542 v-4.2 M1231.7 23.4 v3.6 M1378.2 542 v-4.2 M1378.2 23.4 v3.6 M1524.7 542 v-4.2 M1524.7 23.4 v3.6 M1671.2 542 v-4.2 M1671.2 23.4 v3.6 M1014.3 470.1 h4 M1743.1 470.1 h-4 M1014.3 372.9 h4 M1743.1 372.9 h-4 M1014.3 275.7 h4 M1743.1 275.7 h-4 M1014.3 178.5 h4 M1743.1 178.5 h-4 M1014.3 81.3 h4 M1743.1 81.3 h-4" stroke="#000" stroke-width="3" fill="none"/>
<path d="M1048.6 541.8 v-1.3 M1048.6 23.6 v1.2 M1121.8 541.8 v-1.3 M1121.8 23.6 v1.2 M1158.5 541.8 v-1.3 M1158.5 23.6 v1.2 M1195.1 541.8 v-1.3 M1195.1 23.6 v1.2 M1268.3 541.8 v-1.3 M1268.3 23.6 v1.2 M1305 541.8 v-1.3 M1305 23.6 v1.2 M1341.6 541.8 v-1.3 M1341.6 23.6 v1.2 M1414.8 541.8 v-1.3 M1414.8 23.6 v1.2 M1451.5 541.8 v-1.3 M1451.5 23.6 v1.2 M1488.1 541.8 v-1.3 M1488.1 23.6 v1.2 M1561.3 541.8 v-1.3 M1561.3 23.6 v1.2 M1598 541.8 v-1.3 M1598 23.6 v1.2 M1634.6 541.8 v-1.3 M1634.6 23.6 v1.2 M1707.8 541.8 v-1.3 M1707.8 23.6 v1.2" stroke="#000" stroke-width="2.4" fill="none" opacity="0.85"/>
<text x="1084.7" y="561.2" font-size="13.5" text-anchor="middle">−4</text>
<text x="1231.2" y="561.2" font-size="13.5" text-anchor="middle">−2</text>
<text x="1378.2" y="561.2" font-size="13.5" text-anchor="middle">0</text>
<text x="1524.7" y="561.2" font-size="13.5" text-anchor="middle">2</text>
<text x="1671.2" y="561.2" font-size="13.5" text-anchor="middle">4</text>
<text x="1009.4" y="474.7" font-size="13.5" text-anchor="end">−10</text>
<text x="1009.4" y="377.5" font-size="13.5" text-anchor="end">0</text>
<text x="1009.4" y="280.3" font-size="13.5" text-anchor="end">10</text>
<text x="1009.4" y="183.1" font-size="13.5" text-anchor="end">20</text>
<text x="1009.4" y="85.9" font-size="13.5" text-anchor="end">30</text>
<text x="1378.6" y="589.6" font-size="17" text-anchor="middle">x−axis</text>
<text transform="translate(980.6 281) rotate(-90)" font-size="18.5" text-anchor="middle">Re Θ<tspan font-size="12.5" dy="4">1</tspan><tspan dy="-4">(x, t)</tspan></text>
<text x="1378.6" y="16.4" font-size="13.5" text-anchor="middle">(b)</text>
</g>
<g id="panel-c">
<rect x="49" y="699.2" width="815.2" height="524.8" fill="#8a82a7"/>
<g clip-path="url(#cclip)">
<use href="#cband" transform="translate(478.5 0)"/>
<use href="#cband" transform="translate(0 0)"/>
<use href="#cband" transform="translate(-478.5 0)"/>
<use href="#cband" transform="translate(-957 0)"/>
</g>
<path d="M46.8 687.4 V1235.1 M866.4 687.4 V1235.1" stroke="#000" stroke-width="4.4" fill="none"/>
<path d="M44.6 688.7 H868.6 M44.6 1233.8 H868.6" stroke="#000" stroke-width="2.7" fill="none"/>
<text transform="translate(127.6 1245) scale(1.5 1)" font-size="8" text-anchor="middle">−4</text>
<text transform="translate(38.6 1173.5) scale(1.5 1)" font-size="8" text-anchor="end">−4</text>
<text transform="translate(291.2 1245) scale(1.5 1)" font-size="8" text-anchor="middle">−2</text>
<text transform="translate(38.6 1068.8) scale(1.5 1)" font-size="8" text-anchor="end">−2</text>
<text transform="translate(456.8 1245) scale(1.5 1)" font-size="8" text-anchor="middle">0</text>
<text transform="translate(38.6 964.1) scale(1.5 1)" font-size="8" text-anchor="end">0</text>
<text transform="translate(620.4 1245) scale(1.5 1)" font-size="8" text-anchor="middle">2</text>
<text transform="translate(38.6 859.4) scale(1.5 1)" font-size="8" text-anchor="end">2</text>
<text transform="translate(784 1245) scale(1.5 1)" font-size="8" text-anchor="middle">4</text>
<text transform="translate(38.6 754.7) scale(1.5 1)" font-size="8" text-anchor="end">4</text>
<path d="M129.6 1233 v-2.6 M129.6 689.5 v2.4 M48.5 1170.8 h2.8 M864.6 1170.8 h-2.6 M293.2 1233 v-2.6 M293.2 689.5 v2.4 M48.5 1066.1 h2.8 M864.6 1066.1 h-2.6 M456.8 1233 v-2.6 M456.8 689.5 v2.4 M48.5 961.4 h2.8 M864.6 961.4 h-2.6 M620.4 1233 v-2.6 M620.4 689.5 v2.4 M48.5 856.7 h2.8 M864.6 856.7 h-2.6 M784 1233 v-2.6 M784 689.5 v2.4 M48.5 752 h2.8 M864.6 752 h-2.6" stroke="#000" stroke-width="3.4" fill="none"/>
<path d="M88.7 1233 v-1.9 M88.7 689.5 v1.8 M170.5 1233 v-1.9 M170.5 689.5 v1.8 M211.4 1233 v-1.9 M211.4 689.5 v1.8 M252.3 1233 v-1.9 M252.3 689.5 v1.8 M334.1 1233 v-1.9 M334.1 689.5 v1.8 M375 1233 v-1.9 M375 689.5 v1.8 M415.9 1233 v-1.9 M415.9 689.5 v1.8 M497.7 1233 v-1.9 M497.7 689.5 v1.8 M538.6 1233 v-1.9 M538.6 689.5 v1.8 M579.5 1233 v-1.9 M579.5 689.5 v1.8 M661.3 1233 v-1.9 M661.3 689.5 v1.8 M702.2 1233 v-1.9 M702.2 689.5 v1.8 M743.1 1233 v-1.9 M743.1 689.5 v1.8 M824.9 1233 v-1.9 M824.9 689.5 v1.8" stroke="#000" stroke-width="3.6" fill="none" opacity="0.75"/>
<text transform="translate(456.2 1263.7) scale(1.36 1)" font-size="13.2" text-anchor="middle">x−axis GrayLevel[0]</text>
<text transform="translate(16.2 962) rotate(-90) scale(0.96 1.42)" font-size="13" text-anchor="middle">t−axis</text>
<text transform="translate(456.3 684.6) scale(1.5 1)" font-size="9" text-anchor="middle">(c)</text>
</g>
<g id="panel-d">
<rect x="940.6" y="700.6" width="787.4" height="524.8" fill="#b1b2a7"/>
<g clip-path="url(#dclip)"><g><rect x="900" y="660" width="860" height="600" fill="#b1b2a7"/><g transform="matrix(0.96027 0 0 1.00478 895.55 -2.69)">
<use href="#dband" transform="translate(478.5 0)"/>
<use href="#dband" transform="translate(0 0)"/>
<use href="#dband" transform="translate(-478.5 0)"/>
<use href="#dband" transform="translate(-957 0)"/>
</g>
<path d="M930 690 L978 690 L962 704 L946 712 L930 718 Z" fill="#a0b45c" filter="url(#b8)"/>
</g>
<path d="M989.8 700.6 V1225.4 M940.6 733.4 H1728 M1039 700.6 V1225.4 M940.6 766.2 H1728 M1088.2 700.6 V1225.4 M940.6 799 H1728 M1137.5 700.6 V1225.4 M940.6 831.8 H1728 M1186.7 700.6 V1225.4 M940.6 864.6 H1728 M1235.9 700.6 V1225.4 M940.6 897.4 H1728 M1285.1 700.6 V1225.4 M940.6 930.2 H1728 M1334.3 700.6 V1225.4 M940.6 963 H1728 M1383.5 700.6 V1225.4 M940.6 995.8 H1728 M1432.7 700.6 V1225.4 M940.6 1028.6 H1728 M1481.9 700.6 V1225.4 M940.6 1061.4 H1728 M1531.2 700.6 V1225.4 M940.6 1094.2 H1728 M1580.4 700.6 V1225.4 M940.6 1127 H1728 M1629.6 700.6 V1225.4 M940.6 1159.8 H1728 M1678.8 700.6 V1225.4 M940.6 1192.6 H1728" stroke="#fff" stroke-opacity="0.2" stroke-width="1" fill="none"/>
</g>
<path d="M924.4 687.7 V1238.2 M1744 687.7 V1238.2" stroke="#000" stroke-width="5.3" fill="none"/>
<path d="M921.8 689.3 H1746.6 M921.8 1236.6 H1746.6" stroke="#000" stroke-width="3.2" fill="none"/>
<text transform="translate(1018 1247.4) scale(1.5 1)" font-size="8" text-anchor="middle">−4</text>
<text transform="translate(919.3 1176.4) scale(1.5 1)" font-size="8" text-anchor="end">−4</text>
<text transform="translate(1175.1 1247.4) scale(1.5 1)" font-size="8" text-anchor="middle">−2</text>
<text transform="translate(919.3 1071.2) scale(1.5 1)" font-size="8" text-anchor="end">−2</text>
<text transform="translate(1334.2 1247.4) scale(1.5 1)" font-size="8" text-anchor="middle">0</text>
<text transform="translate(919.3 966) scale(1.5 1)" font-size="8" text-anchor="end">0</text>
<text transform="translate(1491.3 1247.4) scale(1.5 1)" font-size="8" text-anchor="middle">2</text>
<text transform="translate(919.3 860.8) scale(1.5 1)" font-size="8" text-anchor="end">2</text>
<text transform="translate(1648.4 1247.4) scale(1.5 1)" font-size="8" text-anchor="middle">4</text>
<text transform="translate(919.3 755.6) scale(1.5 1)" font-size="8" text-anchor="end">4</text>
<path d="M1020 1235.6 v-2.6 M1020 690.3 v2.4 M926.4 1173.7 h2.6 M1742 1173.7 h-2.6 M1177.1 1235.6 v-2.6 M1177.1 690.3 v2.4 M926.4 1068.5 h2.6 M1742 1068.5 h-2.6 M1334.2 1235.6 v-2.6 M1334.2 690.3 v2.4 M926.4 963.3 h2.6 M1742 963.3 h-2.6 M1491.3 1235.6 v-2.6 M1491.3 690.3 v2.4 M926.4 858.1 h2.6 M1742 858.1 h-2.6 M1648.4 1235.6 v-2.6 M1648.4 690.3 v2.4 M926.4 752.9 h2.6 M1742 752.9 h-2.6" stroke="#000" stroke-width="3.4" fill="none"/>
<path d="M980.7 1235.6 v-1.4 M980.7 690.3 v1.3 M1059.3 1235.6 v-1.4 M1059.3 690.3 v1.3 M1098.6 1235.6 v-1.4 M1098.6 690.3 v1.3 M1137.8 1235.6 v-1.4 M1137.8 690.3 v1.3 M1216.4 1235.6 v-1.4 M1216.4 690.3 v1.3 M1255.7 1235.6 v-1.4 M1255.7 690.3 v1.3 M1294.9 1235.6 v-1.4 M1294.9 690.3 v1.3 M1373.5 1235.6 v-1.4 M1373.5 690.3 v1.3 M1412.8 1235.6 v-1.4 M1412.8 690.3 v1.3 M1452 1235.6 v-1.4 M1452 690.3 v1.3 M1530.6 1235.6 v-1.4 M1530.6 690.3 v1.3 M1569.8 1235.6 v-1.4 M1569.8 690.3 v1.3 M1609.1 1235.6 v-1.4 M1609.1 690.3 v1.3 M1687.7 1235.6 v-1.4 M1687.7 690.3 v1.3" stroke="#000" stroke-width="3.4" fill="none" opacity="0.6"/>
<text transform="translate(1334 1266.0) scale(1.36 1)" font-size="13.2" text-anchor="middle">x−axis</text>
<text transform="translate(894.2 963.5) rotate(-90) scale(0.96 1.42)" font-size="13" text-anchor="middle">t−axis</text>
<text transform="translate(1334 686.3) scale(1.5 1)" font-size="9" text-anchor="middle">(d)</text>
</g>
</svg>
</body></html>
